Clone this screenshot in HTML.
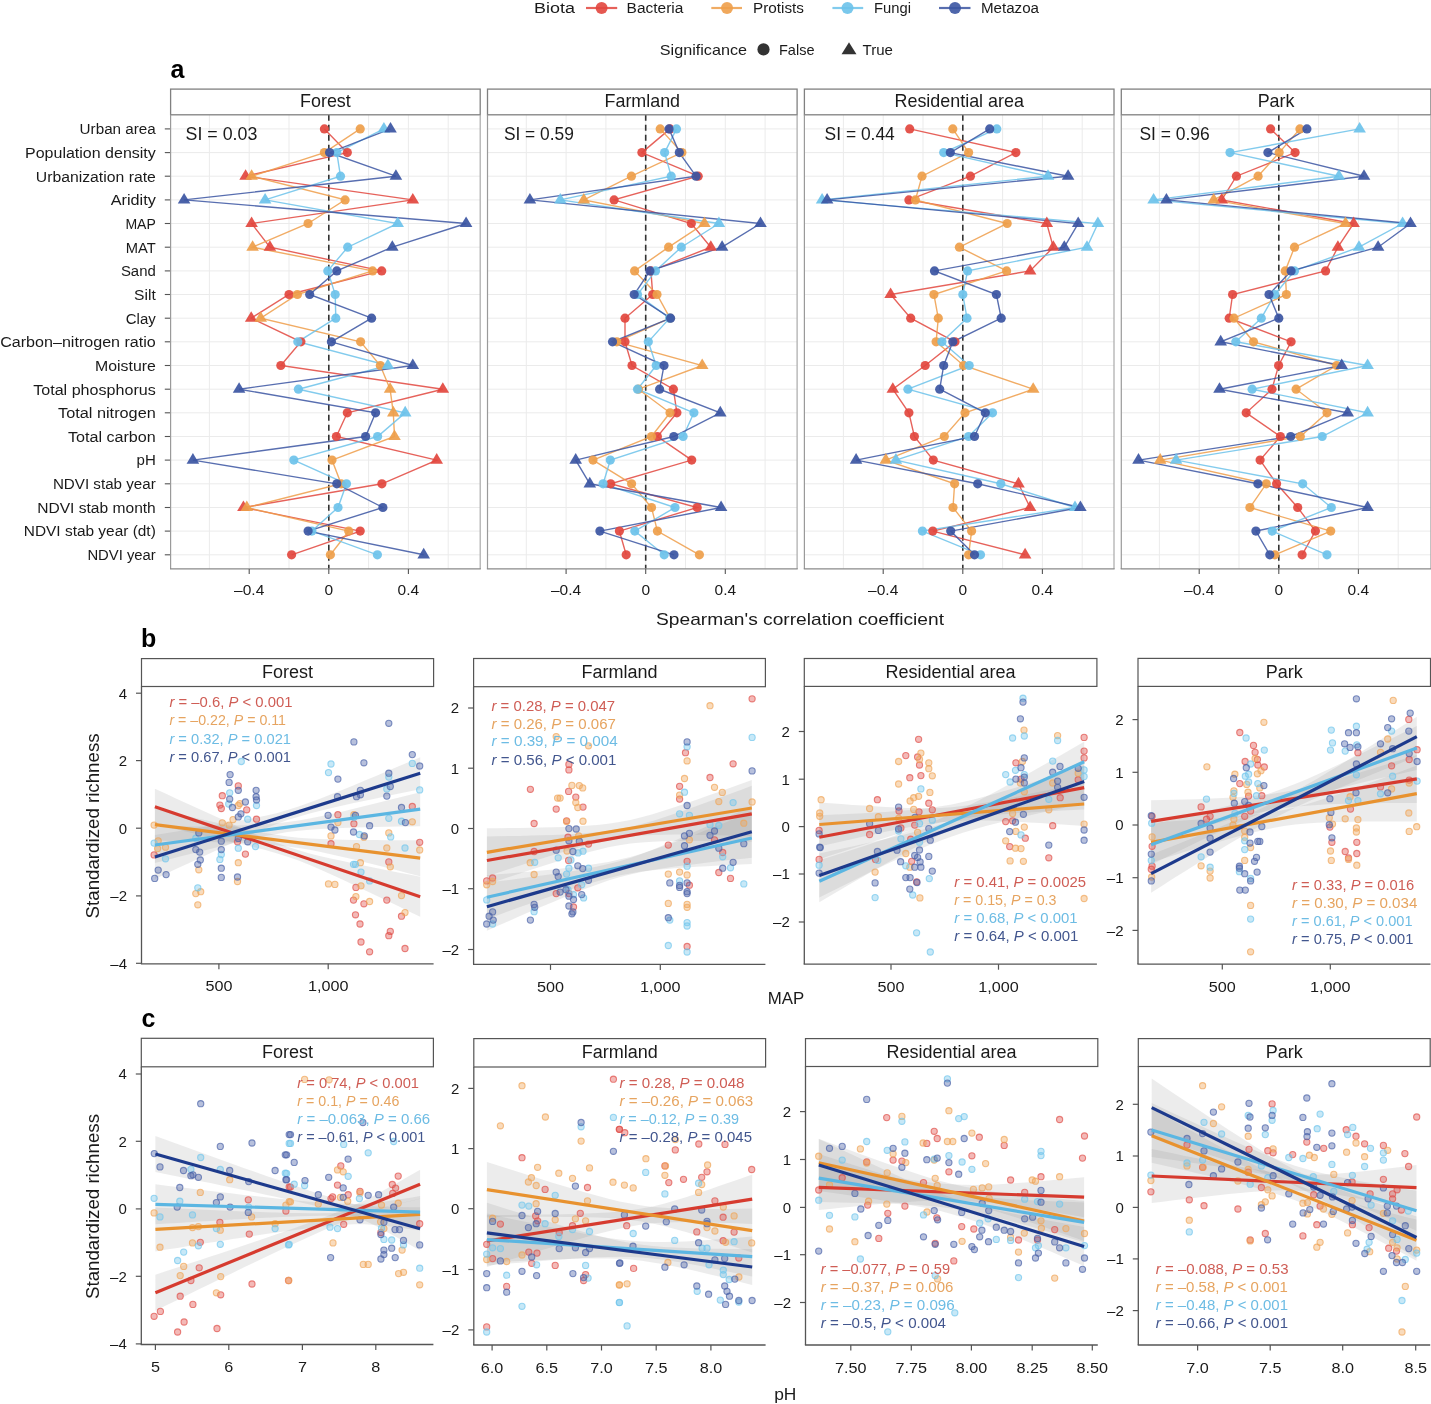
<!DOCTYPE html>
<html><head><meta charset="utf-8"><style>
html,body{margin:0;padding:0;background:#fff;}
svg{display:block;font-family:"Liberation Sans", sans-serif;will-change:transform;}
</style></head><body>
<svg width="1431" height="1404" viewBox="0 0 1431 1404">
<rect width="1431" height="1404" fill="#fff"/>
<text x="534.1" y="13.4" font-size="15.2" text-anchor="start" fill="#1a1a1a" textLength="40.9" lengthAdjust="spacingAndGlyphs">Biota</text>
<line x1="586" y1="8" x2="617.2" y2="8" stroke="#E2463E" stroke-width="2.2" opacity="0.85"/>
<circle cx="601.6" cy="8" r="6" fill="#E2463E" opacity="0.9"/>
<text x="626.6" y="13.4" font-size="15.2" text-anchor="start" fill="#1a1a1a" textLength="56.8" lengthAdjust="spacingAndGlyphs">Bacteria</text>
<line x1="711.3" y1="8" x2="742" y2="8" stroke="#EE9E4A" stroke-width="2.2" opacity="0.85"/>
<circle cx="727" cy="8" r="6" fill="#EE9E4A" opacity="0.9"/>
<text x="753.0" y="13.4" font-size="15.2" text-anchor="start" fill="#1a1a1a" textLength="51.0" lengthAdjust="spacingAndGlyphs">Protists</text>
<line x1="832.4" y1="8" x2="863.2" y2="8" stroke="#6CC2EA" stroke-width="2.2" opacity="0.85"/>
<circle cx="847.5" cy="8" r="6" fill="#6CC2EA" opacity="0.9"/>
<text x="874.0" y="13.4" font-size="15.2" text-anchor="start" fill="#1a1a1a" textLength="37.0" lengthAdjust="spacingAndGlyphs">Fungi</text>
<line x1="939" y1="8" x2="970.5" y2="8" stroke="#3B55A2" stroke-width="2.2" opacity="0.85"/>
<circle cx="955" cy="8" r="6" fill="#3B55A2" opacity="0.9"/>
<text x="980.9" y="13.4" font-size="15.2" text-anchor="start" fill="#1a1a1a" textLength="58.1" lengthAdjust="spacingAndGlyphs">Metazoa</text>
<text x="659.8" y="54.5" font-size="15" text-anchor="start" fill="#1a1a1a" textLength="87.2" lengthAdjust="spacingAndGlyphs">Significance</text>
<circle cx="763.5" cy="49.4" r="6.1" fill="#333"/>
<text x="779.0" y="54.5" font-size="15" text-anchor="start" fill="#1a1a1a" textLength="35.5" lengthAdjust="spacingAndGlyphs">False</text>
<path d="M849 42.3 L856.5 54.3 L841.5 54.3 Z" fill="#333"/>
<text x="862.6" y="54.5" font-size="15" text-anchor="start" fill="#1a1a1a" textLength="30.4" lengthAdjust="spacingAndGlyphs">True</text>
<text x="170.5" y="78.0" font-size="25" text-anchor="start" fill="#000" font-weight="bold">a</text>
<text x="155.8" y="134.2" font-size="15.5" text-anchor="end" fill="#1a1a1a" textLength="76.2" lengthAdjust="spacingAndGlyphs">Urban area</text>
<line x1="164.8" y1="128.9" x2="170.6" y2="128.9" stroke="#555" stroke-width="1.1"/>
<text x="155.8" y="157.9" font-size="15.5" text-anchor="end" fill="#1a1a1a" textLength="130.8" lengthAdjust="spacingAndGlyphs">Population density</text>
<line x1="164.8" y1="152.6" x2="170.6" y2="152.6" stroke="#555" stroke-width="1.1"/>
<text x="155.8" y="181.5" font-size="15.5" text-anchor="end" fill="#1a1a1a" textLength="120.0" lengthAdjust="spacingAndGlyphs">Urbanization rate</text>
<line x1="164.8" y1="176.2" x2="170.6" y2="176.2" stroke="#555" stroke-width="1.1"/>
<text x="155.8" y="205.2" font-size="15.5" text-anchor="end" fill="#1a1a1a" textLength="45.1" lengthAdjust="spacingAndGlyphs">Aridity</text>
<line x1="164.8" y1="199.9" x2="170.6" y2="199.9" stroke="#555" stroke-width="1.1"/>
<text x="155.8" y="228.8" font-size="15.5" text-anchor="end" fill="#1a1a1a" textLength="30.4" lengthAdjust="spacingAndGlyphs">MAP</text>
<line x1="164.8" y1="223.5" x2="170.6" y2="223.5" stroke="#555" stroke-width="1.1"/>
<text x="155.8" y="252.5" font-size="15.5" text-anchor="end" fill="#1a1a1a" textLength="30.0" lengthAdjust="spacingAndGlyphs">MAT</text>
<line x1="164.8" y1="247.2" x2="170.6" y2="247.2" stroke="#555" stroke-width="1.1"/>
<text x="155.8" y="276.2" font-size="15.5" text-anchor="end" fill="#1a1a1a" textLength="34.9" lengthAdjust="spacingAndGlyphs">Sand</text>
<line x1="164.8" y1="270.9" x2="170.6" y2="270.9" stroke="#555" stroke-width="1.1"/>
<text x="155.8" y="299.8" font-size="15.5" text-anchor="end" fill="#1a1a1a" textLength="21.7" lengthAdjust="spacingAndGlyphs">Silt</text>
<line x1="164.8" y1="294.5" x2="170.6" y2="294.5" stroke="#555" stroke-width="1.1"/>
<text x="155.8" y="323.5" font-size="15.5" text-anchor="end" fill="#1a1a1a" textLength="30.0" lengthAdjust="spacingAndGlyphs">Clay</text>
<line x1="164.8" y1="318.2" x2="170.6" y2="318.2" stroke="#555" stroke-width="1.1"/>
<text x="155.8" y="347.1" font-size="15.5" text-anchor="end" fill="#1a1a1a" textLength="155.6" lengthAdjust="spacingAndGlyphs">Carbon–nitrogen ratio</text>
<line x1="164.8" y1="341.8" x2="170.6" y2="341.8" stroke="#555" stroke-width="1.1"/>
<text x="155.8" y="370.8" font-size="15.5" text-anchor="end" fill="#1a1a1a" textLength="60.7" lengthAdjust="spacingAndGlyphs">Moisture</text>
<line x1="164.8" y1="365.5" x2="170.6" y2="365.5" stroke="#555" stroke-width="1.1"/>
<text x="155.8" y="394.5" font-size="15.5" text-anchor="end" fill="#1a1a1a" textLength="122.6" lengthAdjust="spacingAndGlyphs">Total phosphorus</text>
<line x1="164.8" y1="389.2" x2="170.6" y2="389.2" stroke="#555" stroke-width="1.1"/>
<text x="155.8" y="418.1" font-size="15.5" text-anchor="end" fill="#1a1a1a" textLength="97.8" lengthAdjust="spacingAndGlyphs">Total nitrogen</text>
<line x1="164.8" y1="412.8" x2="170.6" y2="412.8" stroke="#555" stroke-width="1.1"/>
<text x="155.8" y="441.8" font-size="15.5" text-anchor="end" fill="#1a1a1a" textLength="87.9" lengthAdjust="spacingAndGlyphs">Total carbon</text>
<line x1="164.8" y1="436.5" x2="170.6" y2="436.5" stroke="#555" stroke-width="1.1"/>
<text x="155.8" y="465.4" font-size="15.5" text-anchor="end" fill="#1a1a1a" textLength="19.2" lengthAdjust="spacingAndGlyphs">pH</text>
<line x1="164.8" y1="460.1" x2="170.6" y2="460.1" stroke="#555" stroke-width="1.1"/>
<text x="155.8" y="489.1" font-size="15.5" text-anchor="end" fill="#1a1a1a" textLength="102.9" lengthAdjust="spacingAndGlyphs">NDVI stab year</text>
<line x1="164.8" y1="483.8" x2="170.6" y2="483.8" stroke="#555" stroke-width="1.1"/>
<text x="155.8" y="512.8" font-size="15.5" text-anchor="end" fill="#1a1a1a" textLength="118.6" lengthAdjust="spacingAndGlyphs">NDVI stab month</text>
<line x1="164.8" y1="507.5" x2="170.6" y2="507.5" stroke="#555" stroke-width="1.1"/>
<text x="155.8" y="536.4" font-size="15.5" text-anchor="end" fill="#1a1a1a" textLength="132.0" lengthAdjust="spacingAndGlyphs">NDVI stab year (dt)</text>
<line x1="164.8" y1="531.1" x2="170.6" y2="531.1" stroke="#555" stroke-width="1.1"/>
<text x="155.8" y="560.1" font-size="15.5" text-anchor="end" fill="#1a1a1a" textLength="68.4" lengthAdjust="spacingAndGlyphs">NDVI year</text>
<line x1="164.8" y1="554.8" x2="170.6" y2="554.8" stroke="#555" stroke-width="1.1"/>
<g stroke="#ebebeb" stroke-width="1">
<line x1="209.4" y1="114.8" x2="209.4" y2="568.9"/>
<line x1="249.2" y1="114.8" x2="249.2" y2="568.9"/>
<line x1="289.0" y1="114.8" x2="289.0" y2="568.9"/>
<line x1="328.8" y1="114.8" x2="328.8" y2="568.9"/>
<line x1="368.6" y1="114.8" x2="368.6" y2="568.9"/>
<line x1="408.4" y1="114.8" x2="408.4" y2="568.9"/>
<line x1="448.2" y1="114.8" x2="448.2" y2="568.9"/>
<line x1="170.6" y1="128.9" x2="480.20000000000005" y2="128.9"/>
<line x1="170.6" y1="152.6" x2="480.20000000000005" y2="152.6"/>
<line x1="170.6" y1="176.2" x2="480.20000000000005" y2="176.2"/>
<line x1="170.6" y1="199.9" x2="480.20000000000005" y2="199.9"/>
<line x1="170.6" y1="223.5" x2="480.20000000000005" y2="223.5"/>
<line x1="170.6" y1="247.2" x2="480.20000000000005" y2="247.2"/>
<line x1="170.6" y1="270.9" x2="480.20000000000005" y2="270.9"/>
<line x1="170.6" y1="294.5" x2="480.20000000000005" y2="294.5"/>
<line x1="170.6" y1="318.2" x2="480.20000000000005" y2="318.2"/>
<line x1="170.6" y1="341.8" x2="480.20000000000005" y2="341.8"/>
<line x1="170.6" y1="365.5" x2="480.20000000000005" y2="365.5"/>
<line x1="170.6" y1="389.2" x2="480.20000000000005" y2="389.2"/>
<line x1="170.6" y1="412.8" x2="480.20000000000005" y2="412.8"/>
<line x1="170.6" y1="436.5" x2="480.20000000000005" y2="436.5"/>
<line x1="170.6" y1="460.1" x2="480.20000000000005" y2="460.1"/>
<line x1="170.6" y1="483.8" x2="480.20000000000005" y2="483.8"/>
<line x1="170.6" y1="507.5" x2="480.20000000000005" y2="507.5"/>
<line x1="170.6" y1="531.1" x2="480.20000000000005" y2="531.1"/>
<line x1="170.6" y1="554.8" x2="480.20000000000005" y2="554.8"/>
</g>
<line x1="328.8" y1="114.8" x2="328.8" y2="568.9" stroke="#333" stroke-width="1.6" stroke-dasharray="6,4"/>
<polyline points="324.4,128.9 347.3,152.6 245.6,176.2 412.8,199.9 251.6,223.5 269.9,247.2 381.7,270.9 289.0,294.5 251.2,318.2 300.9,341.8 280.8,365.5 442.8,389.2 347.3,412.8 336.4,436.5 436.7,460.1 381.9,483.8 243.4,507.5 360.2,531.1 291.6,554.8" fill="none" stroke="#E2463E" stroke-width="1.4" opacity="0.85"/>
<polyline points="360.2,128.9 324.4,152.6 251.6,176.2 345.1,199.9 308.1,223.5 252.6,247.2 372.6,270.9 297.4,294.5 260.7,318.2 360.6,341.8 380.3,365.5 390.1,389.2 393.3,412.8 394.5,436.5 332.0,460.1 341.1,483.8 246.8,507.5 348.7,531.1 330.4,554.8" fill="none" stroke="#EE9E4A" stroke-width="1.4" opacity="0.85"/>
<polyline points="383.9,128.9 336.8,152.6 340.5,176.2 265.1,199.9 397.7,223.5 347.7,247.2 327.8,270.9 335.2,294.5 335.8,318.2 297.8,341.8 387.9,365.5 298.4,389.2 405.2,412.8 377.6,436.5 293.8,460.1 346.5,483.8 338.0,507.5 311.9,531.1 377.4,554.8" fill="none" stroke="#6CC2EA" stroke-width="1.4" opacity="0.85"/>
<polyline points="390.5,128.9 329.6,152.6 395.9,176.2 184.1,199.9 466.1,223.5 392.3,247.2 336.8,270.9 309.7,294.5 371.6,318.2 331.4,341.8 412.8,365.5 239.1,389.2 375.6,412.8 365.6,436.5 192.9,460.1 336.8,483.8 382.9,507.5 308.1,531.1 423.7,554.8" fill="none" stroke="#3B55A2" stroke-width="1.4" opacity="0.85"/>
<circle cx="324.4" cy="128.9" r="4.6" fill="#E2463E" opacity="0.92"/>
<circle cx="360.2" cy="128.9" r="4.6" fill="#EE9E4A" opacity="0.92"/>
<path d="M383.9 121.9 L390.2 132.5 L377.6 132.5 Z" fill="#6CC2EA" opacity="0.92"/>
<path d="M390.5 121.9 L396.8 132.5 L384.2 132.5 Z" fill="#3B55A2" opacity="0.92"/>
<circle cx="347.3" cy="152.6" r="4.6" fill="#E2463E" opacity="0.92"/>
<circle cx="324.4" cy="152.6" r="4.6" fill="#EE9E4A" opacity="0.92"/>
<circle cx="336.8" cy="152.6" r="4.6" fill="#6CC2EA" opacity="0.92"/>
<circle cx="329.6" cy="152.6" r="4.6" fill="#3B55A2" opacity="0.92"/>
<path d="M245.6 169.2 L251.9 179.8 L239.3 179.8 Z" fill="#E2463E" opacity="0.92"/>
<path d="M251.6 169.2 L257.9 179.8 L245.3 179.8 Z" fill="#EE9E4A" opacity="0.92"/>
<circle cx="340.5" cy="176.2" r="4.6" fill="#6CC2EA" opacity="0.92"/>
<path d="M395.9 169.2 L402.2 179.8 L389.6 179.8 Z" fill="#3B55A2" opacity="0.92"/>
<path d="M412.8 192.9 L419.1 203.5 L406.5 203.5 Z" fill="#E2463E" opacity="0.92"/>
<circle cx="345.1" cy="199.9" r="4.6" fill="#EE9E4A" opacity="0.92"/>
<path d="M265.1 192.9 L271.4 203.5 L258.8 203.5 Z" fill="#6CC2EA" opacity="0.92"/>
<path d="M184.1 192.9 L190.4 203.5 L177.8 203.5 Z" fill="#3B55A2" opacity="0.92"/>
<path d="M251.6 216.5 L257.9 227.1 L245.3 227.1 Z" fill="#E2463E" opacity="0.92"/>
<circle cx="308.1" cy="223.5" r="4.6" fill="#EE9E4A" opacity="0.92"/>
<path d="M397.7 216.5 L404.0 227.1 L391.4 227.1 Z" fill="#6CC2EA" opacity="0.92"/>
<path d="M466.1 216.5 L472.4 227.1 L459.8 227.1 Z" fill="#3B55A2" opacity="0.92"/>
<path d="M269.9 240.2 L276.2 250.8 L263.6 250.8 Z" fill="#E2463E" opacity="0.92"/>
<path d="M252.6 240.2 L258.9 250.8 L246.3 250.8 Z" fill="#EE9E4A" opacity="0.92"/>
<circle cx="347.7" cy="247.2" r="4.6" fill="#6CC2EA" opacity="0.92"/>
<path d="M392.3 240.2 L398.6 250.8 L386.0 250.8 Z" fill="#3B55A2" opacity="0.92"/>
<circle cx="381.7" cy="270.9" r="4.6" fill="#E2463E" opacity="0.92"/>
<circle cx="372.6" cy="270.9" r="4.6" fill="#EE9E4A" opacity="0.92"/>
<circle cx="327.8" cy="270.9" r="4.6" fill="#6CC2EA" opacity="0.92"/>
<circle cx="336.8" cy="270.9" r="4.6" fill="#3B55A2" opacity="0.92"/>
<circle cx="289.0" cy="294.5" r="4.6" fill="#E2463E" opacity="0.92"/>
<circle cx="297.4" cy="294.5" r="4.6" fill="#EE9E4A" opacity="0.92"/>
<circle cx="335.2" cy="294.5" r="4.6" fill="#6CC2EA" opacity="0.92"/>
<circle cx="309.7" cy="294.5" r="4.6" fill="#3B55A2" opacity="0.92"/>
<path d="M251.2 311.2 L257.5 321.8 L244.9 321.8 Z" fill="#E2463E" opacity="0.92"/>
<path d="M260.7 311.2 L267.0 321.8 L254.4 321.8 Z" fill="#EE9E4A" opacity="0.92"/>
<circle cx="335.8" cy="318.2" r="4.6" fill="#6CC2EA" opacity="0.92"/>
<circle cx="371.6" cy="318.2" r="4.6" fill="#3B55A2" opacity="0.92"/>
<circle cx="300.9" cy="341.8" r="4.6" fill="#E2463E" opacity="0.92"/>
<circle cx="360.6" cy="341.8" r="4.6" fill="#EE9E4A" opacity="0.92"/>
<circle cx="297.8" cy="341.8" r="4.6" fill="#6CC2EA" opacity="0.92"/>
<circle cx="331.4" cy="341.8" r="4.6" fill="#3B55A2" opacity="0.92"/>
<circle cx="280.8" cy="365.5" r="4.6" fill="#E2463E" opacity="0.92"/>
<circle cx="380.3" cy="365.5" r="4.6" fill="#EE9E4A" opacity="0.92"/>
<path d="M387.9 358.5 L394.2 369.1 L381.6 369.1 Z" fill="#6CC2EA" opacity="0.92"/>
<path d="M412.8 358.5 L419.1 369.1 L406.5 369.1 Z" fill="#3B55A2" opacity="0.92"/>
<path d="M442.8 382.2 L449.1 392.8 L436.5 392.8 Z" fill="#E2463E" opacity="0.92"/>
<path d="M390.1 382.2 L396.4 392.8 L383.8 392.8 Z" fill="#EE9E4A" opacity="0.92"/>
<circle cx="298.4" cy="389.2" r="4.6" fill="#6CC2EA" opacity="0.92"/>
<path d="M239.1 382.2 L245.4 392.8 L232.8 392.8 Z" fill="#3B55A2" opacity="0.92"/>
<circle cx="347.3" cy="412.8" r="4.6" fill="#E2463E" opacity="0.92"/>
<path d="M393.3 405.8 L399.6 416.4 L387.0 416.4 Z" fill="#EE9E4A" opacity="0.92"/>
<path d="M405.2 405.8 L411.5 416.4 L398.9 416.4 Z" fill="#6CC2EA" opacity="0.92"/>
<circle cx="375.6" cy="412.8" r="4.6" fill="#3B55A2" opacity="0.92"/>
<circle cx="336.4" cy="436.5" r="4.6" fill="#E2463E" opacity="0.92"/>
<path d="M394.5 429.5 L400.8 440.1 L388.2 440.1 Z" fill="#EE9E4A" opacity="0.92"/>
<circle cx="377.6" cy="436.5" r="4.6" fill="#6CC2EA" opacity="0.92"/>
<circle cx="365.6" cy="436.5" r="4.6" fill="#3B55A2" opacity="0.92"/>
<path d="M436.7 453.1 L443.0 463.7 L430.4 463.7 Z" fill="#E2463E" opacity="0.92"/>
<circle cx="332.0" cy="460.1" r="4.6" fill="#EE9E4A" opacity="0.92"/>
<circle cx="293.8" cy="460.1" r="4.6" fill="#6CC2EA" opacity="0.92"/>
<path d="M192.9 453.1 L199.2 463.7 L186.6 463.7 Z" fill="#3B55A2" opacity="0.92"/>
<circle cx="381.9" cy="483.8" r="4.6" fill="#E2463E" opacity="0.92"/>
<circle cx="341.1" cy="483.8" r="4.6" fill="#EE9E4A" opacity="0.92"/>
<circle cx="346.5" cy="483.8" r="4.6" fill="#6CC2EA" opacity="0.92"/>
<circle cx="336.8" cy="483.8" r="4.6" fill="#3B55A2" opacity="0.92"/>
<path d="M243.4 500.5 L249.7 511.1 L237.1 511.1 Z" fill="#E2463E" opacity="0.92"/>
<path d="M246.8 500.5 L253.1 511.1 L240.5 511.1 Z" fill="#EE9E4A" opacity="0.92"/>
<circle cx="338.0" cy="507.5" r="4.6" fill="#6CC2EA" opacity="0.92"/>
<circle cx="382.9" cy="507.5" r="4.6" fill="#3B55A2" opacity="0.92"/>
<circle cx="360.2" cy="531.1" r="4.6" fill="#E2463E" opacity="0.92"/>
<circle cx="348.7" cy="531.1" r="4.6" fill="#EE9E4A" opacity="0.92"/>
<circle cx="311.9" cy="531.1" r="4.6" fill="#6CC2EA" opacity="0.92"/>
<circle cx="308.1" cy="531.1" r="4.6" fill="#3B55A2" opacity="0.92"/>
<circle cx="291.6" cy="554.8" r="4.6" fill="#E2463E" opacity="0.92"/>
<circle cx="330.4" cy="554.8" r="4.6" fill="#EE9E4A" opacity="0.92"/>
<circle cx="377.4" cy="554.8" r="4.6" fill="#6CC2EA" opacity="0.92"/>
<path d="M423.7 547.8 L430.0 558.4 L417.4 558.4 Z" fill="#3B55A2" opacity="0.92"/>
<rect x="170.6" y="89.1" width="309.6" height="25.7" fill="#fff" stroke="#808080" stroke-width="1.3"/>
<text x="325.4" y="107.1" font-size="17.9" text-anchor="middle" fill="#1a1a1a">Forest</text>
<line x1="170.6" y1="114.8" x2="170.6" y2="568.9" stroke="#9a9a9a" stroke-width="1.2"/>
<line x1="480.20000000000005" y1="114.8" x2="480.20000000000005" y2="568.9" stroke="#aaa" stroke-width="1.2"/>
<line x1="170.0" y1="568.9" x2="480.80000000000007" y2="568.9" stroke="#8a8a8a" stroke-width="1.3"/>
<text x="185.6" y="140.4" font-size="17.5" text-anchor="start" fill="#1a1a1a" textLength="71.7" lengthAdjust="spacingAndGlyphs">SI = 0.03</text>
<line x1="249.2" y1="568.9" x2="249.2" y2="573.9" stroke="#555" stroke-width="1.1"/>
<text x="249.2" y="595.0" font-size="15.5" text-anchor="middle" fill="#1a1a1a">–0.4</text>
<line x1="328.8" y1="568.9" x2="328.8" y2="573.9" stroke="#555" stroke-width="1.1"/>
<text x="328.8" y="595.0" font-size="15.5" text-anchor="middle" fill="#1a1a1a">0</text>
<line x1="408.4" y1="568.9" x2="408.4" y2="573.9" stroke="#555" stroke-width="1.1"/>
<text x="408.4" y="595.0" font-size="15.5" text-anchor="middle" fill="#1a1a1a">0.4</text>
<g stroke="#ebebeb" stroke-width="1">
<line x1="526.3" y1="114.8" x2="526.3" y2="568.9"/>
<line x1="566.1" y1="114.8" x2="566.1" y2="568.9"/>
<line x1="605.9" y1="114.8" x2="605.9" y2="568.9"/>
<line x1="645.7" y1="114.8" x2="645.7" y2="568.9"/>
<line x1="685.5" y1="114.8" x2="685.5" y2="568.9"/>
<line x1="725.3" y1="114.8" x2="725.3" y2="568.9"/>
<line x1="765.1" y1="114.8" x2="765.1" y2="568.9"/>
<line x1="487.5" y1="128.9" x2="797.1" y2="128.9"/>
<line x1="487.5" y1="152.6" x2="797.1" y2="152.6"/>
<line x1="487.5" y1="176.2" x2="797.1" y2="176.2"/>
<line x1="487.5" y1="199.9" x2="797.1" y2="199.9"/>
<line x1="487.5" y1="223.5" x2="797.1" y2="223.5"/>
<line x1="487.5" y1="247.2" x2="797.1" y2="247.2"/>
<line x1="487.5" y1="270.9" x2="797.1" y2="270.9"/>
<line x1="487.5" y1="294.5" x2="797.1" y2="294.5"/>
<line x1="487.5" y1="318.2" x2="797.1" y2="318.2"/>
<line x1="487.5" y1="341.8" x2="797.1" y2="341.8"/>
<line x1="487.5" y1="365.5" x2="797.1" y2="365.5"/>
<line x1="487.5" y1="389.2" x2="797.1" y2="389.2"/>
<line x1="487.5" y1="412.8" x2="797.1" y2="412.8"/>
<line x1="487.5" y1="436.5" x2="797.1" y2="436.5"/>
<line x1="487.5" y1="460.1" x2="797.1" y2="460.1"/>
<line x1="487.5" y1="483.8" x2="797.1" y2="483.8"/>
<line x1="487.5" y1="507.5" x2="797.1" y2="507.5"/>
<line x1="487.5" y1="531.1" x2="797.1" y2="531.1"/>
<line x1="487.5" y1="554.8" x2="797.1" y2="554.8"/>
</g>
<line x1="645.7" y1="114.8" x2="645.7" y2="568.9" stroke="#333" stroke-width="1.6" stroke-dasharray="6,4"/>
<polyline points="670.0,128.9 641.9,152.6 698.2,176.2 614.1,199.9 691.3,223.5 710.8,247.2 650.9,270.9 652.7,294.5 625.0,318.2 625.0,341.8 632.0,365.5 673.4,389.2 676.9,412.8 657.4,436.5 691.7,460.1 610.7,483.8 697.2,507.5 619.4,531.1 626.2,554.8" fill="none" stroke="#E2463E" stroke-width="1.4" opacity="0.85"/>
<polyline points="660.2,128.9 681.9,152.6 631.4,176.2 583.8,199.9 704.4,223.5 668.6,247.2 634.6,270.9 657.0,294.5 670.0,318.2 616.8,341.8 702.2,365.5 638.5,389.2 670.0,412.8 651.5,436.5 593.0,460.1 631.6,483.8 651.5,507.5 657.4,531.1 699.4,554.8" fill="none" stroke="#EE9E4A" stroke-width="1.4" opacity="0.85"/>
<polyline points="676.5,128.9 664.6,152.6 671.2,176.2 560.3,199.9 718.9,223.5 681.3,247.2 655.5,270.9 637.5,294.5 669.6,318.2 648.3,341.8 656.2,365.5 637.5,389.2 693.9,412.8 683.1,436.5 610.3,460.1 603.1,483.8 675.0,507.5 634.8,531.1 664.2,554.8" fill="none" stroke="#6CC2EA" stroke-width="1.4" opacity="0.85"/>
<polyline points="669.0,128.9 679.3,152.6 696.0,176.2 529.9,199.9 760.5,223.5 722.1,247.2 649.9,270.9 634.2,294.5 670.6,318.2 612.5,341.8 664.0,365.5 659.6,389.2 720.3,412.8 673.8,436.5 575.7,460.1 589.8,483.8 721.1,507.5 599.9,531.1 674.0,554.8" fill="none" stroke="#3B55A2" stroke-width="1.4" opacity="0.85"/>
<circle cx="670.0" cy="128.9" r="4.6" fill="#E2463E" opacity="0.92"/>
<circle cx="660.2" cy="128.9" r="4.6" fill="#EE9E4A" opacity="0.92"/>
<circle cx="676.5" cy="128.9" r="4.6" fill="#6CC2EA" opacity="0.92"/>
<circle cx="669.0" cy="128.9" r="4.6" fill="#3B55A2" opacity="0.92"/>
<circle cx="641.9" cy="152.6" r="4.6" fill="#E2463E" opacity="0.92"/>
<circle cx="681.9" cy="152.6" r="4.6" fill="#EE9E4A" opacity="0.92"/>
<circle cx="664.6" cy="152.6" r="4.6" fill="#6CC2EA" opacity="0.92"/>
<circle cx="679.3" cy="152.6" r="4.6" fill="#3B55A2" opacity="0.92"/>
<circle cx="698.2" cy="176.2" r="4.6" fill="#E2463E" opacity="0.92"/>
<circle cx="631.4" cy="176.2" r="4.6" fill="#EE9E4A" opacity="0.92"/>
<circle cx="671.2" cy="176.2" r="4.6" fill="#6CC2EA" opacity="0.92"/>
<circle cx="696.0" cy="176.2" r="4.6" fill="#3B55A2" opacity="0.92"/>
<circle cx="614.1" cy="199.9" r="4.6" fill="#E2463E" opacity="0.92"/>
<path d="M583.8 192.9 L590.1 203.5 L577.5 203.5 Z" fill="#EE9E4A" opacity="0.92"/>
<path d="M560.3 192.9 L566.6 203.5 L554.0 203.5 Z" fill="#6CC2EA" opacity="0.92"/>
<path d="M529.9 192.9 L536.2 203.5 L523.6 203.5 Z" fill="#3B55A2" opacity="0.92"/>
<circle cx="691.3" cy="223.5" r="4.6" fill="#E2463E" opacity="0.92"/>
<path d="M704.4 216.5 L710.7 227.1 L698.1 227.1 Z" fill="#EE9E4A" opacity="0.92"/>
<path d="M718.9 216.5 L725.2 227.1 L712.6 227.1 Z" fill="#6CC2EA" opacity="0.92"/>
<path d="M760.5 216.5 L766.8 227.1 L754.2 227.1 Z" fill="#3B55A2" opacity="0.92"/>
<path d="M710.8 240.2 L717.1 250.8 L704.5 250.8 Z" fill="#E2463E" opacity="0.92"/>
<circle cx="668.6" cy="247.2" r="4.6" fill="#EE9E4A" opacity="0.92"/>
<circle cx="681.3" cy="247.2" r="4.6" fill="#6CC2EA" opacity="0.92"/>
<path d="M722.1 240.2 L728.4 250.8 L715.8 250.8 Z" fill="#3B55A2" opacity="0.92"/>
<circle cx="650.9" cy="270.9" r="4.6" fill="#E2463E" opacity="0.92"/>
<circle cx="634.6" cy="270.9" r="4.6" fill="#EE9E4A" opacity="0.92"/>
<circle cx="655.5" cy="270.9" r="4.6" fill="#6CC2EA" opacity="0.92"/>
<circle cx="649.9" cy="270.9" r="4.6" fill="#3B55A2" opacity="0.92"/>
<circle cx="652.7" cy="294.5" r="4.6" fill="#E2463E" opacity="0.92"/>
<circle cx="657.0" cy="294.5" r="4.6" fill="#EE9E4A" opacity="0.92"/>
<circle cx="637.5" cy="294.5" r="4.6" fill="#6CC2EA" opacity="0.92"/>
<circle cx="634.2" cy="294.5" r="4.6" fill="#3B55A2" opacity="0.92"/>
<circle cx="625.0" cy="318.2" r="4.6" fill="#E2463E" opacity="0.92"/>
<circle cx="670.0" cy="318.2" r="4.6" fill="#EE9E4A" opacity="0.92"/>
<circle cx="669.6" cy="318.2" r="4.6" fill="#6CC2EA" opacity="0.92"/>
<circle cx="670.6" cy="318.2" r="4.6" fill="#3B55A2" opacity="0.92"/>
<circle cx="625.0" cy="341.8" r="4.6" fill="#E2463E" opacity="0.92"/>
<circle cx="616.8" cy="341.8" r="4.6" fill="#EE9E4A" opacity="0.92"/>
<circle cx="648.3" cy="341.8" r="4.6" fill="#6CC2EA" opacity="0.92"/>
<circle cx="612.5" cy="341.8" r="4.6" fill="#3B55A2" opacity="0.92"/>
<circle cx="632.0" cy="365.5" r="4.6" fill="#E2463E" opacity="0.92"/>
<path d="M702.2 358.5 L708.5 369.1 L695.9 369.1 Z" fill="#EE9E4A" opacity="0.92"/>
<circle cx="656.2" cy="365.5" r="4.6" fill="#6CC2EA" opacity="0.92"/>
<circle cx="664.0" cy="365.5" r="4.6" fill="#3B55A2" opacity="0.92"/>
<circle cx="673.4" cy="389.2" r="4.6" fill="#E2463E" opacity="0.92"/>
<circle cx="638.5" cy="389.2" r="4.6" fill="#EE9E4A" opacity="0.92"/>
<circle cx="637.5" cy="389.2" r="4.6" fill="#6CC2EA" opacity="0.92"/>
<circle cx="659.6" cy="389.2" r="4.6" fill="#3B55A2" opacity="0.92"/>
<circle cx="676.9" cy="412.8" r="4.6" fill="#E2463E" opacity="0.92"/>
<circle cx="670.0" cy="412.8" r="4.6" fill="#EE9E4A" opacity="0.92"/>
<circle cx="693.9" cy="412.8" r="4.6" fill="#6CC2EA" opacity="0.92"/>
<path d="M720.3 405.8 L726.6 416.4 L714.0 416.4 Z" fill="#3B55A2" opacity="0.92"/>
<circle cx="657.4" cy="436.5" r="4.6" fill="#E2463E" opacity="0.92"/>
<circle cx="651.5" cy="436.5" r="4.6" fill="#EE9E4A" opacity="0.92"/>
<circle cx="683.1" cy="436.5" r="4.6" fill="#6CC2EA" opacity="0.92"/>
<circle cx="673.8" cy="436.5" r="4.6" fill="#3B55A2" opacity="0.92"/>
<circle cx="691.7" cy="460.1" r="4.6" fill="#E2463E" opacity="0.92"/>
<circle cx="593.0" cy="460.1" r="4.6" fill="#EE9E4A" opacity="0.92"/>
<circle cx="610.3" cy="460.1" r="4.6" fill="#6CC2EA" opacity="0.92"/>
<path d="M575.7 453.1 L582.0 463.7 L569.4 463.7 Z" fill="#3B55A2" opacity="0.92"/>
<circle cx="610.7" cy="483.8" r="4.6" fill="#E2463E" opacity="0.92"/>
<circle cx="631.6" cy="483.8" r="4.6" fill="#EE9E4A" opacity="0.92"/>
<circle cx="603.1" cy="483.8" r="4.6" fill="#6CC2EA" opacity="0.92"/>
<path d="M589.8 476.8 L596.1 487.4 L583.5 487.4 Z" fill="#3B55A2" opacity="0.92"/>
<circle cx="697.2" cy="507.5" r="4.6" fill="#E2463E" opacity="0.92"/>
<circle cx="651.5" cy="507.5" r="4.6" fill="#EE9E4A" opacity="0.92"/>
<circle cx="675.0" cy="507.5" r="4.6" fill="#6CC2EA" opacity="0.92"/>
<path d="M721.1 500.5 L727.4 511.1 L714.8 511.1 Z" fill="#3B55A2" opacity="0.92"/>
<circle cx="619.4" cy="531.1" r="4.6" fill="#E2463E" opacity="0.92"/>
<circle cx="657.4" cy="531.1" r="4.6" fill="#EE9E4A" opacity="0.92"/>
<circle cx="634.8" cy="531.1" r="4.6" fill="#6CC2EA" opacity="0.92"/>
<circle cx="599.9" cy="531.1" r="4.6" fill="#3B55A2" opacity="0.92"/>
<circle cx="626.2" cy="554.8" r="4.6" fill="#E2463E" opacity="0.92"/>
<circle cx="699.4" cy="554.8" r="4.6" fill="#EE9E4A" opacity="0.92"/>
<circle cx="664.2" cy="554.8" r="4.6" fill="#6CC2EA" opacity="0.92"/>
<circle cx="674.0" cy="554.8" r="4.6" fill="#3B55A2" opacity="0.92"/>
<rect x="487.5" y="89.1" width="309.6" height="25.7" fill="#fff" stroke="#808080" stroke-width="1.3"/>
<text x="642.3" y="107.1" font-size="17.9" text-anchor="middle" fill="#1a1a1a">Farmland</text>
<line x1="487.5" y1="114.8" x2="487.5" y2="568.9" stroke="#9a9a9a" stroke-width="1.2"/>
<line x1="797.1" y1="114.8" x2="797.1" y2="568.9" stroke="#aaa" stroke-width="1.2"/>
<line x1="486.9" y1="568.9" x2="797.7" y2="568.9" stroke="#8a8a8a" stroke-width="1.3"/>
<text x="503.9" y="140.4" font-size="17.5" text-anchor="start" fill="#1a1a1a" textLength="70.0" lengthAdjust="spacingAndGlyphs">SI = 0.59</text>
<line x1="566.1" y1="568.9" x2="566.1" y2="573.9" stroke="#555" stroke-width="1.1"/>
<text x="566.1" y="595.0" font-size="15.5" text-anchor="middle" fill="#1a1a1a">–0.4</text>
<line x1="645.7" y1="568.9" x2="645.7" y2="573.9" stroke="#555" stroke-width="1.1"/>
<text x="645.7" y="595.0" font-size="15.5" text-anchor="middle" fill="#1a1a1a">0</text>
<line x1="725.3" y1="568.9" x2="725.3" y2="573.9" stroke="#555" stroke-width="1.1"/>
<text x="725.3" y="595.0" font-size="15.5" text-anchor="middle" fill="#1a1a1a">0.4</text>
<g stroke="#ebebeb" stroke-width="1">
<line x1="843.4" y1="114.8" x2="843.4" y2="568.9"/>
<line x1="883.2" y1="114.8" x2="883.2" y2="568.9"/>
<line x1="923.0" y1="114.8" x2="923.0" y2="568.9"/>
<line x1="962.8" y1="114.8" x2="962.8" y2="568.9"/>
<line x1="1002.6" y1="114.8" x2="1002.6" y2="568.9"/>
<line x1="1042.4" y1="114.8" x2="1042.4" y2="568.9"/>
<line x1="1082.2" y1="114.8" x2="1082.2" y2="568.9"/>
<line x1="804.4" y1="128.9" x2="1114.0" y2="128.9"/>
<line x1="804.4" y1="152.6" x2="1114.0" y2="152.6"/>
<line x1="804.4" y1="176.2" x2="1114.0" y2="176.2"/>
<line x1="804.4" y1="199.9" x2="1114.0" y2="199.9"/>
<line x1="804.4" y1="223.5" x2="1114.0" y2="223.5"/>
<line x1="804.4" y1="247.2" x2="1114.0" y2="247.2"/>
<line x1="804.4" y1="270.9" x2="1114.0" y2="270.9"/>
<line x1="804.4" y1="294.5" x2="1114.0" y2="294.5"/>
<line x1="804.4" y1="318.2" x2="1114.0" y2="318.2"/>
<line x1="804.4" y1="341.8" x2="1114.0" y2="341.8"/>
<line x1="804.4" y1="365.5" x2="1114.0" y2="365.5"/>
<line x1="804.4" y1="389.2" x2="1114.0" y2="389.2"/>
<line x1="804.4" y1="412.8" x2="1114.0" y2="412.8"/>
<line x1="804.4" y1="436.5" x2="1114.0" y2="436.5"/>
<line x1="804.4" y1="460.1" x2="1114.0" y2="460.1"/>
<line x1="804.4" y1="483.8" x2="1114.0" y2="483.8"/>
<line x1="804.4" y1="507.5" x2="1114.0" y2="507.5"/>
<line x1="804.4" y1="531.1" x2="1114.0" y2="531.1"/>
<line x1="804.4" y1="554.8" x2="1114.0" y2="554.8"/>
</g>
<line x1="962.8" y1="114.8" x2="962.8" y2="568.9" stroke="#333" stroke-width="1.6" stroke-dasharray="6,4"/>
<polyline points="909.7,128.9 1015.9,152.6 970.4,176.2 908.9,199.9 1046.8,223.5 1053.3,247.2 1030.1,270.9 890.6,294.5 910.7,318.2 955.0,341.8 925.2,365.5 892.8,389.2 908.9,412.8 914.4,436.5 933.3,460.1 1018.5,483.8 1030.1,507.5 932.8,531.1 1025.1,554.8" fill="none" stroke="#E2463E" stroke-width="1.4" opacity="0.85"/>
<polyline points="952.8,128.9 968.6,152.6 922.0,176.2 915.4,199.9 1007.2,223.5 959.4,247.2 1006.6,270.9 933.9,294.5 938.3,318.2 936.1,341.8 963.6,365.5 1033.2,389.2 965.0,412.8 944.3,436.5 885.8,460.1 954.6,483.8 953.0,507.5 971.6,531.1 968.6,554.8" fill="none" stroke="#EE9E4A" stroke-width="1.4" opacity="0.85"/>
<polyline points="996.8,128.9 943.7,152.6 1048.0,176.2 822.1,199.9 1097.9,223.5 1087.0,247.2 967.6,270.9 962.8,294.5 967.0,318.2 941.9,341.8 969.2,365.5 907.9,389.2 992.5,412.8 968.6,436.5 895.9,460.1 1000.8,483.8 1075.0,507.5 922.4,531.1 980.5,554.8" fill="none" stroke="#6CC2EA" stroke-width="1.4" opacity="0.85"/>
<polyline points="989.7,128.9 950.3,152.6 1068.1,176.2 827.1,199.9 1078.2,223.5 1064.3,247.2 934.5,270.9 996.4,294.5 1001.2,318.2 952.8,341.8 943.7,365.5 939.7,389.2 985.3,412.8 974.5,436.5 856.1,460.1 977.7,483.8 1080.4,507.5 950.7,531.1 974.5,554.8" fill="none" stroke="#3B55A2" stroke-width="1.4" opacity="0.85"/>
<circle cx="909.7" cy="128.9" r="4.6" fill="#E2463E" opacity="0.92"/>
<circle cx="952.8" cy="128.9" r="4.6" fill="#EE9E4A" opacity="0.92"/>
<circle cx="996.8" cy="128.9" r="4.6" fill="#6CC2EA" opacity="0.92"/>
<circle cx="989.7" cy="128.9" r="4.6" fill="#3B55A2" opacity="0.92"/>
<circle cx="1015.9" cy="152.6" r="4.6" fill="#E2463E" opacity="0.92"/>
<circle cx="968.6" cy="152.6" r="4.6" fill="#EE9E4A" opacity="0.92"/>
<circle cx="943.7" cy="152.6" r="4.6" fill="#6CC2EA" opacity="0.92"/>
<circle cx="950.3" cy="152.6" r="4.6" fill="#3B55A2" opacity="0.92"/>
<circle cx="970.4" cy="176.2" r="4.6" fill="#E2463E" opacity="0.92"/>
<circle cx="922.0" cy="176.2" r="4.6" fill="#EE9E4A" opacity="0.92"/>
<path d="M1048.0 169.2 L1054.3 179.8 L1041.7 179.8 Z" fill="#6CC2EA" opacity="0.92"/>
<path d="M1068.1 169.2 L1074.4 179.8 L1061.8 179.8 Z" fill="#3B55A2" opacity="0.92"/>
<circle cx="908.9" cy="199.9" r="4.6" fill="#E2463E" opacity="0.92"/>
<circle cx="915.4" cy="199.9" r="4.6" fill="#EE9E4A" opacity="0.92"/>
<path d="M822.1 192.9 L828.4 203.5 L815.8 203.5 Z" fill="#6CC2EA" opacity="0.92"/>
<path d="M827.1 192.9 L833.4 203.5 L820.8 203.5 Z" fill="#3B55A2" opacity="0.92"/>
<path d="M1046.8 216.5 L1053.1 227.1 L1040.5 227.1 Z" fill="#E2463E" opacity="0.92"/>
<circle cx="1007.2" cy="223.5" r="4.6" fill="#EE9E4A" opacity="0.92"/>
<path d="M1097.9 216.5 L1104.2 227.1 L1091.6 227.1 Z" fill="#6CC2EA" opacity="0.92"/>
<path d="M1078.2 216.5 L1084.5 227.1 L1071.9 227.1 Z" fill="#3B55A2" opacity="0.92"/>
<path d="M1053.3 240.2 L1059.6 250.8 L1047.0 250.8 Z" fill="#E2463E" opacity="0.92"/>
<circle cx="959.4" cy="247.2" r="4.6" fill="#EE9E4A" opacity="0.92"/>
<path d="M1087.0 240.2 L1093.3 250.8 L1080.7 250.8 Z" fill="#6CC2EA" opacity="0.92"/>
<path d="M1064.3 240.2 L1070.6 250.8 L1058.0 250.8 Z" fill="#3B55A2" opacity="0.92"/>
<path d="M1030.1 263.9 L1036.4 274.5 L1023.8 274.5 Z" fill="#E2463E" opacity="0.92"/>
<circle cx="1006.6" cy="270.9" r="4.6" fill="#EE9E4A" opacity="0.92"/>
<circle cx="967.6" cy="270.9" r="4.6" fill="#6CC2EA" opacity="0.92"/>
<circle cx="934.5" cy="270.9" r="4.6" fill="#3B55A2" opacity="0.92"/>
<path d="M890.6 287.5 L896.9 298.1 L884.3 298.1 Z" fill="#E2463E" opacity="0.92"/>
<circle cx="933.9" cy="294.5" r="4.6" fill="#EE9E4A" opacity="0.92"/>
<circle cx="962.8" cy="294.5" r="4.6" fill="#6CC2EA" opacity="0.92"/>
<circle cx="996.4" cy="294.5" r="4.6" fill="#3B55A2" opacity="0.92"/>
<circle cx="910.7" cy="318.2" r="4.6" fill="#E2463E" opacity="0.92"/>
<circle cx="938.3" cy="318.2" r="4.6" fill="#EE9E4A" opacity="0.92"/>
<circle cx="967.0" cy="318.2" r="4.6" fill="#6CC2EA" opacity="0.92"/>
<circle cx="1001.2" cy="318.2" r="4.6" fill="#3B55A2" opacity="0.92"/>
<circle cx="955.0" cy="341.8" r="4.6" fill="#E2463E" opacity="0.92"/>
<circle cx="936.1" cy="341.8" r="4.6" fill="#EE9E4A" opacity="0.92"/>
<circle cx="941.9" cy="341.8" r="4.6" fill="#6CC2EA" opacity="0.92"/>
<circle cx="952.8" cy="341.8" r="4.6" fill="#3B55A2" opacity="0.92"/>
<circle cx="925.2" cy="365.5" r="4.6" fill="#E2463E" opacity="0.92"/>
<circle cx="963.6" cy="365.5" r="4.6" fill="#EE9E4A" opacity="0.92"/>
<circle cx="969.2" cy="365.5" r="4.6" fill="#6CC2EA" opacity="0.92"/>
<circle cx="943.7" cy="365.5" r="4.6" fill="#3B55A2" opacity="0.92"/>
<path d="M892.8 382.2 L899.1 392.8 L886.5 392.8 Z" fill="#E2463E" opacity="0.92"/>
<path d="M1033.2 382.2 L1039.5 392.8 L1026.9 392.8 Z" fill="#EE9E4A" opacity="0.92"/>
<circle cx="907.9" cy="389.2" r="4.6" fill="#6CC2EA" opacity="0.92"/>
<circle cx="939.7" cy="389.2" r="4.6" fill="#3B55A2" opacity="0.92"/>
<circle cx="908.9" cy="412.8" r="4.6" fill="#E2463E" opacity="0.92"/>
<circle cx="965.0" cy="412.8" r="4.6" fill="#EE9E4A" opacity="0.92"/>
<circle cx="992.5" cy="412.8" r="4.6" fill="#6CC2EA" opacity="0.92"/>
<circle cx="985.3" cy="412.8" r="4.6" fill="#3B55A2" opacity="0.92"/>
<circle cx="914.4" cy="436.5" r="4.6" fill="#E2463E" opacity="0.92"/>
<circle cx="944.3" cy="436.5" r="4.6" fill="#EE9E4A" opacity="0.92"/>
<circle cx="968.6" cy="436.5" r="4.6" fill="#6CC2EA" opacity="0.92"/>
<circle cx="974.5" cy="436.5" r="4.6" fill="#3B55A2" opacity="0.92"/>
<circle cx="933.3" cy="460.1" r="4.6" fill="#E2463E" opacity="0.92"/>
<path d="M885.8 453.1 L892.1 463.7 L879.5 463.7 Z" fill="#EE9E4A" opacity="0.92"/>
<path d="M895.9 453.1 L902.2 463.7 L889.6 463.7 Z" fill="#6CC2EA" opacity="0.92"/>
<path d="M856.1 453.1 L862.4 463.7 L849.8 463.7 Z" fill="#3B55A2" opacity="0.92"/>
<path d="M1018.5 476.8 L1024.8 487.4 L1012.2 487.4 Z" fill="#E2463E" opacity="0.92"/>
<circle cx="954.6" cy="483.8" r="4.6" fill="#EE9E4A" opacity="0.92"/>
<circle cx="1000.8" cy="483.8" r="4.6" fill="#6CC2EA" opacity="0.92"/>
<circle cx="977.7" cy="483.8" r="4.6" fill="#3B55A2" opacity="0.92"/>
<path d="M1030.1 500.5 L1036.4 511.1 L1023.8 511.1 Z" fill="#E2463E" opacity="0.92"/>
<circle cx="953.0" cy="507.5" r="4.6" fill="#EE9E4A" opacity="0.92"/>
<path d="M1075.0 500.5 L1081.3 511.1 L1068.7 511.1 Z" fill="#6CC2EA" opacity="0.92"/>
<path d="M1080.4 500.5 L1086.7 511.1 L1074.1 511.1 Z" fill="#3B55A2" opacity="0.92"/>
<circle cx="932.8" cy="531.1" r="4.6" fill="#E2463E" opacity="0.92"/>
<circle cx="971.6" cy="531.1" r="4.6" fill="#EE9E4A" opacity="0.92"/>
<circle cx="922.4" cy="531.1" r="4.6" fill="#6CC2EA" opacity="0.92"/>
<circle cx="950.7" cy="531.1" r="4.6" fill="#3B55A2" opacity="0.92"/>
<path d="M1025.1 547.8 L1031.4 558.4 L1018.8 558.4 Z" fill="#E2463E" opacity="0.92"/>
<circle cx="968.6" cy="554.8" r="4.6" fill="#EE9E4A" opacity="0.92"/>
<circle cx="980.5" cy="554.8" r="4.6" fill="#6CC2EA" opacity="0.92"/>
<circle cx="974.5" cy="554.8" r="4.6" fill="#3B55A2" opacity="0.92"/>
<rect x="804.4" y="89.1" width="309.6" height="25.7" fill="#fff" stroke="#808080" stroke-width="1.3"/>
<text x="959.2" y="107.1" font-size="17.9" text-anchor="middle" fill="#1a1a1a">Residential area</text>
<line x1="804.4" y1="114.8" x2="804.4" y2="568.9" stroke="#9a9a9a" stroke-width="1.2"/>
<line x1="1114.0" y1="114.8" x2="1114.0" y2="568.9" stroke="#aaa" stroke-width="1.2"/>
<line x1="803.8" y1="568.9" x2="1114.6" y2="568.9" stroke="#8a8a8a" stroke-width="1.3"/>
<text x="824.6" y="140.4" font-size="17.5" text-anchor="start" fill="#1a1a1a" textLength="70.2" lengthAdjust="spacingAndGlyphs">SI = 0.44</text>
<line x1="883.2" y1="568.9" x2="883.2" y2="573.9" stroke="#555" stroke-width="1.1"/>
<text x="883.2" y="595.0" font-size="15.5" text-anchor="middle" fill="#1a1a1a">–0.4</text>
<line x1="962.8" y1="568.9" x2="962.8" y2="573.9" stroke="#555" stroke-width="1.1"/>
<text x="962.8" y="595.0" font-size="15.5" text-anchor="middle" fill="#1a1a1a">0</text>
<line x1="1042.4" y1="568.9" x2="1042.4" y2="573.9" stroke="#555" stroke-width="1.1"/>
<text x="1042.4" y="595.0" font-size="15.5" text-anchor="middle" fill="#1a1a1a">0.4</text>
<g stroke="#ebebeb" stroke-width="1">
<line x1="1159.4" y1="114.8" x2="1159.4" y2="568.9"/>
<line x1="1199.2" y1="114.8" x2="1199.2" y2="568.9"/>
<line x1="1239.0" y1="114.8" x2="1239.0" y2="568.9"/>
<line x1="1278.8" y1="114.8" x2="1278.8" y2="568.9"/>
<line x1="1318.6" y1="114.8" x2="1318.6" y2="568.9"/>
<line x1="1358.4" y1="114.8" x2="1358.4" y2="568.9"/>
<line x1="1398.2" y1="114.8" x2="1398.2" y2="568.9"/>
<line x1="1121.3" y1="128.9" x2="1430.9" y2="128.9"/>
<line x1="1121.3" y1="152.6" x2="1430.9" y2="152.6"/>
<line x1="1121.3" y1="176.2" x2="1430.9" y2="176.2"/>
<line x1="1121.3" y1="199.9" x2="1430.9" y2="199.9"/>
<line x1="1121.3" y1="223.5" x2="1430.9" y2="223.5"/>
<line x1="1121.3" y1="247.2" x2="1430.9" y2="247.2"/>
<line x1="1121.3" y1="270.9" x2="1430.9" y2="270.9"/>
<line x1="1121.3" y1="294.5" x2="1430.9" y2="294.5"/>
<line x1="1121.3" y1="318.2" x2="1430.9" y2="318.2"/>
<line x1="1121.3" y1="341.8" x2="1430.9" y2="341.8"/>
<line x1="1121.3" y1="365.5" x2="1430.9" y2="365.5"/>
<line x1="1121.3" y1="389.2" x2="1430.9" y2="389.2"/>
<line x1="1121.3" y1="412.8" x2="1430.9" y2="412.8"/>
<line x1="1121.3" y1="436.5" x2="1430.9" y2="436.5"/>
<line x1="1121.3" y1="460.1" x2="1430.9" y2="460.1"/>
<line x1="1121.3" y1="483.8" x2="1430.9" y2="483.8"/>
<line x1="1121.3" y1="507.5" x2="1430.9" y2="507.5"/>
<line x1="1121.3" y1="531.1" x2="1430.9" y2="531.1"/>
<line x1="1121.3" y1="554.8" x2="1430.9" y2="554.8"/>
</g>
<line x1="1278.8" y1="114.8" x2="1278.8" y2="568.9" stroke="#333" stroke-width="1.6" stroke-dasharray="6,4"/>
<polyline points="1270.6,128.9 1295.1,152.6 1236.4,176.2 1221.7,199.9 1353.6,223.5 1337.9,247.2 1325.6,270.9 1232.6,294.5 1229.2,318.2 1291.1,341.8 1278.6,365.5 1272.0,389.2 1246.2,412.8 1280.4,436.5 1260.1,460.1 1276.6,483.8 1297.7,507.5 1315.4,531.1 1302.1,554.8" fill="none" stroke="#E2463E" stroke-width="1.4" opacity="0.85"/>
<polyline points="1299.9,128.9 1279.2,152.6 1258.1,176.2 1213.7,199.9 1345.5,223.5 1294.5,247.2 1285.2,270.9 1286.4,294.5 1234.0,318.2 1253.5,341.8 1336.7,365.5 1296.1,389.2 1327.0,412.8 1300.3,436.5 1160.2,460.1 1266.3,483.8 1249.9,507.5 1330.7,531.1 1274.8,554.8" fill="none" stroke="#EE9E4A" stroke-width="1.4" opacity="0.85"/>
<polyline points="1359.6,128.9 1230.0,152.6 1338.9,176.2 1153.6,199.9 1402.6,223.5 1359.0,247.2 1294.5,270.9 1274.8,294.5 1261.3,318.2 1235.8,341.8 1367.6,365.5 1252.1,389.2 1367.6,412.8 1322.2,436.5 1176.1,460.1 1302.7,483.8 1331.3,507.5 1272.2,531.1 1327.0,554.8" fill="none" stroke="#6CC2EA" stroke-width="1.4" opacity="0.85"/>
<polyline points="1306.9,128.9 1267.9,152.6 1364.0,176.2 1166.4,199.9 1410.5,223.5 1378.1,247.2 1291.1,270.9 1269.0,294.5 1278.8,318.2 1220.7,341.8 1341.7,365.5 1219.5,389.2 1347.7,412.8 1290.7,436.5 1138.5,460.1 1257.9,483.8 1367.6,507.5 1255.9,531.1 1269.8,554.8" fill="none" stroke="#3B55A2" stroke-width="1.4" opacity="0.85"/>
<circle cx="1270.6" cy="128.9" r="4.6" fill="#E2463E" opacity="0.92"/>
<circle cx="1299.9" cy="128.9" r="4.6" fill="#EE9E4A" opacity="0.92"/>
<path d="M1359.6 121.9 L1365.9 132.5 L1353.3 132.5 Z" fill="#6CC2EA" opacity="0.92"/>
<circle cx="1306.9" cy="128.9" r="4.6" fill="#3B55A2" opacity="0.92"/>
<circle cx="1295.1" cy="152.6" r="4.6" fill="#E2463E" opacity="0.92"/>
<circle cx="1279.2" cy="152.6" r="4.6" fill="#EE9E4A" opacity="0.92"/>
<circle cx="1230.0" cy="152.6" r="4.6" fill="#6CC2EA" opacity="0.92"/>
<circle cx="1267.9" cy="152.6" r="4.6" fill="#3B55A2" opacity="0.92"/>
<circle cx="1236.4" cy="176.2" r="4.6" fill="#E2463E" opacity="0.92"/>
<circle cx="1258.1" cy="176.2" r="4.6" fill="#EE9E4A" opacity="0.92"/>
<path d="M1338.9 169.2 L1345.2 179.8 L1332.6 179.8 Z" fill="#6CC2EA" opacity="0.92"/>
<path d="M1364.0 169.2 L1370.3 179.8 L1357.7 179.8 Z" fill="#3B55A2" opacity="0.92"/>
<path d="M1221.7 192.9 L1228.0 203.5 L1215.4 203.5 Z" fill="#E2463E" opacity="0.92"/>
<path d="M1213.7 192.9 L1220.0 203.5 L1207.4 203.5 Z" fill="#EE9E4A" opacity="0.92"/>
<path d="M1153.6 192.9 L1159.9 203.5 L1147.3 203.5 Z" fill="#6CC2EA" opacity="0.92"/>
<path d="M1166.4 192.9 L1172.7 203.5 L1160.1 203.5 Z" fill="#3B55A2" opacity="0.92"/>
<path d="M1353.6 216.5 L1359.9 227.1 L1347.3 227.1 Z" fill="#E2463E" opacity="0.92"/>
<path d="M1345.5 216.5 L1351.8 227.1 L1339.2 227.1 Z" fill="#EE9E4A" opacity="0.92"/>
<path d="M1402.6 216.5 L1408.9 227.1 L1396.3 227.1 Z" fill="#6CC2EA" opacity="0.92"/>
<path d="M1410.5 216.5 L1416.8 227.1 L1404.2 227.1 Z" fill="#3B55A2" opacity="0.92"/>
<path d="M1337.9 240.2 L1344.2 250.8 L1331.6 250.8 Z" fill="#E2463E" opacity="0.92"/>
<circle cx="1294.5" cy="247.2" r="4.6" fill="#EE9E4A" opacity="0.92"/>
<path d="M1359.0 240.2 L1365.3 250.8 L1352.7 250.8 Z" fill="#6CC2EA" opacity="0.92"/>
<path d="M1378.1 240.2 L1384.4 250.8 L1371.8 250.8 Z" fill="#3B55A2" opacity="0.92"/>
<circle cx="1325.6" cy="270.9" r="4.6" fill="#E2463E" opacity="0.92"/>
<circle cx="1285.2" cy="270.9" r="4.6" fill="#EE9E4A" opacity="0.92"/>
<circle cx="1294.5" cy="270.9" r="4.6" fill="#6CC2EA" opacity="0.92"/>
<circle cx="1291.1" cy="270.9" r="4.6" fill="#3B55A2" opacity="0.92"/>
<circle cx="1232.6" cy="294.5" r="4.6" fill="#E2463E" opacity="0.92"/>
<circle cx="1286.4" cy="294.5" r="4.6" fill="#EE9E4A" opacity="0.92"/>
<circle cx="1274.8" cy="294.5" r="4.6" fill="#6CC2EA" opacity="0.92"/>
<circle cx="1269.0" cy="294.5" r="4.6" fill="#3B55A2" opacity="0.92"/>
<circle cx="1229.2" cy="318.2" r="4.6" fill="#E2463E" opacity="0.92"/>
<circle cx="1234.0" cy="318.2" r="4.6" fill="#EE9E4A" opacity="0.92"/>
<circle cx="1261.3" cy="318.2" r="4.6" fill="#6CC2EA" opacity="0.92"/>
<circle cx="1278.8" cy="318.2" r="4.6" fill="#3B55A2" opacity="0.92"/>
<circle cx="1291.1" cy="341.8" r="4.6" fill="#E2463E" opacity="0.92"/>
<circle cx="1253.5" cy="341.8" r="4.6" fill="#EE9E4A" opacity="0.92"/>
<circle cx="1235.8" cy="341.8" r="4.6" fill="#6CC2EA" opacity="0.92"/>
<path d="M1220.7 334.8 L1227.0 345.4 L1214.4 345.4 Z" fill="#3B55A2" opacity="0.92"/>
<circle cx="1278.6" cy="365.5" r="4.6" fill="#E2463E" opacity="0.92"/>
<circle cx="1336.7" cy="365.5" r="4.6" fill="#EE9E4A" opacity="0.92"/>
<path d="M1367.6 358.5 L1373.9 369.1 L1361.3 369.1 Z" fill="#6CC2EA" opacity="0.92"/>
<path d="M1341.7 358.5 L1348.0 369.1 L1335.4 369.1 Z" fill="#3B55A2" opacity="0.92"/>
<circle cx="1272.0" cy="389.2" r="4.6" fill="#E2463E" opacity="0.92"/>
<circle cx="1296.1" cy="389.2" r="4.6" fill="#EE9E4A" opacity="0.92"/>
<circle cx="1252.1" cy="389.2" r="4.6" fill="#6CC2EA" opacity="0.92"/>
<path d="M1219.5 382.2 L1225.8 392.8 L1213.2 392.8 Z" fill="#3B55A2" opacity="0.92"/>
<circle cx="1246.2" cy="412.8" r="4.6" fill="#E2463E" opacity="0.92"/>
<circle cx="1327.0" cy="412.8" r="4.6" fill="#EE9E4A" opacity="0.92"/>
<path d="M1367.6 405.8 L1373.9 416.4 L1361.3 416.4 Z" fill="#6CC2EA" opacity="0.92"/>
<path d="M1347.7 405.8 L1354.0 416.4 L1341.4 416.4 Z" fill="#3B55A2" opacity="0.92"/>
<circle cx="1280.4" cy="436.5" r="4.6" fill="#E2463E" opacity="0.92"/>
<circle cx="1300.3" cy="436.5" r="4.6" fill="#EE9E4A" opacity="0.92"/>
<circle cx="1322.2" cy="436.5" r="4.6" fill="#6CC2EA" opacity="0.92"/>
<circle cx="1290.7" cy="436.5" r="4.6" fill="#3B55A2" opacity="0.92"/>
<circle cx="1260.1" cy="460.1" r="4.6" fill="#E2463E" opacity="0.92"/>
<path d="M1160.2 453.1 L1166.5 463.7 L1153.9 463.7 Z" fill="#EE9E4A" opacity="0.92"/>
<path d="M1176.1 453.1 L1182.4 463.7 L1169.8 463.7 Z" fill="#6CC2EA" opacity="0.92"/>
<path d="M1138.5 453.1 L1144.8 463.7 L1132.2 463.7 Z" fill="#3B55A2" opacity="0.92"/>
<circle cx="1276.6" cy="483.8" r="4.6" fill="#E2463E" opacity="0.92"/>
<circle cx="1266.3" cy="483.8" r="4.6" fill="#EE9E4A" opacity="0.92"/>
<circle cx="1302.7" cy="483.8" r="4.6" fill="#6CC2EA" opacity="0.92"/>
<circle cx="1257.9" cy="483.8" r="4.6" fill="#3B55A2" opacity="0.92"/>
<circle cx="1297.7" cy="507.5" r="4.6" fill="#E2463E" opacity="0.92"/>
<circle cx="1249.9" cy="507.5" r="4.6" fill="#EE9E4A" opacity="0.92"/>
<circle cx="1331.3" cy="507.5" r="4.6" fill="#6CC2EA" opacity="0.92"/>
<path d="M1367.6 500.5 L1373.9 511.1 L1361.3 511.1 Z" fill="#3B55A2" opacity="0.92"/>
<circle cx="1315.4" cy="531.1" r="4.6" fill="#E2463E" opacity="0.92"/>
<circle cx="1330.7" cy="531.1" r="4.6" fill="#EE9E4A" opacity="0.92"/>
<circle cx="1272.2" cy="531.1" r="4.6" fill="#6CC2EA" opacity="0.92"/>
<circle cx="1255.9" cy="531.1" r="4.6" fill="#3B55A2" opacity="0.92"/>
<circle cx="1302.1" cy="554.8" r="4.6" fill="#E2463E" opacity="0.92"/>
<circle cx="1274.8" cy="554.8" r="4.6" fill="#EE9E4A" opacity="0.92"/>
<circle cx="1327.0" cy="554.8" r="4.6" fill="#6CC2EA" opacity="0.92"/>
<circle cx="1269.8" cy="554.8" r="4.6" fill="#3B55A2" opacity="0.92"/>
<rect x="1121.3" y="89.1" width="309.6" height="25.7" fill="#fff" stroke="#808080" stroke-width="1.3"/>
<text x="1276.1" y="107.1" font-size="17.9" text-anchor="middle" fill="#1a1a1a">Park</text>
<line x1="1121.3" y1="114.8" x2="1121.3" y2="568.9" stroke="#9a9a9a" stroke-width="1.2"/>
<line x1="1430.9" y1="114.8" x2="1430.9" y2="568.9" stroke="#aaa" stroke-width="1.2"/>
<line x1="1120.7" y1="568.9" x2="1431.5" y2="568.9" stroke="#8a8a8a" stroke-width="1.3"/>
<text x="1139.4" y="140.4" font-size="17.5" text-anchor="start" fill="#1a1a1a" textLength="70.4" lengthAdjust="spacingAndGlyphs">SI = 0.96</text>
<line x1="1199.2" y1="568.9" x2="1199.2" y2="573.9" stroke="#555" stroke-width="1.1"/>
<text x="1199.2" y="595.0" font-size="15.5" text-anchor="middle" fill="#1a1a1a">–0.4</text>
<line x1="1278.8" y1="568.9" x2="1278.8" y2="573.9" stroke="#555" stroke-width="1.1"/>
<text x="1278.8" y="595.0" font-size="15.5" text-anchor="middle" fill="#1a1a1a">0</text>
<line x1="1358.4" y1="568.9" x2="1358.4" y2="573.9" stroke="#555" stroke-width="1.1"/>
<text x="1358.4" y="595.0" font-size="15.5" text-anchor="middle" fill="#1a1a1a">0.4</text>
<text x="800.0" y="625.0" font-size="17" text-anchor="middle" fill="#1a1a1a" textLength="288.0" lengthAdjust="spacingAndGlyphs">Spearman's correlation coefficient</text>
<polygon points="154.9,788.7 166.0,793.8 177.0,798.9 188.1,804.0 199.1,809.0 210.2,814.1 221.2,819.1 232.3,824.0 243.3,828.9 254.4,833.7 265.4,838.3 276.5,842.7 287.5,846.7 298.6,850.3 309.7,853.4 320.7,856.2 331.8,858.7 342.8,861.1 353.9,863.5 364.9,865.7 376.0,868.0 387.0,870.2 398.1,872.4 409.1,874.5 420.2,876.7 420.2,916.7 409.1,911.4 398.1,906.0 387.0,900.7 376.0,895.4 364.9,890.2 353.9,884.9 342.8,879.8 331.8,874.7 320.7,869.7 309.7,865.0 298.6,860.6 287.5,856.7 276.5,853.2 265.4,850.1 254.4,847.2 243.3,844.5 232.3,841.9 221.2,839.3 210.2,836.8 199.1,834.4 188.1,831.9 177.0,829.5 166.0,827.1 154.9,824.7" fill="#8c8c8c" opacity="0.17"/>
<polygon points="154.9,808.6 166.0,811.2 177.0,813.7 188.1,816.3 199.1,818.8 210.2,821.3 221.2,823.8 232.3,826.2 243.3,828.6 254.4,830.8 265.4,832.9 276.5,834.8 287.5,836.4 298.6,837.7 309.7,838.6 320.7,839.1 331.8,839.5 342.8,839.8 353.9,840.0 364.9,840.1 376.0,840.1 387.0,840.2 398.1,840.2 409.1,840.2 420.2,840.2 420.2,876.2 409.1,873.4 398.1,870.6 387.0,867.8 376.0,865.1 364.9,862.3 353.9,859.6 342.8,857.0 331.8,854.5 320.7,852.1 309.7,849.8 298.6,847.9 287.5,846.4 276.5,845.2 265.4,844.3 254.4,843.6 243.3,843.0 232.3,842.6 221.2,842.2 210.2,841.9 199.1,841.6 188.1,841.3 177.0,841.1 166.0,840.8 154.9,840.6" fill="#8c8c8c" opacity="0.17"/>
<polygon points="154.9,827.0 166.0,826.9 177.0,826.7 188.1,826.6 199.1,826.4 210.2,826.2 221.2,825.9 232.3,825.6 243.3,825.3 254.4,824.8 265.4,824.2 276.5,823.3 287.5,822.1 298.6,820.5 309.7,818.5 320.7,816.3 331.8,813.9 342.8,811.4 353.9,808.7 364.9,806.1 376.0,803.3 387.0,800.6 398.1,797.8 409.1,795.0 420.2,792.2 420.2,826.2 409.1,826.4 398.1,826.6 387.0,826.8 376.0,827.0 364.9,827.3 353.9,827.6 342.8,827.9 331.8,828.4 320.7,828.9 309.7,829.7 298.6,830.7 287.5,832.1 276.5,833.9 265.4,836.0 254.4,838.3 243.3,840.9 232.3,843.5 221.2,846.2 210.2,848.9 199.1,851.7 188.1,854.5 177.0,857.3 166.0,860.2 154.9,863.0" fill="#8c8c8c" opacity="0.17"/>
<polygon points="154.9,835.0 166.0,833.2 177.0,831.4 188.1,829.6 199.1,827.8 210.2,825.9 221.2,824.1 232.3,822.1 243.3,820.1 254.4,818.0 265.4,815.7 276.5,813.2 287.5,810.1 298.6,806.5 309.7,802.6 320.7,798.5 331.8,794.1 342.8,789.7 353.9,785.2 364.9,780.6 376.0,776.0 387.0,771.3 398.1,766.6 409.1,761.9 420.2,757.2 420.2,789.2 409.1,791.5 398.1,793.8 387.0,796.1 376.0,798.4 364.9,800.7 353.9,803.1 342.8,805.6 331.8,808.1 320.7,810.8 309.7,813.6 298.6,816.7 287.5,820.1 276.5,824.0 265.4,828.4 254.4,833.1 243.3,838.0 232.3,843.0 221.2,848.0 210.2,853.2 199.1,858.3 188.1,863.4 177.0,868.6 166.0,873.8 154.9,879.0" fill="#8c8c8c" opacity="0.17"/>
<circle cx="222.3" cy="795.7" r="3.1" fill="#E0504A" fill-opacity="0.4" stroke="#E0504A" stroke-opacity="0.7" stroke-width="1.1"/>
<circle cx="219.9" cy="805.1" r="3.1" fill="#E0504A" fill-opacity="0.4" stroke="#E0504A" stroke-opacity="0.7" stroke-width="1.1"/>
<circle cx="221.3" cy="808.5" r="3.1" fill="#E0504A" fill-opacity="0.4" stroke="#E0504A" stroke-opacity="0.7" stroke-width="1.1"/>
<circle cx="238.3" cy="785.9" r="3.1" fill="#E0504A" fill-opacity="0.4" stroke="#E0504A" stroke-opacity="0.7" stroke-width="1.1"/>
<circle cx="246.7" cy="809.8" r="3.1" fill="#E0504A" fill-opacity="0.4" stroke="#E0504A" stroke-opacity="0.7" stroke-width="1.1"/>
<circle cx="256.5" cy="819.2" r="3.1" fill="#E0504A" fill-opacity="0.4" stroke="#E0504A" stroke-opacity="0.7" stroke-width="1.1"/>
<circle cx="245.4" cy="854.1" r="3.1" fill="#E0504A" fill-opacity="0.4" stroke="#E0504A" stroke-opacity="0.7" stroke-width="1.1"/>
<circle cx="154.1" cy="854.9" r="3.1" fill="#E0504A" fill-opacity="0.4" stroke="#E0504A" stroke-opacity="0.7" stroke-width="1.1"/>
<circle cx="237.5" cy="841.8" r="3.1" fill="#E0504A" fill-opacity="0.4" stroke="#E0504A" stroke-opacity="0.7" stroke-width="1.1"/>
<circle cx="337.9" cy="814.7" r="3.1" fill="#E0504A" fill-opacity="0.4" stroke="#E0504A" stroke-opacity="0.7" stroke-width="1.1"/>
<circle cx="353.9" cy="823.7" r="3.1" fill="#E0504A" fill-opacity="0.4" stroke="#E0504A" stroke-opacity="0.7" stroke-width="1.1"/>
<circle cx="331.0" cy="843.7" r="3.1" fill="#E0504A" fill-opacity="0.4" stroke="#E0504A" stroke-opacity="0.7" stroke-width="1.1"/>
<circle cx="419.7" cy="842.3" r="3.1" fill="#E0504A" fill-opacity="0.4" stroke="#E0504A" stroke-opacity="0.7" stroke-width="1.1"/>
<circle cx="412.3" cy="806.5" r="3.1" fill="#E0504A" fill-opacity="0.4" stroke="#E0504A" stroke-opacity="0.7" stroke-width="1.1"/>
<circle cx="388.8" cy="861.9" r="3.1" fill="#E0504A" fill-opacity="0.4" stroke="#E0504A" stroke-opacity="0.7" stroke-width="1.1"/>
<circle cx="355.9" cy="887.4" r="3.1" fill="#E0504A" fill-opacity="0.4" stroke="#E0504A" stroke-opacity="0.7" stroke-width="1.1"/>
<circle cx="353.5" cy="900.1" r="3.1" fill="#E0504A" fill-opacity="0.4" stroke="#E0504A" stroke-opacity="0.7" stroke-width="1.1"/>
<circle cx="363.9" cy="903.8" r="3.1" fill="#E0504A" fill-opacity="0.4" stroke="#E0504A" stroke-opacity="0.7" stroke-width="1.1"/>
<circle cx="386.8" cy="900.1" r="3.1" fill="#E0504A" fill-opacity="0.4" stroke="#E0504A" stroke-opacity="0.7" stroke-width="1.1"/>
<circle cx="355.5" cy="914.8" r="3.1" fill="#E0504A" fill-opacity="0.4" stroke="#E0504A" stroke-opacity="0.7" stroke-width="1.1"/>
<circle cx="360.0" cy="924.0" r="3.1" fill="#E0504A" fill-opacity="0.4" stroke="#E0504A" stroke-opacity="0.7" stroke-width="1.1"/>
<circle cx="390.3" cy="931.4" r="3.1" fill="#E0504A" fill-opacity="0.4" stroke="#E0504A" stroke-opacity="0.7" stroke-width="1.1"/>
<circle cx="388.8" cy="935.7" r="3.1" fill="#E0504A" fill-opacity="0.4" stroke="#E0504A" stroke-opacity="0.7" stroke-width="1.1"/>
<circle cx="361.0" cy="942.0" r="3.1" fill="#E0504A" fill-opacity="0.4" stroke="#E0504A" stroke-opacity="0.7" stroke-width="1.1"/>
<circle cx="369.6" cy="951.8" r="3.1" fill="#E0504A" fill-opacity="0.4" stroke="#E0504A" stroke-opacity="0.7" stroke-width="1.1"/>
<circle cx="401.5" cy="916.2" r="3.1" fill="#E0504A" fill-opacity="0.4" stroke="#E0504A" stroke-opacity="0.7" stroke-width="1.1"/>
<circle cx="405.0" cy="948.5" r="3.1" fill="#E0504A" fill-opacity="0.4" stroke="#E0504A" stroke-opacity="0.7" stroke-width="1.1"/>
<circle cx="154.1" cy="825.1" r="3.1" fill="#EFA558" fill-opacity="0.4" stroke="#EFA558" stroke-opacity="0.7" stroke-width="1.1"/>
<circle cx="222.3" cy="822.8" r="3.1" fill="#EFA558" fill-opacity="0.4" stroke="#EFA558" stroke-opacity="0.7" stroke-width="1.1"/>
<circle cx="229.1" cy="825.1" r="3.1" fill="#EFA558" fill-opacity="0.4" stroke="#EFA558" stroke-opacity="0.7" stroke-width="1.1"/>
<circle cx="233.0" cy="819.6" r="3.1" fill="#EFA558" fill-opacity="0.4" stroke="#EFA558" stroke-opacity="0.7" stroke-width="1.1"/>
<circle cx="238.3" cy="805.5" r="3.1" fill="#EFA558" fill-opacity="0.4" stroke="#EFA558" stroke-opacity="0.7" stroke-width="1.1"/>
<circle cx="239.9" cy="803.6" r="3.1" fill="#EFA558" fill-opacity="0.4" stroke="#EFA558" stroke-opacity="0.7" stroke-width="1.1"/>
<circle cx="238.3" cy="862.7" r="3.1" fill="#EFA558" fill-opacity="0.4" stroke="#EFA558" stroke-opacity="0.7" stroke-width="1.1"/>
<circle cx="198.8" cy="869.8" r="3.1" fill="#EFA558" fill-opacity="0.4" stroke="#EFA558" stroke-opacity="0.7" stroke-width="1.1"/>
<circle cx="195.8" cy="893.6" r="3.1" fill="#EFA558" fill-opacity="0.4" stroke="#EFA558" stroke-opacity="0.7" stroke-width="1.1"/>
<circle cx="200.7" cy="891.7" r="3.1" fill="#EFA558" fill-opacity="0.4" stroke="#EFA558" stroke-opacity="0.7" stroke-width="1.1"/>
<circle cx="197.8" cy="904.8" r="3.1" fill="#EFA558" fill-opacity="0.4" stroke="#EFA558" stroke-opacity="0.7" stroke-width="1.1"/>
<circle cx="237.5" cy="881.5" r="3.1" fill="#EFA558" fill-opacity="0.4" stroke="#EFA558" stroke-opacity="0.7" stroke-width="1.1"/>
<circle cx="158.2" cy="840.8" r="3.1" fill="#EFA558" fill-opacity="0.4" stroke="#EFA558" stroke-opacity="0.7" stroke-width="1.1"/>
<circle cx="165.5" cy="847.2" r="3.1" fill="#EFA558" fill-opacity="0.4" stroke="#EFA558" stroke-opacity="0.7" stroke-width="1.1"/>
<circle cx="157.6" cy="848.6" r="3.1" fill="#EFA558" fill-opacity="0.4" stroke="#EFA558" stroke-opacity="0.7" stroke-width="1.1"/>
<circle cx="331.0" cy="835.9" r="3.1" fill="#EFA558" fill-opacity="0.4" stroke="#EFA558" stroke-opacity="0.7" stroke-width="1.1"/>
<circle cx="337.9" cy="822.6" r="3.1" fill="#EFA558" fill-opacity="0.4" stroke="#EFA558" stroke-opacity="0.7" stroke-width="1.1"/>
<circle cx="353.9" cy="814.7" r="3.1" fill="#EFA558" fill-opacity="0.4" stroke="#EFA558" stroke-opacity="0.7" stroke-width="1.1"/>
<circle cx="356.5" cy="846.6" r="3.1" fill="#EFA558" fill-opacity="0.4" stroke="#EFA558" stroke-opacity="0.7" stroke-width="1.1"/>
<circle cx="386.8" cy="848.0" r="3.1" fill="#EFA558" fill-opacity="0.4" stroke="#EFA558" stroke-opacity="0.7" stroke-width="1.1"/>
<circle cx="388.8" cy="832.9" r="3.1" fill="#EFA558" fill-opacity="0.4" stroke="#EFA558" stroke-opacity="0.7" stroke-width="1.1"/>
<circle cx="412.3" cy="821.8" r="3.1" fill="#EFA558" fill-opacity="0.4" stroke="#EFA558" stroke-opacity="0.7" stroke-width="1.1"/>
<circle cx="419.7" cy="850.0" r="3.1" fill="#EFA558" fill-opacity="0.4" stroke="#EFA558" stroke-opacity="0.7" stroke-width="1.1"/>
<circle cx="360.4" cy="862.7" r="3.1" fill="#EFA558" fill-opacity="0.4" stroke="#EFA558" stroke-opacity="0.7" stroke-width="1.1"/>
<circle cx="390.3" cy="866.8" r="3.1" fill="#EFA558" fill-opacity="0.4" stroke="#EFA558" stroke-opacity="0.7" stroke-width="1.1"/>
<circle cx="328.5" cy="883.9" r="3.1" fill="#EFA558" fill-opacity="0.4" stroke="#EFA558" stroke-opacity="0.7" stroke-width="1.1"/>
<circle cx="334.9" cy="884.4" r="3.1" fill="#EFA558" fill-opacity="0.4" stroke="#EFA558" stroke-opacity="0.7" stroke-width="1.1"/>
<circle cx="361.0" cy="885.8" r="3.1" fill="#EFA558" fill-opacity="0.4" stroke="#EFA558" stroke-opacity="0.7" stroke-width="1.1"/>
<circle cx="355.9" cy="896.6" r="3.1" fill="#EFA558" fill-opacity="0.4" stroke="#EFA558" stroke-opacity="0.7" stroke-width="1.1"/>
<circle cx="369.6" cy="901.5" r="3.1" fill="#EFA558" fill-opacity="0.4" stroke="#EFA558" stroke-opacity="0.7" stroke-width="1.1"/>
<circle cx="401.5" cy="895.6" r="3.1" fill="#EFA558" fill-opacity="0.4" stroke="#EFA558" stroke-opacity="0.7" stroke-width="1.1"/>
<circle cx="405.0" cy="912.6" r="3.1" fill="#EFA558" fill-opacity="0.4" stroke="#EFA558" stroke-opacity="0.7" stroke-width="1.1"/>
<circle cx="363.9" cy="837.2" r="3.1" fill="#EFA558" fill-opacity="0.4" stroke="#EFA558" stroke-opacity="0.7" stroke-width="1.1"/>
<circle cx="241.3" cy="761.5" r="3.1" fill="#72C6EC" fill-opacity="0.4" stroke="#72C6EC" stroke-opacity="0.7" stroke-width="1.1"/>
<circle cx="229.7" cy="792.8" r="3.1" fill="#72C6EC" fill-opacity="0.4" stroke="#72C6EC" stroke-opacity="0.7" stroke-width="1.1"/>
<circle cx="228.7" cy="804.0" r="3.1" fill="#72C6EC" fill-opacity="0.4" stroke="#72C6EC" stroke-opacity="0.7" stroke-width="1.1"/>
<circle cx="256.5" cy="805.5" r="3.1" fill="#72C6EC" fill-opacity="0.4" stroke="#72C6EC" stroke-opacity="0.7" stroke-width="1.1"/>
<circle cx="247.7" cy="819.2" r="3.1" fill="#72C6EC" fill-opacity="0.4" stroke="#72C6EC" stroke-opacity="0.7" stroke-width="1.1"/>
<circle cx="165.5" cy="858.8" r="3.1" fill="#72C6EC" fill-opacity="0.4" stroke="#72C6EC" stroke-opacity="0.7" stroke-width="1.1"/>
<circle cx="154.1" cy="843.1" r="3.1" fill="#72C6EC" fill-opacity="0.4" stroke="#72C6EC" stroke-opacity="0.7" stroke-width="1.1"/>
<circle cx="197.8" cy="887.8" r="3.1" fill="#72C6EC" fill-opacity="0.4" stroke="#72C6EC" stroke-opacity="0.7" stroke-width="1.1"/>
<circle cx="219.9" cy="859.4" r="3.1" fill="#72C6EC" fill-opacity="0.4" stroke="#72C6EC" stroke-opacity="0.7" stroke-width="1.1"/>
<circle cx="221.3" cy="854.5" r="3.1" fill="#72C6EC" fill-opacity="0.4" stroke="#72C6EC" stroke-opacity="0.7" stroke-width="1.1"/>
<circle cx="238.3" cy="848.2" r="3.1" fill="#72C6EC" fill-opacity="0.4" stroke="#72C6EC" stroke-opacity="0.7" stroke-width="1.1"/>
<circle cx="255.5" cy="846.6" r="3.1" fill="#72C6EC" fill-opacity="0.4" stroke="#72C6EC" stroke-opacity="0.7" stroke-width="1.1"/>
<circle cx="195.8" cy="838.2" r="3.1" fill="#72C6EC" fill-opacity="0.4" stroke="#72C6EC" stroke-opacity="0.7" stroke-width="1.1"/>
<circle cx="331.0" cy="764.0" r="3.1" fill="#72C6EC" fill-opacity="0.4" stroke="#72C6EC" stroke-opacity="0.7" stroke-width="1.1"/>
<circle cx="328.5" cy="772.6" r="3.1" fill="#72C6EC" fill-opacity="0.4" stroke="#72C6EC" stroke-opacity="0.7" stroke-width="1.1"/>
<circle cx="412.3" cy="763.4" r="3.1" fill="#72C6EC" fill-opacity="0.4" stroke="#72C6EC" stroke-opacity="0.7" stroke-width="1.1"/>
<circle cx="419.7" cy="789.9" r="3.1" fill="#72C6EC" fill-opacity="0.4" stroke="#72C6EC" stroke-opacity="0.7" stroke-width="1.1"/>
<circle cx="386.8" cy="788.9" r="3.1" fill="#72C6EC" fill-opacity="0.4" stroke="#72C6EC" stroke-opacity="0.7" stroke-width="1.1"/>
<circle cx="388.8" cy="777.1" r="3.1" fill="#72C6EC" fill-opacity="0.4" stroke="#72C6EC" stroke-opacity="0.7" stroke-width="1.1"/>
<circle cx="353.9" cy="817.3" r="3.1" fill="#72C6EC" fill-opacity="0.4" stroke="#72C6EC" stroke-opacity="0.7" stroke-width="1.1"/>
<circle cx="388.8" cy="818.3" r="3.1" fill="#72C6EC" fill-opacity="0.4" stroke="#72C6EC" stroke-opacity="0.7" stroke-width="1.1"/>
<circle cx="390.7" cy="836.9" r="3.1" fill="#72C6EC" fill-opacity="0.4" stroke="#72C6EC" stroke-opacity="0.7" stroke-width="1.1"/>
<circle cx="401.5" cy="821.2" r="3.1" fill="#72C6EC" fill-opacity="0.4" stroke="#72C6EC" stroke-opacity="0.7" stroke-width="1.1"/>
<circle cx="405.0" cy="848.0" r="3.1" fill="#72C6EC" fill-opacity="0.4" stroke="#72C6EC" stroke-opacity="0.7" stroke-width="1.1"/>
<circle cx="359.4" cy="834.5" r="3.1" fill="#72C6EC" fill-opacity="0.4" stroke="#72C6EC" stroke-opacity="0.7" stroke-width="1.1"/>
<circle cx="353.5" cy="864.3" r="3.1" fill="#72C6EC" fill-opacity="0.4" stroke="#72C6EC" stroke-opacity="0.7" stroke-width="1.1"/>
<circle cx="355.5" cy="864.3" r="3.1" fill="#72C6EC" fill-opacity="0.4" stroke="#72C6EC" stroke-opacity="0.7" stroke-width="1.1"/>
<circle cx="361.0" cy="872.1" r="3.1" fill="#72C6EC" fill-opacity="0.4" stroke="#72C6EC" stroke-opacity="0.7" stroke-width="1.1"/>
<circle cx="369.6" cy="880.9" r="3.1" fill="#72C6EC" fill-opacity="0.4" stroke="#72C6EC" stroke-opacity="0.7" stroke-width="1.1"/>
<circle cx="230.1" cy="774.6" r="3.1" fill="#4A62A8" fill-opacity="0.4" stroke="#4A62A8" stroke-opacity="0.7" stroke-width="1.1"/>
<circle cx="229.1" cy="782.4" r="3.1" fill="#4A62A8" fill-opacity="0.4" stroke="#4A62A8" stroke-opacity="0.7" stroke-width="1.1"/>
<circle cx="256.1" cy="790.3" r="3.1" fill="#4A62A8" fill-opacity="0.4" stroke="#4A62A8" stroke-opacity="0.7" stroke-width="1.1"/>
<circle cx="256.1" cy="796.7" r="3.1" fill="#4A62A8" fill-opacity="0.4" stroke="#4A62A8" stroke-opacity="0.7" stroke-width="1.1"/>
<circle cx="256.5" cy="800.0" r="3.1" fill="#4A62A8" fill-opacity="0.4" stroke="#4A62A8" stroke-opacity="0.7" stroke-width="1.1"/>
<circle cx="229.7" cy="799.1" r="3.1" fill="#4A62A8" fill-opacity="0.4" stroke="#4A62A8" stroke-opacity="0.7" stroke-width="1.1"/>
<circle cx="232.4" cy="807.5" r="3.1" fill="#4A62A8" fill-opacity="0.4" stroke="#4A62A8" stroke-opacity="0.7" stroke-width="1.1"/>
<circle cx="245.4" cy="802.0" r="3.1" fill="#4A62A8" fill-opacity="0.4" stroke="#4A62A8" stroke-opacity="0.7" stroke-width="1.1"/>
<circle cx="240.9" cy="813.8" r="3.1" fill="#4A62A8" fill-opacity="0.4" stroke="#4A62A8" stroke-opacity="0.7" stroke-width="1.1"/>
<circle cx="238.3" cy="816.9" r="3.1" fill="#4A62A8" fill-opacity="0.4" stroke="#4A62A8" stroke-opacity="0.7" stroke-width="1.1"/>
<circle cx="238.3" cy="790.3" r="3.1" fill="#4A62A8" fill-opacity="0.4" stroke="#4A62A8" stroke-opacity="0.7" stroke-width="1.1"/>
<circle cx="195.8" cy="849.6" r="3.1" fill="#4A62A8" fill-opacity="0.4" stroke="#4A62A8" stroke-opacity="0.7" stroke-width="1.1"/>
<circle cx="199.7" cy="852.1" r="3.1" fill="#4A62A8" fill-opacity="0.4" stroke="#4A62A8" stroke-opacity="0.7" stroke-width="1.1"/>
<circle cx="200.3" cy="860.0" r="3.1" fill="#4A62A8" fill-opacity="0.4" stroke="#4A62A8" stroke-opacity="0.7" stroke-width="1.1"/>
<circle cx="197.8" cy="864.3" r="3.1" fill="#4A62A8" fill-opacity="0.4" stroke="#4A62A8" stroke-opacity="0.7" stroke-width="1.1"/>
<circle cx="158.2" cy="870.1" r="3.1" fill="#4A62A8" fill-opacity="0.4" stroke="#4A62A8" stroke-opacity="0.7" stroke-width="1.1"/>
<circle cx="166.1" cy="874.6" r="3.1" fill="#4A62A8" fill-opacity="0.4" stroke="#4A62A8" stroke-opacity="0.7" stroke-width="1.1"/>
<circle cx="154.7" cy="878.4" r="3.1" fill="#4A62A8" fill-opacity="0.4" stroke="#4A62A8" stroke-opacity="0.7" stroke-width="1.1"/>
<circle cx="221.3" cy="868.2" r="3.1" fill="#4A62A8" fill-opacity="0.4" stroke="#4A62A8" stroke-opacity="0.7" stroke-width="1.1"/>
<circle cx="221.3" cy="877.4" r="3.1" fill="#4A62A8" fill-opacity="0.4" stroke="#4A62A8" stroke-opacity="0.7" stroke-width="1.1"/>
<circle cx="237.5" cy="877.0" r="3.1" fill="#4A62A8" fill-opacity="0.4" stroke="#4A62A8" stroke-opacity="0.7" stroke-width="1.1"/>
<circle cx="221.3" cy="849.6" r="3.1" fill="#4A62A8" fill-opacity="0.4" stroke="#4A62A8" stroke-opacity="0.7" stroke-width="1.1"/>
<circle cx="221.3" cy="841.2" r="3.1" fill="#4A62A8" fill-opacity="0.4" stroke="#4A62A8" stroke-opacity="0.7" stroke-width="1.1"/>
<circle cx="238.3" cy="838.4" r="3.1" fill="#4A62A8" fill-opacity="0.4" stroke="#4A62A8" stroke-opacity="0.7" stroke-width="1.1"/>
<circle cx="247.7" cy="841.8" r="3.1" fill="#4A62A8" fill-opacity="0.4" stroke="#4A62A8" stroke-opacity="0.7" stroke-width="1.1"/>
<circle cx="198.8" cy="832.9" r="3.1" fill="#4A62A8" fill-opacity="0.4" stroke="#4A62A8" stroke-opacity="0.7" stroke-width="1.1"/>
<circle cx="388.8" cy="723.3" r="3.1" fill="#4A62A8" fill-opacity="0.4" stroke="#4A62A8" stroke-opacity="0.7" stroke-width="1.1"/>
<circle cx="353.9" cy="741.9" r="3.1" fill="#4A62A8" fill-opacity="0.4" stroke="#4A62A8" stroke-opacity="0.7" stroke-width="1.1"/>
<circle cx="363.9" cy="762.8" r="3.1" fill="#4A62A8" fill-opacity="0.4" stroke="#4A62A8" stroke-opacity="0.7" stroke-width="1.1"/>
<circle cx="412.3" cy="754.6" r="3.1" fill="#4A62A8" fill-opacity="0.4" stroke="#4A62A8" stroke-opacity="0.7" stroke-width="1.1"/>
<circle cx="419.7" cy="766.0" r="3.1" fill="#4A62A8" fill-opacity="0.4" stroke="#4A62A8" stroke-opacity="0.7" stroke-width="1.1"/>
<circle cx="337.9" cy="779.1" r="3.1" fill="#4A62A8" fill-opacity="0.4" stroke="#4A62A8" stroke-opacity="0.7" stroke-width="1.1"/>
<circle cx="388.8" cy="773.2" r="3.1" fill="#4A62A8" fill-opacity="0.4" stroke="#4A62A8" stroke-opacity="0.7" stroke-width="1.1"/>
<circle cx="360.4" cy="790.3" r="3.1" fill="#4A62A8" fill-opacity="0.4" stroke="#4A62A8" stroke-opacity="0.7" stroke-width="1.1"/>
<circle cx="356.5" cy="796.7" r="3.1" fill="#4A62A8" fill-opacity="0.4" stroke="#4A62A8" stroke-opacity="0.7" stroke-width="1.1"/>
<circle cx="360.4" cy="794.8" r="3.1" fill="#4A62A8" fill-opacity="0.4" stroke="#4A62A8" stroke-opacity="0.7" stroke-width="1.1"/>
<circle cx="390.3" cy="786.5" r="3.1" fill="#4A62A8" fill-opacity="0.4" stroke="#4A62A8" stroke-opacity="0.7" stroke-width="1.1"/>
<circle cx="386.8" cy="796.1" r="3.1" fill="#4A62A8" fill-opacity="0.4" stroke="#4A62A8" stroke-opacity="0.7" stroke-width="1.1"/>
<circle cx="328.1" cy="815.3" r="3.1" fill="#4A62A8" fill-opacity="0.4" stroke="#4A62A8" stroke-opacity="0.7" stroke-width="1.1"/>
<circle cx="355.5" cy="815.3" r="3.1" fill="#4A62A8" fill-opacity="0.4" stroke="#4A62A8" stroke-opacity="0.7" stroke-width="1.1"/>
<circle cx="331.0" cy="827.1" r="3.1" fill="#4A62A8" fill-opacity="0.4" stroke="#4A62A8" stroke-opacity="0.7" stroke-width="1.1"/>
<circle cx="334.9" cy="830.0" r="3.1" fill="#4A62A8" fill-opacity="0.4" stroke="#4A62A8" stroke-opacity="0.7" stroke-width="1.1"/>
<circle cx="353.5" cy="832.0" r="3.1" fill="#4A62A8" fill-opacity="0.4" stroke="#4A62A8" stroke-opacity="0.7" stroke-width="1.1"/>
<circle cx="369.6" cy="825.7" r="3.1" fill="#4A62A8" fill-opacity="0.4" stroke="#4A62A8" stroke-opacity="0.7" stroke-width="1.1"/>
<circle cx="401.5" cy="807.5" r="3.1" fill="#4A62A8" fill-opacity="0.4" stroke="#4A62A8" stroke-opacity="0.7" stroke-width="1.1"/>
<circle cx="405.4" cy="822.6" r="3.1" fill="#4A62A8" fill-opacity="0.4" stroke="#4A62A8" stroke-opacity="0.7" stroke-width="1.1"/>
<circle cx="364.3" cy="835.9" r="3.1" fill="#4A62A8" fill-opacity="0.4" stroke="#4A62A8" stroke-opacity="0.7" stroke-width="1.1"/>
<circle cx="337.5" cy="796.7" r="3.1" fill="#4A62A8" fill-opacity="0.4" stroke="#4A62A8" stroke-opacity="0.7" stroke-width="1.1"/>
<line x1="154.9" y1="806.7" x2="420.2" y2="896.7" stroke="#D63B2F" stroke-width="3.2"/>
<line x1="154.9" y1="824.6" x2="420.2" y2="858.2" stroke="#E8922F" stroke-width="3.2"/>
<line x1="154.9" y1="845" x2="420.2" y2="809.2" stroke="#5BB6E2" stroke-width="3.2"/>
<line x1="154.9" y1="857" x2="420.2" y2="773.2" stroke="#1D3A8C" stroke-width="3.2"/>
<text x="169.4" y="707.2" font-size="13.8" text-anchor="start" fill="#CF5D55" textLength="123.0" lengthAdjust="spacingAndGlyphs"><tspan font-style="italic">r</tspan> = –0.6, <tspan font-style="italic">P</tspan> &lt; 0.001</text>
<text x="169.4" y="725.4" font-size="13.8" text-anchor="start" fill="#E6A460" textLength="116.6" lengthAdjust="spacingAndGlyphs"><tspan font-style="italic">r</tspan> = –0.22, <tspan font-style="italic">P</tspan> = 0.11</text>
<text x="169.4" y="743.6" font-size="13.8" text-anchor="start" fill="#6DBCE4" textLength="121.6" lengthAdjust="spacingAndGlyphs"><tspan font-style="italic">r</tspan> = 0.32, <tspan font-style="italic">P</tspan> = 0.021</text>
<text x="169.4" y="761.8" font-size="13.8" text-anchor="start" fill="#42568E" textLength="121.6" lengthAdjust="spacingAndGlyphs"><tspan font-style="italic">r</tspan> = 0.67, <tspan font-style="italic">P</tspan> &lt; 0.001</text>
<rect x="141.5" y="658.6" width="292.1" height="27.9" fill="#fff" stroke="#555" stroke-width="1.2"/>
<text x="287.6" y="677.9" font-size="18" text-anchor="middle" fill="#1a1a1a">Forest</text>
<line x1="141.5" y1="686.5" x2="141.5" y2="963.8" stroke="#555" stroke-width="1.3"/>
<line x1="140.9" y1="963.8" x2="433.6" y2="963.8" stroke="#555" stroke-width="1.3"/>
<line x1="136.0" y1="693.2" x2="141.5" y2="693.2" stroke="#555" stroke-width="1.2"/>
<text x="127.0" y="698.5" font-size="15" text-anchor="end" fill="#1a1a1a">4</text>
<line x1="136.0" y1="760.6" x2="141.5" y2="760.6" stroke="#555" stroke-width="1.2"/>
<text x="127.0" y="765.9" font-size="15" text-anchor="end" fill="#1a1a1a">2</text>
<line x1="136.0" y1="828.2" x2="141.5" y2="828.2" stroke="#555" stroke-width="1.2"/>
<text x="127.0" y="833.5" font-size="15" text-anchor="end" fill="#1a1a1a">0</text>
<line x1="136.0" y1="895.9" x2="141.5" y2="895.9" stroke="#555" stroke-width="1.2"/>
<text x="127.0" y="901.2" font-size="15" text-anchor="end" fill="#1a1a1a">–2</text>
<line x1="136.0" y1="963.3" x2="141.5" y2="963.3" stroke="#555" stroke-width="1.2"/>
<text x="127.0" y="968.6" font-size="15" text-anchor="end" fill="#1a1a1a">–4</text>
<line x1="218.9" y1="963.8" x2="218.9" y2="969.3" stroke="#555" stroke-width="1.2"/>
<text x="218.9" y="991.3" font-size="15" text-anchor="middle" fill="#1a1a1a" textLength="27.0" lengthAdjust="spacingAndGlyphs">500</text>
<line x1="328.2" y1="963.8" x2="328.2" y2="969.3" stroke="#555" stroke-width="1.2"/>
<text x="328.2" y="991.3" font-size="15" text-anchor="middle" fill="#1a1a1a" textLength="40.5" lengthAdjust="spacingAndGlyphs">1,000</text>
<polygon points="486.9,836.5 497.9,836.3 509.0,836.1 520.0,835.9 531.0,835.6 542.1,835.3 553.1,834.9 564.2,834.5 575.2,833.9 586.2,833.1 597.3,832.2 608.3,830.9 619.3,829.1 630.4,826.9 641.4,824.1 652.5,820.9 663.5,817.4 674.5,813.7 685.6,809.9 696.6,806.0 707.6,802.0 718.7,798.0 729.7,794.0 740.8,789.9 751.8,785.8 751.8,841.8 740.8,841.6 729.7,841.4 718.7,841.3 707.6,841.1 696.6,841.1 685.6,841.0 674.5,841.1 663.5,841.3 652.5,841.7 641.4,842.4 630.4,843.5 619.3,845.2 608.3,847.3 597.3,849.9 586.2,852.8 575.2,856.0 564.2,859.3 553.1,862.7 542.1,866.2 531.0,869.8 520.0,873.4 509.0,877.1 497.9,880.8 486.9,884.5" fill="#8c8c8c" opacity="0.17"/>
<polygon points="486.9,828.3 497.9,828.2 509.0,828.1 520.0,828.0 531.0,827.8 542.1,827.6 553.1,827.3 564.2,827.0 575.2,826.5 586.2,825.8 597.3,825.0 608.3,823.8 619.3,822.1 630.4,820.0 641.4,817.3 652.5,814.2 663.5,810.8 674.5,807.2 685.6,803.5 696.6,799.7 707.6,795.8 718.7,791.9 729.7,788.0 740.8,784.0 751.8,780.0 751.8,836.0 740.8,835.7 729.7,835.4 718.7,835.2 707.6,834.9 696.6,834.8 685.6,834.6 674.5,834.6 663.5,834.7 652.5,835.0 641.4,835.6 630.4,836.6 619.3,838.2 608.3,840.2 597.3,842.7 586.2,845.5 575.2,848.6 564.2,851.8 553.1,855.1 542.1,858.5 531.0,862.0 520.0,865.5 509.0,869.1 497.9,872.7 486.9,876.3" fill="#8c8c8c" opacity="0.17"/>
<polygon points="486.9,875.2 497.9,874.3 509.0,873.4 520.0,872.5 531.0,871.5 542.1,870.4 553.1,869.4 564.2,868.2 575.2,866.9 586.2,865.5 597.3,863.8 608.3,861.9 619.3,859.6 630.4,856.9 641.4,853.7 652.5,850.1 663.5,846.3 674.5,842.3 685.6,838.1 696.6,833.9 707.6,829.6 718.7,825.2 729.7,820.8 740.8,816.4 751.8,812.0 751.8,864.0 740.8,864.5 729.7,865.0 718.7,865.6 707.6,866.2 696.6,866.8 685.6,867.5 674.5,868.3 663.5,869.2 652.5,870.3 641.4,871.6 630.4,873.4 619.3,875.6 608.3,878.3 597.3,881.3 586.2,884.5 575.2,888.0 564.2,891.7 553.1,895.4 542.1,899.3 531.0,903.2 520.0,907.1 509.0,911.1 497.9,915.2 486.9,919.2" fill="#8c8c8c" opacity="0.17"/>
<polygon points="486.9,882.7 497.9,881.3 509.0,880.0 520.0,878.6 531.0,877.1 542.1,875.6 553.1,874.1 564.2,872.4 575.2,870.7 586.2,868.8 597.3,866.6 608.3,864.1 619.3,861.2 630.4,857.9 641.4,854.1 652.5,849.8 663.5,845.3 674.5,840.7 685.6,835.8 696.6,830.9 707.6,826.0 718.7,821.0 729.7,815.9 740.8,810.9 751.8,805.8 751.8,857.8 740.8,859.0 729.7,860.1 718.7,861.3 707.6,862.6 696.6,863.9 685.6,865.2 674.5,866.6 663.5,868.2 652.5,869.9 641.4,872.0 630.4,874.4 619.3,877.3 608.3,880.6 597.3,884.4 586.2,888.5 575.2,892.8 564.2,897.3 553.1,901.9 542.1,906.6 531.0,911.3 520.0,916.1 509.0,921.0 497.9,925.8 486.9,930.7" fill="#8c8c8c" opacity="0.17"/>
<circle cx="568.9" cy="764.4" r="3.1" fill="#E0504A" fill-opacity="0.4" stroke="#E0504A" stroke-opacity="0.7" stroke-width="1.1"/>
<circle cx="568.9" cy="769.9" r="3.1" fill="#E0504A" fill-opacity="0.4" stroke="#E0504A" stroke-opacity="0.7" stroke-width="1.1"/>
<circle cx="530.4" cy="789.3" r="3.1" fill="#E0504A" fill-opacity="0.4" stroke="#E0504A" stroke-opacity="0.7" stroke-width="1.1"/>
<circle cx="568.6" cy="791.4" r="3.1" fill="#E0504A" fill-opacity="0.4" stroke="#E0504A" stroke-opacity="0.7" stroke-width="1.1"/>
<circle cx="575.8" cy="797.1" r="3.1" fill="#E0504A" fill-opacity="0.4" stroke="#E0504A" stroke-opacity="0.7" stroke-width="1.1"/>
<circle cx="556.2" cy="809.1" r="3.1" fill="#E0504A" fill-opacity="0.4" stroke="#E0504A" stroke-opacity="0.7" stroke-width="1.1"/>
<circle cx="583.0" cy="807.1" r="3.1" fill="#E0504A" fill-opacity="0.4" stroke="#E0504A" stroke-opacity="0.7" stroke-width="1.1"/>
<circle cx="534.1" cy="823.5" r="3.1" fill="#E0504A" fill-opacity="0.4" stroke="#E0504A" stroke-opacity="0.7" stroke-width="1.1"/>
<circle cx="566.6" cy="820.8" r="3.1" fill="#E0504A" fill-opacity="0.4" stroke="#E0504A" stroke-opacity="0.7" stroke-width="1.1"/>
<circle cx="534.1" cy="851.5" r="3.1" fill="#E0504A" fill-opacity="0.4" stroke="#E0504A" stroke-opacity="0.7" stroke-width="1.1"/>
<circle cx="568.0" cy="837.2" r="3.1" fill="#E0504A" fill-opacity="0.4" stroke="#E0504A" stroke-opacity="0.7" stroke-width="1.1"/>
<circle cx="568.6" cy="860.4" r="3.1" fill="#E0504A" fill-opacity="0.4" stroke="#E0504A" stroke-opacity="0.7" stroke-width="1.1"/>
<circle cx="588.5" cy="844.1" r="3.1" fill="#E0504A" fill-opacity="0.4" stroke="#E0504A" stroke-opacity="0.7" stroke-width="1.1"/>
<circle cx="492.6" cy="878.0" r="3.1" fill="#E0504A" fill-opacity="0.4" stroke="#E0504A" stroke-opacity="0.7" stroke-width="1.1"/>
<circle cx="486.7" cy="880.9" r="3.1" fill="#E0504A" fill-opacity="0.4" stroke="#E0504A" stroke-opacity="0.7" stroke-width="1.1"/>
<circle cx="577.8" cy="887.8" r="3.1" fill="#E0504A" fill-opacity="0.4" stroke="#E0504A" stroke-opacity="0.7" stroke-width="1.1"/>
<circle cx="556.2" cy="893.6" r="3.1" fill="#E0504A" fill-opacity="0.4" stroke="#E0504A" stroke-opacity="0.7" stroke-width="1.1"/>
<circle cx="573.5" cy="907.0" r="3.1" fill="#E0504A" fill-opacity="0.4" stroke="#E0504A" stroke-opacity="0.7" stroke-width="1.1"/>
<circle cx="568.9" cy="893.6" r="3.1" fill="#E0504A" fill-opacity="0.4" stroke="#E0504A" stroke-opacity="0.7" stroke-width="1.1"/>
<circle cx="752.1" cy="698.8" r="3.1" fill="#E0504A" fill-opacity="0.4" stroke="#E0504A" stroke-opacity="0.7" stroke-width="1.1"/>
<circle cx="733.1" cy="763.8" r="3.1" fill="#E0504A" fill-opacity="0.4" stroke="#E0504A" stroke-opacity="0.7" stroke-width="1.1"/>
<circle cx="710.0" cy="777.5" r="3.1" fill="#E0504A" fill-opacity="0.4" stroke="#E0504A" stroke-opacity="0.7" stroke-width="1.1"/>
<circle cx="685.5" cy="752.7" r="3.1" fill="#E0504A" fill-opacity="0.4" stroke="#E0504A" stroke-opacity="0.7" stroke-width="1.1"/>
<circle cx="679.6" cy="786.3" r="3.1" fill="#E0504A" fill-opacity="0.4" stroke="#E0504A" stroke-opacity="0.7" stroke-width="1.1"/>
<circle cx="679.6" cy="799.1" r="3.1" fill="#E0504A" fill-opacity="0.4" stroke="#E0504A" stroke-opacity="0.7" stroke-width="1.1"/>
<circle cx="668.3" cy="845.1" r="3.1" fill="#E0504A" fill-opacity="0.4" stroke="#E0504A" stroke-opacity="0.7" stroke-width="1.1"/>
<circle cx="687.1" cy="861.3" r="3.1" fill="#E0504A" fill-opacity="0.4" stroke="#E0504A" stroke-opacity="0.7" stroke-width="1.1"/>
<circle cx="689.4" cy="885.2" r="3.1" fill="#E0504A" fill-opacity="0.4" stroke="#E0504A" stroke-opacity="0.7" stroke-width="1.1"/>
<circle cx="718.8" cy="872.5" r="3.1" fill="#E0504A" fill-opacity="0.4" stroke="#E0504A" stroke-opacity="0.7" stroke-width="1.1"/>
<circle cx="730.5" cy="878.4" r="3.1" fill="#E0504A" fill-opacity="0.4" stroke="#E0504A" stroke-opacity="0.7" stroke-width="1.1"/>
<circle cx="722.7" cy="852.5" r="3.1" fill="#E0504A" fill-opacity="0.4" stroke="#E0504A" stroke-opacity="0.7" stroke-width="1.1"/>
<circle cx="687.1" cy="946.5" r="3.1" fill="#E0504A" fill-opacity="0.4" stroke="#E0504A" stroke-opacity="0.7" stroke-width="1.1"/>
<circle cx="714.5" cy="839.8" r="3.1" fill="#E0504A" fill-opacity="0.4" stroke="#E0504A" stroke-opacity="0.7" stroke-width="1.1"/>
<circle cx="571.9" cy="785.4" r="3.1" fill="#EFA558" fill-opacity="0.4" stroke="#EFA558" stroke-opacity="0.7" stroke-width="1.1"/>
<circle cx="579.3" cy="785.6" r="3.1" fill="#EFA558" fill-opacity="0.4" stroke="#EFA558" stroke-opacity="0.7" stroke-width="1.1"/>
<circle cx="582.7" cy="787.9" r="3.1" fill="#EFA558" fill-opacity="0.4" stroke="#EFA558" stroke-opacity="0.7" stroke-width="1.1"/>
<circle cx="557.6" cy="798.1" r="3.1" fill="#EFA558" fill-opacity="0.4" stroke="#EFA558" stroke-opacity="0.7" stroke-width="1.1"/>
<circle cx="560.1" cy="798.1" r="3.1" fill="#EFA558" fill-opacity="0.4" stroke="#EFA558" stroke-opacity="0.7" stroke-width="1.1"/>
<circle cx="575.8" cy="802.6" r="3.1" fill="#EFA558" fill-opacity="0.4" stroke="#EFA558" stroke-opacity="0.7" stroke-width="1.1"/>
<circle cx="577.8" cy="807.5" r="3.1" fill="#EFA558" fill-opacity="0.4" stroke="#EFA558" stroke-opacity="0.7" stroke-width="1.1"/>
<circle cx="583.0" cy="821.2" r="3.1" fill="#EFA558" fill-opacity="0.4" stroke="#EFA558" stroke-opacity="0.7" stroke-width="1.1"/>
<circle cx="566.6" cy="821.6" r="3.1" fill="#EFA558" fill-opacity="0.4" stroke="#EFA558" stroke-opacity="0.7" stroke-width="1.1"/>
<circle cx="534.1" cy="874.5" r="3.1" fill="#EFA558" fill-opacity="0.4" stroke="#EFA558" stroke-opacity="0.7" stroke-width="1.1"/>
<circle cx="530.2" cy="862.7" r="3.1" fill="#EFA558" fill-opacity="0.4" stroke="#EFA558" stroke-opacity="0.7" stroke-width="1.1"/>
<circle cx="486.7" cy="884.8" r="3.1" fill="#EFA558" fill-opacity="0.4" stroke="#EFA558" stroke-opacity="0.7" stroke-width="1.1"/>
<circle cx="492.6" cy="881.5" r="3.1" fill="#EFA558" fill-opacity="0.4" stroke="#EFA558" stroke-opacity="0.7" stroke-width="1.1"/>
<circle cx="556.2" cy="736.6" r="3.1" fill="#EFA558" fill-opacity="0.4" stroke="#EFA558" stroke-opacity="0.7" stroke-width="1.1"/>
<circle cx="588.5" cy="745.8" r="3.1" fill="#EFA558" fill-opacity="0.4" stroke="#EFA558" stroke-opacity="0.7" stroke-width="1.1"/>
<circle cx="567.0" cy="851.0" r="3.1" fill="#EFA558" fill-opacity="0.4" stroke="#EFA558" stroke-opacity="0.7" stroke-width="1.1"/>
<circle cx="578.7" cy="835.9" r="3.1" fill="#EFA558" fill-opacity="0.4" stroke="#EFA558" stroke-opacity="0.7" stroke-width="1.1"/>
<circle cx="710.0" cy="705.7" r="3.1" fill="#EFA558" fill-opacity="0.4" stroke="#EFA558" stroke-opacity="0.7" stroke-width="1.1"/>
<circle cx="687.1" cy="760.9" r="3.1" fill="#EFA558" fill-opacity="0.4" stroke="#EFA558" stroke-opacity="0.7" stroke-width="1.1"/>
<circle cx="684.5" cy="778.5" r="3.1" fill="#EFA558" fill-opacity="0.4" stroke="#EFA558" stroke-opacity="0.7" stroke-width="1.1"/>
<circle cx="714.5" cy="787.3" r="3.1" fill="#EFA558" fill-opacity="0.4" stroke="#EFA558" stroke-opacity="0.7" stroke-width="1.1"/>
<circle cx="722.3" cy="792.4" r="3.1" fill="#EFA558" fill-opacity="0.4" stroke="#EFA558" stroke-opacity="0.7" stroke-width="1.1"/>
<circle cx="718.8" cy="801.6" r="3.1" fill="#EFA558" fill-opacity="0.4" stroke="#EFA558" stroke-opacity="0.7" stroke-width="1.1"/>
<circle cx="752.1" cy="802.0" r="3.1" fill="#EFA558" fill-opacity="0.4" stroke="#EFA558" stroke-opacity="0.7" stroke-width="1.1"/>
<circle cx="679.6" cy="795.1" r="3.1" fill="#EFA558" fill-opacity="0.4" stroke="#EFA558" stroke-opacity="0.7" stroke-width="1.1"/>
<circle cx="668.3" cy="874.1" r="3.1" fill="#EFA558" fill-opacity="0.4" stroke="#EFA558" stroke-opacity="0.7" stroke-width="1.1"/>
<circle cx="679.6" cy="872.1" r="3.1" fill="#EFA558" fill-opacity="0.4" stroke="#EFA558" stroke-opacity="0.7" stroke-width="1.1"/>
<circle cx="687.1" cy="875.0" r="3.1" fill="#EFA558" fill-opacity="0.4" stroke="#EFA558" stroke-opacity="0.7" stroke-width="1.1"/>
<circle cx="668.3" cy="903.4" r="3.1" fill="#EFA558" fill-opacity="0.4" stroke="#EFA558" stroke-opacity="0.7" stroke-width="1.1"/>
<circle cx="687.1" cy="904.4" r="3.1" fill="#EFA558" fill-opacity="0.4" stroke="#EFA558" stroke-opacity="0.7" stroke-width="1.1"/>
<circle cx="687.1" cy="907.3" r="3.1" fill="#EFA558" fill-opacity="0.4" stroke="#EFA558" stroke-opacity="0.7" stroke-width="1.1"/>
<circle cx="743.8" cy="823.2" r="3.1" fill="#EFA558" fill-opacity="0.4" stroke="#EFA558" stroke-opacity="0.7" stroke-width="1.1"/>
<circle cx="689.4" cy="839.8" r="3.1" fill="#EFA558" fill-opacity="0.4" stroke="#EFA558" stroke-opacity="0.7" stroke-width="1.1"/>
<circle cx="534.7" cy="862.3" r="3.1" fill="#72C6EC" fill-opacity="0.4" stroke="#72C6EC" stroke-opacity="0.7" stroke-width="1.1"/>
<circle cx="558.2" cy="857.8" r="3.1" fill="#72C6EC" fill-opacity="0.4" stroke="#72C6EC" stroke-opacity="0.7" stroke-width="1.1"/>
<circle cx="578.1" cy="852.9" r="3.1" fill="#72C6EC" fill-opacity="0.4" stroke="#72C6EC" stroke-opacity="0.7" stroke-width="1.1"/>
<circle cx="583.0" cy="851.2" r="3.1" fill="#72C6EC" fill-opacity="0.4" stroke="#72C6EC" stroke-opacity="0.7" stroke-width="1.1"/>
<circle cx="588.5" cy="868.2" r="3.1" fill="#72C6EC" fill-opacity="0.4" stroke="#72C6EC" stroke-opacity="0.7" stroke-width="1.1"/>
<circle cx="568.9" cy="868.2" r="3.1" fill="#72C6EC" fill-opacity="0.4" stroke="#72C6EC" stroke-opacity="0.7" stroke-width="1.1"/>
<circle cx="570.9" cy="860.0" r="3.1" fill="#72C6EC" fill-opacity="0.4" stroke="#72C6EC" stroke-opacity="0.7" stroke-width="1.1"/>
<circle cx="566.6" cy="874.1" r="3.1" fill="#72C6EC" fill-opacity="0.4" stroke="#72C6EC" stroke-opacity="0.7" stroke-width="1.1"/>
<circle cx="581.7" cy="884.8" r="3.1" fill="#72C6EC" fill-opacity="0.4" stroke="#72C6EC" stroke-opacity="0.7" stroke-width="1.1"/>
<circle cx="583.6" cy="897.9" r="3.1" fill="#72C6EC" fill-opacity="0.4" stroke="#72C6EC" stroke-opacity="0.7" stroke-width="1.1"/>
<circle cx="573.5" cy="894.6" r="3.1" fill="#72C6EC" fill-opacity="0.4" stroke="#72C6EC" stroke-opacity="0.7" stroke-width="1.1"/>
<circle cx="492.6" cy="924.0" r="3.1" fill="#72C6EC" fill-opacity="0.4" stroke="#72C6EC" stroke-opacity="0.7" stroke-width="1.1"/>
<circle cx="486.7" cy="899.9" r="3.1" fill="#72C6EC" fill-opacity="0.4" stroke="#72C6EC" stroke-opacity="0.7" stroke-width="1.1"/>
<circle cx="534.1" cy="911.7" r="3.1" fill="#72C6EC" fill-opacity="0.4" stroke="#72C6EC" stroke-opacity="0.7" stroke-width="1.1"/>
<circle cx="568.0" cy="889.7" r="3.1" fill="#72C6EC" fill-opacity="0.4" stroke="#72C6EC" stroke-opacity="0.7" stroke-width="1.1"/>
<circle cx="752.1" cy="737.4" r="3.1" fill="#72C6EC" fill-opacity="0.4" stroke="#72C6EC" stroke-opacity="0.7" stroke-width="1.1"/>
<circle cx="687.1" cy="746.8" r="3.1" fill="#72C6EC" fill-opacity="0.4" stroke="#72C6EC" stroke-opacity="0.7" stroke-width="1.1"/>
<circle cx="684.5" cy="792.2" r="3.1" fill="#72C6EC" fill-opacity="0.4" stroke="#72C6EC" stroke-opacity="0.7" stroke-width="1.1"/>
<circle cx="733.1" cy="802.6" r="3.1" fill="#72C6EC" fill-opacity="0.4" stroke="#72C6EC" stroke-opacity="0.7" stroke-width="1.1"/>
<circle cx="679.6" cy="813.8" r="3.1" fill="#72C6EC" fill-opacity="0.4" stroke="#72C6EC" stroke-opacity="0.7" stroke-width="1.1"/>
<circle cx="689.4" cy="815.3" r="3.1" fill="#72C6EC" fill-opacity="0.4" stroke="#72C6EC" stroke-opacity="0.7" stroke-width="1.1"/>
<circle cx="710.0" cy="824.7" r="3.1" fill="#72C6EC" fill-opacity="0.4" stroke="#72C6EC" stroke-opacity="0.7" stroke-width="1.1"/>
<circle cx="718.8" cy="825.5" r="3.1" fill="#72C6EC" fill-opacity="0.4" stroke="#72C6EC" stroke-opacity="0.7" stroke-width="1.1"/>
<circle cx="722.7" cy="856.8" r="3.1" fill="#72C6EC" fill-opacity="0.4" stroke="#72C6EC" stroke-opacity="0.7" stroke-width="1.1"/>
<circle cx="730.5" cy="867.8" r="3.1" fill="#72C6EC" fill-opacity="0.4" stroke="#72C6EC" stroke-opacity="0.7" stroke-width="1.1"/>
<circle cx="743.8" cy="883.9" r="3.1" fill="#72C6EC" fill-opacity="0.4" stroke="#72C6EC" stroke-opacity="0.7" stroke-width="1.1"/>
<circle cx="687.1" cy="866.2" r="3.1" fill="#72C6EC" fill-opacity="0.4" stroke="#72C6EC" stroke-opacity="0.7" stroke-width="1.1"/>
<circle cx="679.6" cy="880.9" r="3.1" fill="#72C6EC" fill-opacity="0.4" stroke="#72C6EC" stroke-opacity="0.7" stroke-width="1.1"/>
<circle cx="669.8" cy="920.1" r="3.1" fill="#72C6EC" fill-opacity="0.4" stroke="#72C6EC" stroke-opacity="0.7" stroke-width="1.1"/>
<circle cx="687.1" cy="922.6" r="3.1" fill="#72C6EC" fill-opacity="0.4" stroke="#72C6EC" stroke-opacity="0.7" stroke-width="1.1"/>
<circle cx="687.1" cy="926.0" r="3.1" fill="#72C6EC" fill-opacity="0.4" stroke="#72C6EC" stroke-opacity="0.7" stroke-width="1.1"/>
<circle cx="668.3" cy="945.5" r="3.1" fill="#72C6EC" fill-opacity="0.4" stroke="#72C6EC" stroke-opacity="0.7" stroke-width="1.1"/>
<circle cx="687.1" cy="952.0" r="3.1" fill="#72C6EC" fill-opacity="0.4" stroke="#72C6EC" stroke-opacity="0.7" stroke-width="1.1"/>
<circle cx="568.9" cy="828.6" r="3.1" fill="#4A62A8" fill-opacity="0.4" stroke="#4A62A8" stroke-opacity="0.7" stroke-width="1.1"/>
<circle cx="576.2" cy="829.0" r="3.1" fill="#4A62A8" fill-opacity="0.4" stroke="#4A62A8" stroke-opacity="0.7" stroke-width="1.1"/>
<circle cx="568.9" cy="840.8" r="3.1" fill="#4A62A8" fill-opacity="0.4" stroke="#4A62A8" stroke-opacity="0.7" stroke-width="1.1"/>
<circle cx="579.3" cy="841.2" r="3.1" fill="#4A62A8" fill-opacity="0.4" stroke="#4A62A8" stroke-opacity="0.7" stroke-width="1.1"/>
<circle cx="556.2" cy="850.2" r="3.1" fill="#4A62A8" fill-opacity="0.4" stroke="#4A62A8" stroke-opacity="0.7" stroke-width="1.1"/>
<circle cx="572.9" cy="851.5" r="3.1" fill="#4A62A8" fill-opacity="0.4" stroke="#4A62A8" stroke-opacity="0.7" stroke-width="1.1"/>
<circle cx="556.2" cy="872.1" r="3.1" fill="#4A62A8" fill-opacity="0.4" stroke="#4A62A8" stroke-opacity="0.7" stroke-width="1.1"/>
<circle cx="558.2" cy="876.6" r="3.1" fill="#4A62A8" fill-opacity="0.4" stroke="#4A62A8" stroke-opacity="0.7" stroke-width="1.1"/>
<circle cx="577.8" cy="865.8" r="3.1" fill="#4A62A8" fill-opacity="0.4" stroke="#4A62A8" stroke-opacity="0.7" stroke-width="1.1"/>
<circle cx="582.7" cy="868.6" r="3.1" fill="#4A62A8" fill-opacity="0.4" stroke="#4A62A8" stroke-opacity="0.7" stroke-width="1.1"/>
<circle cx="588.5" cy="880.3" r="3.1" fill="#4A62A8" fill-opacity="0.4" stroke="#4A62A8" stroke-opacity="0.7" stroke-width="1.1"/>
<circle cx="566.0" cy="889.7" r="3.1" fill="#4A62A8" fill-opacity="0.4" stroke="#4A62A8" stroke-opacity="0.7" stroke-width="1.1"/>
<circle cx="560.1" cy="892.1" r="3.1" fill="#4A62A8" fill-opacity="0.4" stroke="#4A62A8" stroke-opacity="0.7" stroke-width="1.1"/>
<circle cx="568.9" cy="896.2" r="3.1" fill="#4A62A8" fill-opacity="0.4" stroke="#4A62A8" stroke-opacity="0.7" stroke-width="1.1"/>
<circle cx="573.5" cy="899.5" r="3.1" fill="#4A62A8" fill-opacity="0.4" stroke="#4A62A8" stroke-opacity="0.7" stroke-width="1.1"/>
<circle cx="568.9" cy="906.0" r="3.1" fill="#4A62A8" fill-opacity="0.4" stroke="#4A62A8" stroke-opacity="0.7" stroke-width="1.1"/>
<circle cx="572.9" cy="911.9" r="3.1" fill="#4A62A8" fill-opacity="0.4" stroke="#4A62A8" stroke-opacity="0.7" stroke-width="1.1"/>
<circle cx="571.9" cy="913.8" r="3.1" fill="#4A62A8" fill-opacity="0.4" stroke="#4A62A8" stroke-opacity="0.7" stroke-width="1.1"/>
<circle cx="581.7" cy="894.6" r="3.1" fill="#4A62A8" fill-opacity="0.4" stroke="#4A62A8" stroke-opacity="0.7" stroke-width="1.1"/>
<circle cx="534.1" cy="904.4" r="3.1" fill="#4A62A8" fill-opacity="0.4" stroke="#4A62A8" stroke-opacity="0.7" stroke-width="1.1"/>
<circle cx="534.7" cy="907.3" r="3.1" fill="#4A62A8" fill-opacity="0.4" stroke="#4A62A8" stroke-opacity="0.7" stroke-width="1.1"/>
<circle cx="530.4" cy="920.1" r="3.1" fill="#4A62A8" fill-opacity="0.4" stroke="#4A62A8" stroke-opacity="0.7" stroke-width="1.1"/>
<circle cx="492.6" cy="911.9" r="3.1" fill="#4A62A8" fill-opacity="0.4" stroke="#4A62A8" stroke-opacity="0.7" stroke-width="1.1"/>
<circle cx="489.1" cy="916.2" r="3.1" fill="#4A62A8" fill-opacity="0.4" stroke="#4A62A8" stroke-opacity="0.7" stroke-width="1.1"/>
<circle cx="493.2" cy="920.1" r="3.1" fill="#4A62A8" fill-opacity="0.4" stroke="#4A62A8" stroke-opacity="0.7" stroke-width="1.1"/>
<circle cx="486.7" cy="924.0" r="3.1" fill="#4A62A8" fill-opacity="0.4" stroke="#4A62A8" stroke-opacity="0.7" stroke-width="1.1"/>
<circle cx="687.1" cy="741.9" r="3.1" fill="#4A62A8" fill-opacity="0.4" stroke="#4A62A8" stroke-opacity="0.7" stroke-width="1.1"/>
<circle cx="752.1" cy="770.9" r="3.1" fill="#4A62A8" fill-opacity="0.4" stroke="#4A62A8" stroke-opacity="0.7" stroke-width="1.1"/>
<circle cx="687.1" cy="805.5" r="3.1" fill="#4A62A8" fill-opacity="0.4" stroke="#4A62A8" stroke-opacity="0.7" stroke-width="1.1"/>
<circle cx="714.5" cy="831.0" r="3.1" fill="#4A62A8" fill-opacity="0.4" stroke="#4A62A8" stroke-opacity="0.7" stroke-width="1.1"/>
<circle cx="710.0" cy="835.3" r="3.1" fill="#4A62A8" fill-opacity="0.4" stroke="#4A62A8" stroke-opacity="0.7" stroke-width="1.1"/>
<circle cx="684.5" cy="835.9" r="3.1" fill="#4A62A8" fill-opacity="0.4" stroke="#4A62A8" stroke-opacity="0.7" stroke-width="1.1"/>
<circle cx="689.4" cy="833.3" r="3.1" fill="#4A62A8" fill-opacity="0.4" stroke="#4A62A8" stroke-opacity="0.7" stroke-width="1.1"/>
<circle cx="684.5" cy="845.7" r="3.1" fill="#4A62A8" fill-opacity="0.4" stroke="#4A62A8" stroke-opacity="0.7" stroke-width="1.1"/>
<circle cx="718.8" cy="848.2" r="3.1" fill="#4A62A8" fill-opacity="0.4" stroke="#4A62A8" stroke-opacity="0.7" stroke-width="1.1"/>
<circle cx="743.8" cy="843.7" r="3.1" fill="#4A62A8" fill-opacity="0.4" stroke="#4A62A8" stroke-opacity="0.7" stroke-width="1.1"/>
<circle cx="733.1" cy="862.3" r="3.1" fill="#4A62A8" fill-opacity="0.4" stroke="#4A62A8" stroke-opacity="0.7" stroke-width="1.1"/>
<circle cx="722.7" cy="868.2" r="3.1" fill="#4A62A8" fill-opacity="0.4" stroke="#4A62A8" stroke-opacity="0.7" stroke-width="1.1"/>
<circle cx="669.8" cy="882.9" r="3.1" fill="#4A62A8" fill-opacity="0.4" stroke="#4A62A8" stroke-opacity="0.7" stroke-width="1.1"/>
<circle cx="679.6" cy="885.4" r="3.1" fill="#4A62A8" fill-opacity="0.4" stroke="#4A62A8" stroke-opacity="0.7" stroke-width="1.1"/>
<circle cx="679.6" cy="887.4" r="3.1" fill="#4A62A8" fill-opacity="0.4" stroke="#4A62A8" stroke-opacity="0.7" stroke-width="1.1"/>
<circle cx="687.1" cy="882.9" r="3.1" fill="#4A62A8" fill-opacity="0.4" stroke="#4A62A8" stroke-opacity="0.7" stroke-width="1.1"/>
<circle cx="687.1" cy="891.7" r="3.1" fill="#4A62A8" fill-opacity="0.4" stroke="#4A62A8" stroke-opacity="0.7" stroke-width="1.1"/>
<circle cx="687.1" cy="893.6" r="3.1" fill="#4A62A8" fill-opacity="0.4" stroke="#4A62A8" stroke-opacity="0.7" stroke-width="1.1"/>
<circle cx="668.3" cy="917.7" r="3.1" fill="#4A62A8" fill-opacity="0.4" stroke="#4A62A8" stroke-opacity="0.7" stroke-width="1.1"/>
<line x1="486.9" y1="860.5" x2="751.8" y2="813.8" stroke="#D63B2F" stroke-width="3.2"/>
<line x1="486.9" y1="852.3" x2="751.8" y2="808" stroke="#E8922F" stroke-width="3.2"/>
<line x1="486.9" y1="897.2" x2="751.8" y2="838" stroke="#5BB6E2" stroke-width="3.2"/>
<line x1="486.9" y1="906.7" x2="751.8" y2="831.8" stroke="#1D3A8C" stroke-width="3.2"/>
<text x="491.5" y="710.5" font-size="13.8" text-anchor="start" fill="#CF5D55" textLength="123.6" lengthAdjust="spacingAndGlyphs"><tspan font-style="italic">r</tspan> = 0.28, <tspan font-style="italic">P</tspan> = 0.047</text>
<text x="491.5" y="728.5" font-size="13.8" text-anchor="start" fill="#E6A460" textLength="124.4" lengthAdjust="spacingAndGlyphs"><tspan font-style="italic">r</tspan> = 0.26, <tspan font-style="italic">P</tspan> = 0.067</text>
<text x="491.5" y="746.4" font-size="13.8" text-anchor="start" fill="#6DBCE4" textLength="126.2" lengthAdjust="spacingAndGlyphs"><tspan font-style="italic">r</tspan> = 0.39, <tspan font-style="italic">P</tspan> = 0.004</text>
<text x="491.5" y="764.9" font-size="13.8" text-anchor="start" fill="#42568E" textLength="124.9" lengthAdjust="spacingAndGlyphs"><tspan font-style="italic">r</tspan> = 0.56, <tspan font-style="italic">P</tspan> &lt; 0.001</text>
<rect x="473.6" y="658.5" width="291.8" height="28.2" fill="#fff" stroke="#555" stroke-width="1.2"/>
<text x="619.5" y="677.8" font-size="18" text-anchor="middle" fill="#1a1a1a">Farmland</text>
<line x1="473.6" y1="686.7" x2="473.6" y2="964.4" stroke="#555" stroke-width="1.3"/>
<line x1="473.0" y1="964.4" x2="765.4" y2="964.4" stroke="#555" stroke-width="1.3"/>
<line x1="468.1" y1="708" x2="473.6" y2="708" stroke="#555" stroke-width="1.2"/>
<text x="459.1" y="713.3" font-size="15" text-anchor="end" fill="#1a1a1a">2</text>
<line x1="468.1" y1="768.2" x2="473.6" y2="768.2" stroke="#555" stroke-width="1.2"/>
<text x="459.1" y="773.5" font-size="15" text-anchor="end" fill="#1a1a1a">1</text>
<line x1="468.1" y1="828.5" x2="473.6" y2="828.5" stroke="#555" stroke-width="1.2"/>
<text x="459.1" y="833.8" font-size="15" text-anchor="end" fill="#1a1a1a">0</text>
<line x1="468.1" y1="888.7" x2="473.6" y2="888.7" stroke="#555" stroke-width="1.2"/>
<text x="459.1" y="894.0" font-size="15" text-anchor="end" fill="#1a1a1a">–1</text>
<line x1="468.1" y1="949.5" x2="473.6" y2="949.5" stroke="#555" stroke-width="1.2"/>
<text x="459.1" y="954.8" font-size="15" text-anchor="end" fill="#1a1a1a">–2</text>
<line x1="550.5" y1="964.4" x2="550.5" y2="969.9" stroke="#555" stroke-width="1.2"/>
<text x="550.5" y="991.9" font-size="15" text-anchor="middle" fill="#1a1a1a" textLength="27.0" lengthAdjust="spacingAndGlyphs">500</text>
<line x1="660.3" y1="964.4" x2="660.3" y2="969.9" stroke="#555" stroke-width="1.2"/>
<text x="660.3" y="991.9" font-size="15" text-anchor="middle" fill="#1a1a1a" textLength="40.5" lengthAdjust="spacingAndGlyphs">1,000</text>
<polygon points="819.3,815.2 830.3,814.7 841.4,814.2 852.4,813.7 863.4,813.2 874.5,812.6 885.5,811.9 896.6,811.1 907.6,810.3 918.6,809.2 929.7,807.9 940.7,806.3 951.8,804.4 962.8,802.1 973.8,799.5 984.9,796.6 995.9,793.5 1006.9,790.3 1018.0,786.9 1029.0,783.5 1040.0,780.0 1051.1,776.4 1062.1,772.8 1073.2,769.2 1084.2,765.6 1084.2,809.6 1073.2,810.1 1062.1,810.6 1051.1,811.2 1040.0,811.8 1029.0,812.4 1018.0,813.1 1006.9,813.9 995.9,814.8 984.9,815.8 973.8,817.1 962.8,818.6 951.8,820.4 940.7,822.6 929.7,825.1 918.6,828.0 907.6,831.1 896.6,834.3 885.5,837.7 874.5,841.2 863.4,844.7 852.4,848.3 841.4,851.9 830.3,855.5 819.3,859.2" fill="#8c8c8c" opacity="0.17"/>
<polygon points="819.3,802.5 830.3,803.3 841.4,804.1 852.4,804.9 863.4,805.6 874.5,806.3 885.5,806.9 896.6,807.5 907.6,807.9 918.6,808.2 929.7,808.2 940.7,807.9 951.8,807.2 962.8,806.1 973.8,804.6 984.9,802.8 995.9,800.8 1006.9,798.7 1018.0,796.5 1029.0,794.1 1040.0,791.8 1051.1,789.4 1062.1,786.9 1073.2,784.5 1084.2,782.0 1084.2,826.0 1073.2,825.2 1062.1,824.5 1051.1,823.8 1040.0,823.1 1029.0,822.4 1018.0,821.8 1006.9,821.3 995.9,820.8 984.9,820.5 973.8,820.5 962.8,820.7 951.8,821.3 940.7,822.3 929.7,823.7 918.6,825.4 907.6,827.4 896.6,829.6 885.5,831.8 874.5,834.2 863.4,836.6 852.4,839.0 841.4,841.5 830.3,844.0 819.3,846.5" fill="#8c8c8c" opacity="0.17"/>
<polygon points="819.3,860.2 830.3,856.7 841.4,853.2 852.4,849.7 863.4,846.2 874.5,842.5 885.5,838.9 896.6,835.1 907.6,831.2 918.6,827.2 929.7,822.9 940.7,818.4 951.8,813.5 962.8,808.3 973.8,802.9 984.9,797.3 995.9,791.4 1006.9,785.5 1018.0,779.4 1029.0,773.2 1040.0,767.0 1051.1,760.8 1062.1,754.5 1073.2,748.1 1084.2,741.8 1084.2,781.8 1073.2,785.4 1062.1,789.0 1051.1,792.7 1040.0,796.4 1029.0,800.1 1018.0,803.9 1006.9,807.8 995.9,811.8 984.9,815.9 973.8,820.2 962.8,824.7 951.8,829.5 940.7,834.6 929.7,840.0 918.6,845.7 907.6,851.6 896.6,857.6 885.5,863.8 874.5,870.1 863.4,876.4 852.4,882.8 841.4,889.3 830.3,895.7 819.3,902.2" fill="#8c8c8c" opacity="0.17"/>
<polygon points="819.3,853.4 830.3,851.1 841.4,848.8 852.4,846.4 863.4,844.0 874.5,841.5 885.5,839.0 896.6,836.4 907.6,833.7 918.6,830.8 929.7,827.7 940.7,824.2 951.8,820.4 962.8,816.3 973.8,811.8 984.9,807.1 995.9,802.2 1006.9,797.1 1018.0,791.9 1029.0,786.6 1040.0,781.2 1051.1,775.9 1062.1,770.4 1073.2,765.0 1084.2,759.5 1084.2,803.5 1073.2,805.9 1062.1,808.2 1051.1,810.6 1040.0,813.1 1029.0,815.5 1018.0,818.1 1006.9,820.7 995.9,823.4 984.9,826.3 973.8,829.4 962.8,832.8 951.8,836.5 940.7,840.5 929.7,844.9 918.6,849.6 907.6,854.5 896.6,859.6 885.5,864.8 874.5,870.1 863.4,875.5 852.4,880.9 841.4,886.4 830.3,891.9 819.3,897.4" fill="#8c8c8c" opacity="0.17"/>
<circle cx="918.6" cy="739.3" r="3.1" fill="#E0504A" fill-opacity="0.4" stroke="#E0504A" stroke-opacity="0.7" stroke-width="1.1"/>
<circle cx="905.8" cy="755.6" r="3.1" fill="#E0504A" fill-opacity="0.4" stroke="#E0504A" stroke-opacity="0.7" stroke-width="1.1"/>
<circle cx="917.6" cy="757.0" r="3.1" fill="#E0504A" fill-opacity="0.4" stroke="#E0504A" stroke-opacity="0.7" stroke-width="1.1"/>
<circle cx="919.5" cy="765.0" r="3.1" fill="#E0504A" fill-opacity="0.4" stroke="#E0504A" stroke-opacity="0.7" stroke-width="1.1"/>
<circle cx="909.8" cy="777.7" r="3.1" fill="#E0504A" fill-opacity="0.4" stroke="#E0504A" stroke-opacity="0.7" stroke-width="1.1"/>
<circle cx="920.9" cy="775.6" r="3.1" fill="#E0504A" fill-opacity="0.4" stroke="#E0504A" stroke-opacity="0.7" stroke-width="1.1"/>
<circle cx="877.4" cy="799.7" r="3.1" fill="#E0504A" fill-opacity="0.4" stroke="#E0504A" stroke-opacity="0.7" stroke-width="1.1"/>
<circle cx="928.8" cy="803.2" r="3.1" fill="#E0504A" fill-opacity="0.4" stroke="#E0504A" stroke-opacity="0.7" stroke-width="1.1"/>
<circle cx="932.3" cy="809.8" r="3.1" fill="#E0504A" fill-opacity="0.4" stroke="#E0504A" stroke-opacity="0.7" stroke-width="1.1"/>
<circle cx="899.0" cy="811.0" r="3.1" fill="#E0504A" fill-opacity="0.4" stroke="#E0504A" stroke-opacity="0.7" stroke-width="1.1"/>
<circle cx="919.0" cy="811.8" r="3.1" fill="#E0504A" fill-opacity="0.4" stroke="#E0504A" stroke-opacity="0.7" stroke-width="1.1"/>
<circle cx="819.1" cy="830.4" r="3.1" fill="#E0504A" fill-opacity="0.4" stroke="#E0504A" stroke-opacity="0.7" stroke-width="1.1"/>
<circle cx="869.6" cy="834.5" r="3.1" fill="#E0504A" fill-opacity="0.4" stroke="#E0504A" stroke-opacity="0.7" stroke-width="1.1"/>
<circle cx="900.9" cy="828.0" r="3.1" fill="#E0504A" fill-opacity="0.4" stroke="#E0504A" stroke-opacity="0.7" stroke-width="1.1"/>
<circle cx="914.7" cy="825.1" r="3.1" fill="#E0504A" fill-opacity="0.4" stroke="#E0504A" stroke-opacity="0.7" stroke-width="1.1"/>
<circle cx="819.1" cy="859.4" r="3.1" fill="#E0504A" fill-opacity="0.4" stroke="#E0504A" stroke-opacity="0.7" stroke-width="1.1"/>
<circle cx="875.5" cy="859.4" r="3.1" fill="#E0504A" fill-opacity="0.4" stroke="#E0504A" stroke-opacity="0.7" stroke-width="1.1"/>
<circle cx="911.7" cy="861.3" r="3.1" fill="#E0504A" fill-opacity="0.4" stroke="#E0504A" stroke-opacity="0.7" stroke-width="1.1"/>
<circle cx="916.6" cy="881.9" r="3.1" fill="#E0504A" fill-opacity="0.4" stroke="#E0504A" stroke-opacity="0.7" stroke-width="1.1"/>
<circle cx="910.7" cy="839.2" r="3.1" fill="#E0504A" fill-opacity="0.4" stroke="#E0504A" stroke-opacity="0.7" stroke-width="1.1"/>
<circle cx="1084.1" cy="737.4" r="3.1" fill="#E0504A" fill-opacity="0.4" stroke="#E0504A" stroke-opacity="0.7" stroke-width="1.1"/>
<circle cx="1084.1" cy="751.1" r="3.1" fill="#E0504A" fill-opacity="0.4" stroke="#E0504A" stroke-opacity="0.7" stroke-width="1.1"/>
<circle cx="1084.1" cy="757.9" r="3.1" fill="#E0504A" fill-opacity="0.4" stroke="#E0504A" stroke-opacity="0.7" stroke-width="1.1"/>
<circle cx="1015.9" cy="762.8" r="3.1" fill="#E0504A" fill-opacity="0.4" stroke="#E0504A" stroke-opacity="0.7" stroke-width="1.1"/>
<circle cx="1021.0" cy="779.1" r="3.1" fill="#E0504A" fill-opacity="0.4" stroke="#E0504A" stroke-opacity="0.7" stroke-width="1.1"/>
<circle cx="1060.2" cy="797.7" r="3.1" fill="#E0504A" fill-opacity="0.4" stroke="#E0504A" stroke-opacity="0.7" stroke-width="1.1"/>
<circle cx="1005.7" cy="821.6" r="3.1" fill="#E0504A" fill-opacity="0.4" stroke="#E0504A" stroke-opacity="0.7" stroke-width="1.1"/>
<circle cx="1012.6" cy="820.8" r="3.1" fill="#E0504A" fill-opacity="0.4" stroke="#E0504A" stroke-opacity="0.7" stroke-width="1.1"/>
<circle cx="1052.7" cy="825.7" r="3.1" fill="#E0504A" fill-opacity="0.4" stroke="#E0504A" stroke-opacity="0.7" stroke-width="1.1"/>
<circle cx="1025.3" cy="838.2" r="3.1" fill="#E0504A" fill-opacity="0.4" stroke="#E0504A" stroke-opacity="0.7" stroke-width="1.1"/>
<circle cx="1009.7" cy="846.6" r="3.1" fill="#E0504A" fill-opacity="0.4" stroke="#E0504A" stroke-opacity="0.7" stroke-width="1.1"/>
<circle cx="1048.8" cy="857.8" r="3.1" fill="#E0504A" fill-opacity="0.4" stroke="#E0504A" stroke-opacity="0.7" stroke-width="1.1"/>
<circle cx="1078.2" cy="779.7" r="3.1" fill="#E0504A" fill-opacity="0.4" stroke="#E0504A" stroke-opacity="0.7" stroke-width="1.1"/>
<circle cx="821.1" cy="799.7" r="3.1" fill="#EFA558" fill-opacity="0.4" stroke="#EFA558" stroke-opacity="0.7" stroke-width="1.1"/>
<circle cx="920.9" cy="753.1" r="3.1" fill="#EFA558" fill-opacity="0.4" stroke="#EFA558" stroke-opacity="0.7" stroke-width="1.1"/>
<circle cx="919.5" cy="759.5" r="3.1" fill="#EFA558" fill-opacity="0.4" stroke="#EFA558" stroke-opacity="0.7" stroke-width="1.1"/>
<circle cx="928.8" cy="762.8" r="3.1" fill="#EFA558" fill-opacity="0.4" stroke="#EFA558" stroke-opacity="0.7" stroke-width="1.1"/>
<circle cx="928.8" cy="768.7" r="3.1" fill="#EFA558" fill-opacity="0.4" stroke="#EFA558" stroke-opacity="0.7" stroke-width="1.1"/>
<circle cx="932.3" cy="775.8" r="3.1" fill="#EFA558" fill-opacity="0.4" stroke="#EFA558" stroke-opacity="0.7" stroke-width="1.1"/>
<circle cx="898.6" cy="761.5" r="3.1" fill="#EFA558" fill-opacity="0.4" stroke="#EFA558" stroke-opacity="0.7" stroke-width="1.1"/>
<circle cx="898.6" cy="784.0" r="3.1" fill="#EFA558" fill-opacity="0.4" stroke="#EFA558" stroke-opacity="0.7" stroke-width="1.1"/>
<circle cx="929.9" cy="792.4" r="3.1" fill="#EFA558" fill-opacity="0.4" stroke="#EFA558" stroke-opacity="0.7" stroke-width="1.1"/>
<circle cx="918.6" cy="796.3" r="3.1" fill="#EFA558" fill-opacity="0.4" stroke="#EFA558" stroke-opacity="0.7" stroke-width="1.1"/>
<circle cx="913.7" cy="797.7" r="3.1" fill="#EFA558" fill-opacity="0.4" stroke="#EFA558" stroke-opacity="0.7" stroke-width="1.1"/>
<circle cx="910.1" cy="801.0" r="3.1" fill="#EFA558" fill-opacity="0.4" stroke="#EFA558" stroke-opacity="0.7" stroke-width="1.1"/>
<circle cx="869.6" cy="808.5" r="3.1" fill="#EFA558" fill-opacity="0.4" stroke="#EFA558" stroke-opacity="0.7" stroke-width="1.1"/>
<circle cx="819.7" cy="813.0" r="3.1" fill="#EFA558" fill-opacity="0.4" stroke="#EFA558" stroke-opacity="0.7" stroke-width="1.1"/>
<circle cx="819.7" cy="816.3" r="3.1" fill="#EFA558" fill-opacity="0.4" stroke="#EFA558" stroke-opacity="0.7" stroke-width="1.1"/>
<circle cx="878.4" cy="816.7" r="3.1" fill="#EFA558" fill-opacity="0.4" stroke="#EFA558" stroke-opacity="0.7" stroke-width="1.1"/>
<circle cx="913.7" cy="809.4" r="3.1" fill="#EFA558" fill-opacity="0.4" stroke="#EFA558" stroke-opacity="0.7" stroke-width="1.1"/>
<circle cx="898.6" cy="818.3" r="3.1" fill="#EFA558" fill-opacity="0.4" stroke="#EFA558" stroke-opacity="0.7" stroke-width="1.1"/>
<circle cx="917.6" cy="832.4" r="3.1" fill="#EFA558" fill-opacity="0.4" stroke="#EFA558" stroke-opacity="0.7" stroke-width="1.1"/>
<circle cx="905.8" cy="853.5" r="3.1" fill="#EFA558" fill-opacity="0.4" stroke="#EFA558" stroke-opacity="0.7" stroke-width="1.1"/>
<circle cx="909.8" cy="867.2" r="3.1" fill="#EFA558" fill-opacity="0.4" stroke="#EFA558" stroke-opacity="0.7" stroke-width="1.1"/>
<circle cx="875.1" cy="872.1" r="3.1" fill="#EFA558" fill-opacity="0.4" stroke="#EFA558" stroke-opacity="0.7" stroke-width="1.1"/>
<circle cx="919.9" cy="897.9" r="3.1" fill="#EFA558" fill-opacity="0.4" stroke="#EFA558" stroke-opacity="0.7" stroke-width="1.1"/>
<circle cx="1024.0" cy="730.1" r="3.1" fill="#EFA558" fill-opacity="0.4" stroke="#EFA558" stroke-opacity="0.7" stroke-width="1.1"/>
<circle cx="1057.6" cy="735.6" r="3.1" fill="#EFA558" fill-opacity="0.4" stroke="#EFA558" stroke-opacity="0.7" stroke-width="1.1"/>
<circle cx="1022.4" cy="761.5" r="3.1" fill="#EFA558" fill-opacity="0.4" stroke="#EFA558" stroke-opacity="0.7" stroke-width="1.1"/>
<circle cx="1020.4" cy="783.0" r="3.1" fill="#EFA558" fill-opacity="0.4" stroke="#EFA558" stroke-opacity="0.7" stroke-width="1.1"/>
<circle cx="1012.6" cy="813.4" r="3.1" fill="#EFA558" fill-opacity="0.4" stroke="#EFA558" stroke-opacity="0.7" stroke-width="1.1"/>
<circle cx="1024.3" cy="791.8" r="3.1" fill="#EFA558" fill-opacity="0.4" stroke="#EFA558" stroke-opacity="0.7" stroke-width="1.1"/>
<circle cx="1052.7" cy="783.0" r="3.1" fill="#EFA558" fill-opacity="0.4" stroke="#EFA558" stroke-opacity="0.7" stroke-width="1.1"/>
<circle cx="1048.8" cy="809.8" r="3.1" fill="#EFA558" fill-opacity="0.4" stroke="#EFA558" stroke-opacity="0.7" stroke-width="1.1"/>
<circle cx="1084.1" cy="824.1" r="3.1" fill="#EFA558" fill-opacity="0.4" stroke="#EFA558" stroke-opacity="0.7" stroke-width="1.1"/>
<circle cx="1015.9" cy="831.4" r="3.1" fill="#EFA558" fill-opacity="0.4" stroke="#EFA558" stroke-opacity="0.7" stroke-width="1.1"/>
<circle cx="1024.3" cy="827.1" r="3.1" fill="#EFA558" fill-opacity="0.4" stroke="#EFA558" stroke-opacity="0.7" stroke-width="1.1"/>
<circle cx="1005.7" cy="840.8" r="3.1" fill="#EFA558" fill-opacity="0.4" stroke="#EFA558" stroke-opacity="0.7" stroke-width="1.1"/>
<circle cx="1015.5" cy="848.2" r="3.1" fill="#EFA558" fill-opacity="0.4" stroke="#EFA558" stroke-opacity="0.7" stroke-width="1.1"/>
<circle cx="1021.0" cy="848.6" r="3.1" fill="#EFA558" fill-opacity="0.4" stroke="#EFA558" stroke-opacity="0.7" stroke-width="1.1"/>
<circle cx="1010.1" cy="860.9" r="3.1" fill="#EFA558" fill-opacity="0.4" stroke="#EFA558" stroke-opacity="0.7" stroke-width="1.1"/>
<circle cx="1023.4" cy="861.3" r="3.1" fill="#EFA558" fill-opacity="0.4" stroke="#EFA558" stroke-opacity="0.7" stroke-width="1.1"/>
<circle cx="1084.1" cy="898.5" r="3.1" fill="#EFA558" fill-opacity="0.4" stroke="#EFA558" stroke-opacity="0.7" stroke-width="1.1"/>
<circle cx="1078.2" cy="773.2" r="3.1" fill="#EFA558" fill-opacity="0.4" stroke="#EFA558" stroke-opacity="0.7" stroke-width="1.1"/>
<circle cx="920.9" cy="788.9" r="3.1" fill="#72C6EC" fill-opacity="0.4" stroke="#72C6EC" stroke-opacity="0.7" stroke-width="1.1"/>
<circle cx="932.3" cy="820.2" r="3.1" fill="#72C6EC" fill-opacity="0.4" stroke="#72C6EC" stroke-opacity="0.7" stroke-width="1.1"/>
<circle cx="919.5" cy="823.5" r="3.1" fill="#72C6EC" fill-opacity="0.4" stroke="#72C6EC" stroke-opacity="0.7" stroke-width="1.1"/>
<circle cx="898.6" cy="831.0" r="3.1" fill="#72C6EC" fill-opacity="0.4" stroke="#72C6EC" stroke-opacity="0.7" stroke-width="1.1"/>
<circle cx="900.9" cy="838.8" r="3.1" fill="#72C6EC" fill-opacity="0.4" stroke="#72C6EC" stroke-opacity="0.7" stroke-width="1.1"/>
<circle cx="819.1" cy="865.2" r="3.1" fill="#72C6EC" fill-opacity="0.4" stroke="#72C6EC" stroke-opacity="0.7" stroke-width="1.1"/>
<circle cx="877.8" cy="860.4" r="3.1" fill="#72C6EC" fill-opacity="0.4" stroke="#72C6EC" stroke-opacity="0.7" stroke-width="1.1"/>
<circle cx="905.8" cy="865.8" r="3.1" fill="#72C6EC" fill-opacity="0.4" stroke="#72C6EC" stroke-opacity="0.7" stroke-width="1.1"/>
<circle cx="929.3" cy="878.6" r="3.1" fill="#72C6EC" fill-opacity="0.4" stroke="#72C6EC" stroke-opacity="0.7" stroke-width="1.1"/>
<circle cx="912.7" cy="895.0" r="3.1" fill="#72C6EC" fill-opacity="0.4" stroke="#72C6EC" stroke-opacity="0.7" stroke-width="1.1"/>
<circle cx="875.1" cy="897.6" r="3.1" fill="#72C6EC" fill-opacity="0.4" stroke="#72C6EC" stroke-opacity="0.7" stroke-width="1.1"/>
<circle cx="916.6" cy="932.8" r="3.1" fill="#72C6EC" fill-opacity="0.4" stroke="#72C6EC" stroke-opacity="0.7" stroke-width="1.1"/>
<circle cx="930.3" cy="952.0" r="3.1" fill="#72C6EC" fill-opacity="0.4" stroke="#72C6EC" stroke-opacity="0.7" stroke-width="1.1"/>
<circle cx="919.5" cy="842.3" r="3.1" fill="#72C6EC" fill-opacity="0.4" stroke="#72C6EC" stroke-opacity="0.7" stroke-width="1.1"/>
<circle cx="1023.0" cy="698.2" r="3.1" fill="#72C6EC" fill-opacity="0.4" stroke="#72C6EC" stroke-opacity="0.7" stroke-width="1.1"/>
<circle cx="1012.6" cy="738.0" r="3.1" fill="#72C6EC" fill-opacity="0.4" stroke="#72C6EC" stroke-opacity="0.7" stroke-width="1.1"/>
<circle cx="1024.3" cy="736.0" r="3.1" fill="#72C6EC" fill-opacity="0.4" stroke="#72C6EC" stroke-opacity="0.7" stroke-width="1.1"/>
<circle cx="1057.6" cy="740.5" r="3.1" fill="#72C6EC" fill-opacity="0.4" stroke="#72C6EC" stroke-opacity="0.7" stroke-width="1.1"/>
<circle cx="1005.7" cy="774.6" r="3.1" fill="#72C6EC" fill-opacity="0.4" stroke="#72C6EC" stroke-opacity="0.7" stroke-width="1.1"/>
<circle cx="1015.5" cy="770.3" r="3.1" fill="#72C6EC" fill-opacity="0.4" stroke="#72C6EC" stroke-opacity="0.7" stroke-width="1.1"/>
<circle cx="1010.1" cy="782.0" r="3.1" fill="#72C6EC" fill-opacity="0.4" stroke="#72C6EC" stroke-opacity="0.7" stroke-width="1.1"/>
<circle cx="1024.3" cy="774.6" r="3.1" fill="#72C6EC" fill-opacity="0.4" stroke="#72C6EC" stroke-opacity="0.7" stroke-width="1.1"/>
<circle cx="1052.7" cy="761.1" r="3.1" fill="#72C6EC" fill-opacity="0.4" stroke="#72C6EC" stroke-opacity="0.7" stroke-width="1.1"/>
<circle cx="1084.1" cy="769.9" r="3.1" fill="#72C6EC" fill-opacity="0.4" stroke="#72C6EC" stroke-opacity="0.7" stroke-width="1.1"/>
<circle cx="1084.1" cy="776.5" r="3.1" fill="#72C6EC" fill-opacity="0.4" stroke="#72C6EC" stroke-opacity="0.7" stroke-width="1.1"/>
<circle cx="1048.8" cy="799.3" r="3.1" fill="#72C6EC" fill-opacity="0.4" stroke="#72C6EC" stroke-opacity="0.7" stroke-width="1.1"/>
<circle cx="1021.0" cy="834.9" r="3.1" fill="#72C6EC" fill-opacity="0.4" stroke="#72C6EC" stroke-opacity="0.7" stroke-width="1.1"/>
<circle cx="898.6" cy="807.1" r="3.1" fill="#4A62A8" fill-opacity="0.4" stroke="#4A62A8" stroke-opacity="0.7" stroke-width="1.1"/>
<circle cx="819.1" cy="833.9" r="3.1" fill="#4A62A8" fill-opacity="0.4" stroke="#4A62A8" stroke-opacity="0.7" stroke-width="1.1"/>
<circle cx="819.7" cy="847.2" r="3.1" fill="#4A62A8" fill-opacity="0.4" stroke="#4A62A8" stroke-opacity="0.7" stroke-width="1.1"/>
<circle cx="820.3" cy="847.6" r="3.1" fill="#4A62A8" fill-opacity="0.4" stroke="#4A62A8" stroke-opacity="0.7" stroke-width="1.1"/>
<circle cx="819.1" cy="873.1" r="3.1" fill="#4A62A8" fill-opacity="0.4" stroke="#4A62A8" stroke-opacity="0.7" stroke-width="1.1"/>
<circle cx="869.6" cy="823.7" r="3.1" fill="#4A62A8" fill-opacity="0.4" stroke="#4A62A8" stroke-opacity="0.7" stroke-width="1.1"/>
<circle cx="878.4" cy="830.4" r="3.1" fill="#4A62A8" fill-opacity="0.4" stroke="#4A62A8" stroke-opacity="0.7" stroke-width="1.1"/>
<circle cx="898.6" cy="829.0" r="3.1" fill="#4A62A8" fill-opacity="0.4" stroke="#4A62A8" stroke-opacity="0.7" stroke-width="1.1"/>
<circle cx="928.8" cy="828.6" r="3.1" fill="#4A62A8" fill-opacity="0.4" stroke="#4A62A8" stroke-opacity="0.7" stroke-width="1.1"/>
<circle cx="930.3" cy="840.2" r="3.1" fill="#4A62A8" fill-opacity="0.4" stroke="#4A62A8" stroke-opacity="0.7" stroke-width="1.1"/>
<circle cx="877.4" cy="851.5" r="3.1" fill="#4A62A8" fill-opacity="0.4" stroke="#4A62A8" stroke-opacity="0.7" stroke-width="1.1"/>
<circle cx="900.6" cy="861.7" r="3.1" fill="#4A62A8" fill-opacity="0.4" stroke="#4A62A8" stroke-opacity="0.7" stroke-width="1.1"/>
<circle cx="914.7" cy="855.5" r="3.1" fill="#4A62A8" fill-opacity="0.4" stroke="#4A62A8" stroke-opacity="0.7" stroke-width="1.1"/>
<circle cx="919.5" cy="850.0" r="3.1" fill="#4A62A8" fill-opacity="0.4" stroke="#4A62A8" stroke-opacity="0.7" stroke-width="1.1"/>
<circle cx="917.6" cy="857.4" r="3.1" fill="#4A62A8" fill-opacity="0.4" stroke="#4A62A8" stroke-opacity="0.7" stroke-width="1.1"/>
<circle cx="920.1" cy="861.9" r="3.1" fill="#4A62A8" fill-opacity="0.4" stroke="#4A62A8" stroke-opacity="0.7" stroke-width="1.1"/>
<circle cx="914.7" cy="867.2" r="3.1" fill="#4A62A8" fill-opacity="0.4" stroke="#4A62A8" stroke-opacity="0.7" stroke-width="1.1"/>
<circle cx="920.9" cy="867.2" r="3.1" fill="#4A62A8" fill-opacity="0.4" stroke="#4A62A8" stroke-opacity="0.7" stroke-width="1.1"/>
<circle cx="928.8" cy="856.4" r="3.1" fill="#4A62A8" fill-opacity="0.4" stroke="#4A62A8" stroke-opacity="0.7" stroke-width="1.1"/>
<circle cx="932.3" cy="871.1" r="3.1" fill="#4A62A8" fill-opacity="0.4" stroke="#4A62A8" stroke-opacity="0.7" stroke-width="1.1"/>
<circle cx="905.8" cy="877.6" r="3.1" fill="#4A62A8" fill-opacity="0.4" stroke="#4A62A8" stroke-opacity="0.7" stroke-width="1.1"/>
<circle cx="910.1" cy="877.6" r="3.1" fill="#4A62A8" fill-opacity="0.4" stroke="#4A62A8" stroke-opacity="0.7" stroke-width="1.1"/>
<circle cx="917.0" cy="882.5" r="3.1" fill="#4A62A8" fill-opacity="0.4" stroke="#4A62A8" stroke-opacity="0.7" stroke-width="1.1"/>
<circle cx="875.1" cy="882.9" r="3.1" fill="#4A62A8" fill-opacity="0.4" stroke="#4A62A8" stroke-opacity="0.7" stroke-width="1.1"/>
<circle cx="909.8" cy="889.1" r="3.1" fill="#4A62A8" fill-opacity="0.4" stroke="#4A62A8" stroke-opacity="0.7" stroke-width="1.1"/>
<circle cx="915.0" cy="817.3" r="3.1" fill="#4A62A8" fill-opacity="0.4" stroke="#4A62A8" stroke-opacity="0.7" stroke-width="1.1"/>
<circle cx="897.0" cy="850.2" r="3.1" fill="#4A62A8" fill-opacity="0.4" stroke="#4A62A8" stroke-opacity="0.7" stroke-width="1.1"/>
<circle cx="1023.0" cy="702.1" r="3.1" fill="#4A62A8" fill-opacity="0.4" stroke="#4A62A8" stroke-opacity="0.7" stroke-width="1.1"/>
<circle cx="1020.4" cy="718.8" r="3.1" fill="#4A62A8" fill-opacity="0.4" stroke="#4A62A8" stroke-opacity="0.7" stroke-width="1.1"/>
<circle cx="1024.3" cy="757.9" r="3.1" fill="#4A62A8" fill-opacity="0.4" stroke="#4A62A8" stroke-opacity="0.7" stroke-width="1.1"/>
<circle cx="1021.0" cy="767.7" r="3.1" fill="#4A62A8" fill-opacity="0.4" stroke="#4A62A8" stroke-opacity="0.7" stroke-width="1.1"/>
<circle cx="1015.9" cy="779.1" r="3.1" fill="#4A62A8" fill-opacity="0.4" stroke="#4A62A8" stroke-opacity="0.7" stroke-width="1.1"/>
<circle cx="1024.3" cy="777.1" r="3.1" fill="#4A62A8" fill-opacity="0.4" stroke="#4A62A8" stroke-opacity="0.7" stroke-width="1.1"/>
<circle cx="1024.3" cy="783.0" r="3.1" fill="#4A62A8" fill-opacity="0.4" stroke="#4A62A8" stroke-opacity="0.7" stroke-width="1.1"/>
<circle cx="1052.7" cy="772.2" r="3.1" fill="#4A62A8" fill-opacity="0.4" stroke="#4A62A8" stroke-opacity="0.7" stroke-width="1.1"/>
<circle cx="1060.0" cy="766.4" r="3.1" fill="#4A62A8" fill-opacity="0.4" stroke="#4A62A8" stroke-opacity="0.7" stroke-width="1.1"/>
<circle cx="1057.6" cy="781.1" r="3.1" fill="#4A62A8" fill-opacity="0.4" stroke="#4A62A8" stroke-opacity="0.7" stroke-width="1.1"/>
<circle cx="1057.6" cy="787.3" r="3.1" fill="#4A62A8" fill-opacity="0.4" stroke="#4A62A8" stroke-opacity="0.7" stroke-width="1.1"/>
<circle cx="1078.2" cy="768.3" r="3.1" fill="#4A62A8" fill-opacity="0.4" stroke="#4A62A8" stroke-opacity="0.7" stroke-width="1.1"/>
<circle cx="1084.1" cy="797.3" r="3.1" fill="#4A62A8" fill-opacity="0.4" stroke="#4A62A8" stroke-opacity="0.7" stroke-width="1.1"/>
<circle cx="1023.4" cy="814.3" r="3.1" fill="#4A62A8" fill-opacity="0.4" stroke="#4A62A8" stroke-opacity="0.7" stroke-width="1.1"/>
<circle cx="1015.5" cy="822.2" r="3.1" fill="#4A62A8" fill-opacity="0.4" stroke="#4A62A8" stroke-opacity="0.7" stroke-width="1.1"/>
<circle cx="1009.7" cy="831.6" r="3.1" fill="#4A62A8" fill-opacity="0.4" stroke="#4A62A8" stroke-opacity="0.7" stroke-width="1.1"/>
<circle cx="1084.1" cy="830.0" r="3.1" fill="#4A62A8" fill-opacity="0.4" stroke="#4A62A8" stroke-opacity="0.7" stroke-width="1.1"/>
<circle cx="1084.1" cy="840.2" r="3.1" fill="#4A62A8" fill-opacity="0.4" stroke="#4A62A8" stroke-opacity="0.7" stroke-width="1.1"/>
<circle cx="1048.8" cy="845.1" r="3.1" fill="#4A62A8" fill-opacity="0.4" stroke="#4A62A8" stroke-opacity="0.7" stroke-width="1.1"/>
<line x1="819.3" y1="837.2" x2="1084.2" y2="787.6" stroke="#D63B2F" stroke-width="3.2"/>
<line x1="819.3" y1="824.5" x2="1084.2" y2="804" stroke="#E8922F" stroke-width="3.2"/>
<line x1="819.3" y1="881.2" x2="1084.2" y2="761.8" stroke="#5BB6E2" stroke-width="3.2"/>
<line x1="819.3" y1="875.4" x2="1084.2" y2="781.5" stroke="#1D3A8C" stroke-width="3.2"/>
<text x="954.3" y="887.2" font-size="13.8" text-anchor="start" fill="#CF5D55" textLength="131.7" lengthAdjust="spacingAndGlyphs"><tspan font-style="italic">r</tspan> = 0.41, <tspan font-style="italic">P</tspan> = 0.0025</text>
<text x="954.3" y="904.9" font-size="13.8" text-anchor="start" fill="#E6A460" textLength="102.2" lengthAdjust="spacingAndGlyphs"><tspan font-style="italic">r</tspan> = 0.15, <tspan font-style="italic">P</tspan> = 0.3</text>
<text x="954.3" y="922.8" font-size="13.8" text-anchor="start" fill="#6DBCE4" textLength="123.3" lengthAdjust="spacingAndGlyphs"><tspan font-style="italic">r</tspan> = 0.68, <tspan font-style="italic">P</tspan> &lt; 0.001</text>
<text x="954.3" y="941.3" font-size="13.8" text-anchor="start" fill="#42568E" textLength="124.1" lengthAdjust="spacingAndGlyphs"><tspan font-style="italic">r</tspan> = 0.64, <tspan font-style="italic">P</tspan> &lt; 0.001</text>
<rect x="804.3" y="658.5" width="292.6" height="27.9" fill="#fff" stroke="#555" stroke-width="1.2"/>
<text x="950.6" y="677.8" font-size="18" text-anchor="middle" fill="#1a1a1a">Residential area</text>
<line x1="804.3" y1="686.4" x2="804.3" y2="964.2" stroke="#555" stroke-width="1.3"/>
<line x1="803.6999999999999" y1="964.2" x2="1096.9" y2="964.2" stroke="#555" stroke-width="1.3"/>
<line x1="798.8" y1="731.5" x2="804.3" y2="731.5" stroke="#555" stroke-width="1.2"/>
<text x="789.8" y="736.8" font-size="15" text-anchor="end" fill="#1a1a1a">2</text>
<line x1="798.8" y1="779.2" x2="804.3" y2="779.2" stroke="#555" stroke-width="1.2"/>
<text x="789.8" y="784.5" font-size="15" text-anchor="end" fill="#1a1a1a">1</text>
<line x1="798.8" y1="826.6" x2="804.3" y2="826.6" stroke="#555" stroke-width="1.2"/>
<text x="789.8" y="831.9" font-size="15" text-anchor="end" fill="#1a1a1a">0</text>
<line x1="798.8" y1="874" x2="804.3" y2="874" stroke="#555" stroke-width="1.2"/>
<text x="789.8" y="879.3" font-size="15" text-anchor="end" fill="#1a1a1a">–1</text>
<line x1="798.8" y1="922" x2="804.3" y2="922" stroke="#555" stroke-width="1.2"/>
<text x="789.8" y="927.3" font-size="15" text-anchor="end" fill="#1a1a1a">–2</text>
<line x1="891" y1="964.2" x2="891" y2="969.7" stroke="#555" stroke-width="1.2"/>
<text x="891.0" y="991.7" font-size="15" text-anchor="middle" fill="#1a1a1a" textLength="27.0" lengthAdjust="spacingAndGlyphs">500</text>
<line x1="998.5" y1="964.2" x2="998.5" y2="969.7" stroke="#555" stroke-width="1.2"/>
<text x="998.5" y="991.7" font-size="15" text-anchor="middle" fill="#1a1a1a" textLength="40.5" lengthAdjust="spacingAndGlyphs">1,000</text>
<polygon points="1151.1,800.3 1162.2,800.1 1173.2,799.8 1184.3,799.5 1195.4,799.2 1206.5,798.8 1217.5,798.3 1228.6,797.8 1239.7,797.1 1250.7,796.3 1261.8,795.2 1272.9,793.8 1283.9,792.1 1295.0,790.0 1306.1,787.5 1317.2,784.7 1328.2,781.7 1339.3,778.6 1350.4,775.4 1361.4,772.1 1372.5,768.7 1383.6,765.3 1394.7,761.8 1405.7,758.4 1416.8,754.9 1416.8,802.9 1405.7,802.9 1394.7,803.0 1383.6,803.1 1372.5,803.2 1361.4,803.4 1350.4,803.6 1339.3,803.9 1328.2,804.3 1317.2,804.9 1306.1,805.7 1295.0,806.7 1283.9,808.1 1272.9,809.9 1261.8,812.1 1250.7,814.5 1239.7,817.2 1228.6,820.1 1217.5,823.1 1206.5,826.1 1195.4,829.3 1184.3,832.5 1173.2,835.7 1162.2,839.0 1151.1,842.3" fill="#8c8c8c" opacity="0.17"/>
<polygon points="1151.1,822.4 1162.2,821.8 1173.2,821.2 1184.3,820.5 1195.4,819.8 1206.5,819.1 1217.5,818.2 1228.6,817.3 1239.7,816.3 1250.7,815.1 1261.8,813.7 1272.9,812.0 1283.9,810.0 1295.0,807.4 1306.1,804.4 1317.2,801.1 1328.2,797.5 1339.3,793.7 1350.4,789.8 1361.4,785.9 1372.5,781.9 1383.6,777.9 1394.7,773.8 1405.7,769.7 1416.8,765.6 1416.8,821.6 1405.7,821.6 1394.7,821.5 1383.6,821.5 1372.5,821.6 1361.4,821.6 1350.4,821.8 1339.3,822.0 1328.2,822.3 1317.2,822.7 1306.1,823.4 1295.0,824.5 1283.9,826.0 1272.9,828.1 1261.8,830.5 1250.7,833.1 1239.7,836.0 1228.6,839.0 1217.5,842.2 1206.5,845.4 1195.4,848.7 1184.3,852.1 1173.2,855.5 1162.2,858.9 1151.1,862.4" fill="#8c8c8c" opacity="0.17"/>
<polygon points="1151.1,824.7 1162.2,822.1 1173.2,819.5 1184.3,816.8 1195.4,814.1 1206.5,811.4 1217.5,808.6 1228.6,805.7 1239.7,802.6 1250.7,799.4 1261.8,796.0 1272.9,792.3 1283.9,788.3 1295.0,784.0 1306.1,779.4 1317.2,774.5 1328.2,769.5 1339.3,764.2 1350.4,758.9 1361.4,753.6 1372.5,748.1 1383.6,742.6 1394.7,737.1 1405.7,731.6 1416.8,726.0 1416.8,770.0 1405.7,772.5 1394.7,775.0 1383.6,777.5 1372.5,780.1 1361.4,782.7 1350.4,785.4 1339.3,788.2 1328.2,791.0 1317.2,794.0 1306.1,797.2 1295.0,800.6 1283.9,804.4 1272.9,808.4 1261.8,812.8 1250.7,817.5 1239.7,822.3 1228.6,827.3 1217.5,832.5 1206.5,837.7 1195.4,843.0 1184.3,848.4 1173.2,853.8 1162.2,859.2 1151.1,864.7" fill="#8c8c8c" opacity="0.17"/>
<polygon points="1151.1,854.7 1162.2,850.3 1173.2,845.9 1184.3,841.5 1195.4,837.0 1206.5,832.5 1217.5,827.9 1228.6,823.2 1239.7,818.4 1250.7,813.4 1261.8,808.3 1272.9,802.9 1283.9,797.2 1295.0,791.2 1306.1,785.1 1317.2,778.7 1328.2,772.1 1339.3,765.4 1350.4,758.6 1361.4,751.7 1372.5,744.8 1383.6,737.8 1394.7,730.8 1405.7,723.8 1416.8,716.7 1416.8,756.7 1405.7,761.1 1394.7,765.4 1383.6,769.8 1372.5,774.3 1361.4,778.8 1350.4,783.3 1339.3,787.9 1328.2,792.7 1317.2,797.5 1306.1,802.5 1295.0,807.7 1283.9,813.2 1272.9,819.0 1261.8,825.0 1250.7,831.2 1239.7,837.7 1228.6,844.3 1217.5,851.0 1206.5,857.8 1195.4,864.7 1184.3,871.7 1173.2,878.6 1162.2,885.7 1151.1,892.7" fill="#8c8c8c" opacity="0.17"/>
<circle cx="1239.8" cy="732.5" r="3.1" fill="#E0504A" fill-opacity="0.4" stroke="#E0504A" stroke-opacity="0.7" stroke-width="1.1"/>
<circle cx="1253.5" cy="745.4" r="3.1" fill="#E0504A" fill-opacity="0.4" stroke="#E0504A" stroke-opacity="0.7" stroke-width="1.1"/>
<circle cx="1255.1" cy="752.3" r="3.1" fill="#E0504A" fill-opacity="0.4" stroke="#E0504A" stroke-opacity="0.7" stroke-width="1.1"/>
<circle cx="1245.1" cy="761.5" r="3.1" fill="#E0504A" fill-opacity="0.4" stroke="#E0504A" stroke-opacity="0.7" stroke-width="1.1"/>
<circle cx="1257.4" cy="759.5" r="3.1" fill="#E0504A" fill-opacity="0.4" stroke="#E0504A" stroke-opacity="0.7" stroke-width="1.1"/>
<circle cx="1257.8" cy="765.0" r="3.1" fill="#E0504A" fill-opacity="0.4" stroke="#E0504A" stroke-opacity="0.7" stroke-width="1.1"/>
<circle cx="1264.3" cy="767.0" r="3.1" fill="#E0504A" fill-opacity="0.4" stroke="#E0504A" stroke-opacity="0.7" stroke-width="1.1"/>
<circle cx="1239.8" cy="783.6" r="3.1" fill="#E0504A" fill-opacity="0.4" stroke="#E0504A" stroke-opacity="0.7" stroke-width="1.1"/>
<circle cx="1248.6" cy="796.1" r="3.1" fill="#E0504A" fill-opacity="0.4" stroke="#E0504A" stroke-opacity="0.7" stroke-width="1.1"/>
<circle cx="1261.8" cy="795.7" r="3.1" fill="#E0504A" fill-opacity="0.4" stroke="#E0504A" stroke-opacity="0.7" stroke-width="1.1"/>
<circle cx="1201.1" cy="806.9" r="3.1" fill="#E0504A" fill-opacity="0.4" stroke="#E0504A" stroke-opacity="0.7" stroke-width="1.1"/>
<circle cx="1206.5" cy="819.2" r="3.1" fill="#E0504A" fill-opacity="0.4" stroke="#E0504A" stroke-opacity="0.7" stroke-width="1.1"/>
<circle cx="1210.1" cy="816.3" r="3.1" fill="#E0504A" fill-opacity="0.4" stroke="#E0504A" stroke-opacity="0.7" stroke-width="1.1"/>
<circle cx="1152.1" cy="816.3" r="3.1" fill="#E0504A" fill-opacity="0.4" stroke="#E0504A" stroke-opacity="0.7" stroke-width="1.1"/>
<circle cx="1152.1" cy="846.3" r="3.1" fill="#E0504A" fill-opacity="0.4" stroke="#E0504A" stroke-opacity="0.7" stroke-width="1.1"/>
<circle cx="1152.1" cy="866.2" r="3.1" fill="#E0504A" fill-opacity="0.4" stroke="#E0504A" stroke-opacity="0.7" stroke-width="1.1"/>
<circle cx="1151.3" cy="869.2" r="3.1" fill="#E0504A" fill-opacity="0.4" stroke="#E0504A" stroke-opacity="0.7" stroke-width="1.1"/>
<circle cx="1244.7" cy="816.3" r="3.1" fill="#E0504A" fill-opacity="0.4" stroke="#E0504A" stroke-opacity="0.7" stroke-width="1.1"/>
<circle cx="1250.6" cy="811.0" r="3.1" fill="#E0504A" fill-opacity="0.4" stroke="#E0504A" stroke-opacity="0.7" stroke-width="1.1"/>
<circle cx="1408.8" cy="719.4" r="3.1" fill="#E0504A" fill-opacity="0.4" stroke="#E0504A" stroke-opacity="0.7" stroke-width="1.1"/>
<circle cx="1357.9" cy="752.7" r="3.1" fill="#E0504A" fill-opacity="0.4" stroke="#E0504A" stroke-opacity="0.7" stroke-width="1.1"/>
<circle cx="1417.1" cy="749.7" r="3.1" fill="#E0504A" fill-opacity="0.4" stroke="#E0504A" stroke-opacity="0.7" stroke-width="1.1"/>
<circle cx="1409.2" cy="759.5" r="3.1" fill="#E0504A" fill-opacity="0.4" stroke="#E0504A" stroke-opacity="0.7" stroke-width="1.1"/>
<circle cx="1391.6" cy="765.8" r="3.1" fill="#E0504A" fill-opacity="0.4" stroke="#E0504A" stroke-opacity="0.7" stroke-width="1.1"/>
<circle cx="1380.5" cy="786.9" r="3.1" fill="#E0504A" fill-opacity="0.4" stroke="#E0504A" stroke-opacity="0.7" stroke-width="1.1"/>
<circle cx="1350.5" cy="809.1" r="3.1" fill="#E0504A" fill-opacity="0.4" stroke="#E0504A" stroke-opacity="0.7" stroke-width="1.1"/>
<circle cx="1329.9" cy="827.1" r="3.1" fill="#E0504A" fill-opacity="0.4" stroke="#E0504A" stroke-opacity="0.7" stroke-width="1.1"/>
<circle cx="1331.9" cy="842.3" r="3.1" fill="#E0504A" fill-opacity="0.4" stroke="#E0504A" stroke-opacity="0.7" stroke-width="1.1"/>
<circle cx="1356.8" cy="842.3" r="3.1" fill="#E0504A" fill-opacity="0.4" stroke="#E0504A" stroke-opacity="0.7" stroke-width="1.1"/>
<circle cx="1345.2" cy="851.5" r="3.1" fill="#E0504A" fill-opacity="0.4" stroke="#E0504A" stroke-opacity="0.7" stroke-width="1.1"/>
<circle cx="1356.8" cy="853.5" r="3.1" fill="#E0504A" fill-opacity="0.4" stroke="#E0504A" stroke-opacity="0.7" stroke-width="1.1"/>
<circle cx="1348.5" cy="858.0" r="3.1" fill="#E0504A" fill-opacity="0.4" stroke="#E0504A" stroke-opacity="0.7" stroke-width="1.1"/>
<circle cx="1409.2" cy="780.1" r="3.1" fill="#E0504A" fill-opacity="0.4" stroke="#E0504A" stroke-opacity="0.7" stroke-width="1.1"/>
<circle cx="1263.9" cy="722.3" r="3.1" fill="#EFA558" fill-opacity="0.4" stroke="#EFA558" stroke-opacity="0.7" stroke-width="1.1"/>
<circle cx="1206.9" cy="766.8" r="3.1" fill="#EFA558" fill-opacity="0.4" stroke="#EFA558" stroke-opacity="0.7" stroke-width="1.1"/>
<circle cx="1255.1" cy="758.5" r="3.1" fill="#EFA558" fill-opacity="0.4" stroke="#EFA558" stroke-opacity="0.7" stroke-width="1.1"/>
<circle cx="1261.0" cy="770.7" r="3.1" fill="#EFA558" fill-opacity="0.4" stroke="#EFA558" stroke-opacity="0.7" stroke-width="1.1"/>
<circle cx="1257.4" cy="773.8" r="3.1" fill="#EFA558" fill-opacity="0.4" stroke="#EFA558" stroke-opacity="0.7" stroke-width="1.1"/>
<circle cx="1234.9" cy="774.2" r="3.1" fill="#EFA558" fill-opacity="0.4" stroke="#EFA558" stroke-opacity="0.7" stroke-width="1.1"/>
<circle cx="1246.7" cy="784.4" r="3.1" fill="#EFA558" fill-opacity="0.4" stroke="#EFA558" stroke-opacity="0.7" stroke-width="1.1"/>
<circle cx="1259.8" cy="787.9" r="3.1" fill="#EFA558" fill-opacity="0.4" stroke="#EFA558" stroke-opacity="0.7" stroke-width="1.1"/>
<circle cx="1233.9" cy="790.8" r="3.1" fill="#EFA558" fill-opacity="0.4" stroke="#EFA558" stroke-opacity="0.7" stroke-width="1.1"/>
<circle cx="1248.0" cy="792.2" r="3.1" fill="#EFA558" fill-opacity="0.4" stroke="#EFA558" stroke-opacity="0.7" stroke-width="1.1"/>
<circle cx="1233.0" cy="797.3" r="3.1" fill="#EFA558" fill-opacity="0.4" stroke="#EFA558" stroke-opacity="0.7" stroke-width="1.1"/>
<circle cx="1233.9" cy="819.2" r="3.1" fill="#EFA558" fill-opacity="0.4" stroke="#EFA558" stroke-opacity="0.7" stroke-width="1.1"/>
<circle cx="1233.0" cy="825.1" r="3.1" fill="#EFA558" fill-opacity="0.4" stroke="#EFA558" stroke-opacity="0.7" stroke-width="1.1"/>
<circle cx="1244.7" cy="831.0" r="3.1" fill="#EFA558" fill-opacity="0.4" stroke="#EFA558" stroke-opacity="0.7" stroke-width="1.1"/>
<circle cx="1244.7" cy="837.2" r="3.1" fill="#EFA558" fill-opacity="0.4" stroke="#EFA558" stroke-opacity="0.7" stroke-width="1.1"/>
<circle cx="1250.6" cy="847.6" r="3.1" fill="#EFA558" fill-opacity="0.4" stroke="#EFA558" stroke-opacity="0.7" stroke-width="1.1"/>
<circle cx="1244.7" cy="860.4" r="3.1" fill="#EFA558" fill-opacity="0.4" stroke="#EFA558" stroke-opacity="0.7" stroke-width="1.1"/>
<circle cx="1201.1" cy="865.8" r="3.1" fill="#EFA558" fill-opacity="0.4" stroke="#EFA558" stroke-opacity="0.7" stroke-width="1.1"/>
<circle cx="1210.1" cy="871.1" r="3.1" fill="#EFA558" fill-opacity="0.4" stroke="#EFA558" stroke-opacity="0.7" stroke-width="1.1"/>
<circle cx="1210.1" cy="878.0" r="3.1" fill="#EFA558" fill-opacity="0.4" stroke="#EFA558" stroke-opacity="0.7" stroke-width="1.1"/>
<circle cx="1250.6" cy="905.4" r="3.1" fill="#EFA558" fill-opacity="0.4" stroke="#EFA558" stroke-opacity="0.7" stroke-width="1.1"/>
<circle cx="1250.6" cy="951.8" r="3.1" fill="#EFA558" fill-opacity="0.4" stroke="#EFA558" stroke-opacity="0.7" stroke-width="1.1"/>
<circle cx="1152.1" cy="836.9" r="3.1" fill="#EFA558" fill-opacity="0.4" stroke="#EFA558" stroke-opacity="0.7" stroke-width="1.1"/>
<circle cx="1151.7" cy="877.0" r="3.1" fill="#EFA558" fill-opacity="0.4" stroke="#EFA558" stroke-opacity="0.7" stroke-width="1.1"/>
<circle cx="1393.2" cy="700.4" r="3.1" fill="#EFA558" fill-opacity="0.4" stroke="#EFA558" stroke-opacity="0.7" stroke-width="1.1"/>
<circle cx="1387.7" cy="739.0" r="3.1" fill="#EFA558" fill-opacity="0.4" stroke="#EFA558" stroke-opacity="0.7" stroke-width="1.1"/>
<circle cx="1380.5" cy="752.3" r="3.1" fill="#EFA558" fill-opacity="0.4" stroke="#EFA558" stroke-opacity="0.7" stroke-width="1.1"/>
<circle cx="1409.2" cy="783.0" r="3.1" fill="#EFA558" fill-opacity="0.4" stroke="#EFA558" stroke-opacity="0.7" stroke-width="1.1"/>
<circle cx="1391.6" cy="788.9" r="3.1" fill="#EFA558" fill-opacity="0.4" stroke="#EFA558" stroke-opacity="0.7" stroke-width="1.1"/>
<circle cx="1350.1" cy="796.7" r="3.1" fill="#EFA558" fill-opacity="0.4" stroke="#EFA558" stroke-opacity="0.7" stroke-width="1.1"/>
<circle cx="1329.3" cy="817.7" r="3.1" fill="#EFA558" fill-opacity="0.4" stroke="#EFA558" stroke-opacity="0.7" stroke-width="1.1"/>
<circle cx="1332.5" cy="824.1" r="3.1" fill="#EFA558" fill-opacity="0.4" stroke="#EFA558" stroke-opacity="0.7" stroke-width="1.1"/>
<circle cx="1345.2" cy="818.8" r="3.1" fill="#EFA558" fill-opacity="0.4" stroke="#EFA558" stroke-opacity="0.7" stroke-width="1.1"/>
<circle cx="1357.9" cy="819.6" r="3.1" fill="#EFA558" fill-opacity="0.4" stroke="#EFA558" stroke-opacity="0.7" stroke-width="1.1"/>
<circle cx="1356.4" cy="828.0" r="3.1" fill="#EFA558" fill-opacity="0.4" stroke="#EFA558" stroke-opacity="0.7" stroke-width="1.1"/>
<circle cx="1356.4" cy="832.0" r="3.1" fill="#EFA558" fill-opacity="0.4" stroke="#EFA558" stroke-opacity="0.7" stroke-width="1.1"/>
<circle cx="1408.8" cy="813.0" r="3.1" fill="#EFA558" fill-opacity="0.4" stroke="#EFA558" stroke-opacity="0.7" stroke-width="1.1"/>
<circle cx="1409.2" cy="831.4" r="3.1" fill="#EFA558" fill-opacity="0.4" stroke="#EFA558" stroke-opacity="0.7" stroke-width="1.1"/>
<circle cx="1416.7" cy="826.7" r="3.1" fill="#EFA558" fill-opacity="0.4" stroke="#EFA558" stroke-opacity="0.7" stroke-width="1.1"/>
<circle cx="1330.5" cy="851.0" r="3.1" fill="#EFA558" fill-opacity="0.4" stroke="#EFA558" stroke-opacity="0.7" stroke-width="1.1"/>
<circle cx="1331.3" cy="860.4" r="3.1" fill="#EFA558" fill-opacity="0.4" stroke="#EFA558" stroke-opacity="0.7" stroke-width="1.1"/>
<circle cx="1348.5" cy="859.4" r="3.1" fill="#EFA558" fill-opacity="0.4" stroke="#EFA558" stroke-opacity="0.7" stroke-width="1.1"/>
<circle cx="1356.8" cy="865.2" r="3.1" fill="#EFA558" fill-opacity="0.4" stroke="#EFA558" stroke-opacity="0.7" stroke-width="1.1"/>
<circle cx="1246.1" cy="738.0" r="3.1" fill="#72C6EC" fill-opacity="0.4" stroke="#72C6EC" stroke-opacity="0.7" stroke-width="1.1"/>
<circle cx="1264.3" cy="750.1" r="3.1" fill="#72C6EC" fill-opacity="0.4" stroke="#72C6EC" stroke-opacity="0.7" stroke-width="1.1"/>
<circle cx="1250.6" cy="764.0" r="3.1" fill="#72C6EC" fill-opacity="0.4" stroke="#72C6EC" stroke-opacity="0.7" stroke-width="1.1"/>
<circle cx="1245.3" cy="776.2" r="3.1" fill="#72C6EC" fill-opacity="0.4" stroke="#72C6EC" stroke-opacity="0.7" stroke-width="1.1"/>
<circle cx="1248.6" cy="774.2" r="3.1" fill="#72C6EC" fill-opacity="0.4" stroke="#72C6EC" stroke-opacity="0.7" stroke-width="1.1"/>
<circle cx="1248.6" cy="782.0" r="3.1" fill="#72C6EC" fill-opacity="0.4" stroke="#72C6EC" stroke-opacity="0.7" stroke-width="1.1"/>
<circle cx="1257.8" cy="783.6" r="3.1" fill="#72C6EC" fill-opacity="0.4" stroke="#72C6EC" stroke-opacity="0.7" stroke-width="1.1"/>
<circle cx="1256.5" cy="795.7" r="3.1" fill="#72C6EC" fill-opacity="0.4" stroke="#72C6EC" stroke-opacity="0.7" stroke-width="1.1"/>
<circle cx="1233.9" cy="793.4" r="3.1" fill="#72C6EC" fill-opacity="0.4" stroke="#72C6EC" stroke-opacity="0.7" stroke-width="1.1"/>
<circle cx="1206.5" cy="799.1" r="3.1" fill="#72C6EC" fill-opacity="0.4" stroke="#72C6EC" stroke-opacity="0.7" stroke-width="1.1"/>
<circle cx="1234.9" cy="813.4" r="3.1" fill="#72C6EC" fill-opacity="0.4" stroke="#72C6EC" stroke-opacity="0.7" stroke-width="1.1"/>
<circle cx="1244.7" cy="840.8" r="3.1" fill="#72C6EC" fill-opacity="0.4" stroke="#72C6EC" stroke-opacity="0.7" stroke-width="1.1"/>
<circle cx="1244.7" cy="849.6" r="3.1" fill="#72C6EC" fill-opacity="0.4" stroke="#72C6EC" stroke-opacity="0.7" stroke-width="1.1"/>
<circle cx="1201.1" cy="856.8" r="3.1" fill="#72C6EC" fill-opacity="0.4" stroke="#72C6EC" stroke-opacity="0.7" stroke-width="1.1"/>
<circle cx="1210.1" cy="867.2" r="3.1" fill="#72C6EC" fill-opacity="0.4" stroke="#72C6EC" stroke-opacity="0.7" stroke-width="1.1"/>
<circle cx="1239.4" cy="871.7" r="3.1" fill="#72C6EC" fill-opacity="0.4" stroke="#72C6EC" stroke-opacity="0.7" stroke-width="1.1"/>
<circle cx="1250.6" cy="878.4" r="3.1" fill="#72C6EC" fill-opacity="0.4" stroke="#72C6EC" stroke-opacity="0.7" stroke-width="1.1"/>
<circle cx="1250.6" cy="919.1" r="3.1" fill="#72C6EC" fill-opacity="0.4" stroke="#72C6EC" stroke-opacity="0.7" stroke-width="1.1"/>
<circle cx="1151.3" cy="860.4" r="3.1" fill="#72C6EC" fill-opacity="0.4" stroke="#72C6EC" stroke-opacity="0.7" stroke-width="1.1"/>
<circle cx="1151.7" cy="823.2" r="3.1" fill="#72C6EC" fill-opacity="0.4" stroke="#72C6EC" stroke-opacity="0.7" stroke-width="1.1"/>
<circle cx="1331.3" cy="730.1" r="3.1" fill="#72C6EC" fill-opacity="0.4" stroke="#72C6EC" stroke-opacity="0.7" stroke-width="1.1"/>
<circle cx="1332.5" cy="742.9" r="3.1" fill="#72C6EC" fill-opacity="0.4" stroke="#72C6EC" stroke-opacity="0.7" stroke-width="1.1"/>
<circle cx="1330.5" cy="750.1" r="3.1" fill="#72C6EC" fill-opacity="0.4" stroke="#72C6EC" stroke-opacity="0.7" stroke-width="1.1"/>
<circle cx="1345.2" cy="751.1" r="3.1" fill="#72C6EC" fill-opacity="0.4" stroke="#72C6EC" stroke-opacity="0.7" stroke-width="1.1"/>
<circle cx="1356.4" cy="726.2" r="3.1" fill="#72C6EC" fill-opacity="0.4" stroke="#72C6EC" stroke-opacity="0.7" stroke-width="1.1"/>
<circle cx="1356.8" cy="744.8" r="3.1" fill="#72C6EC" fill-opacity="0.4" stroke="#72C6EC" stroke-opacity="0.7" stroke-width="1.1"/>
<circle cx="1391.6" cy="731.1" r="3.1" fill="#72C6EC" fill-opacity="0.4" stroke="#72C6EC" stroke-opacity="0.7" stroke-width="1.1"/>
<circle cx="1356.4" cy="774.8" r="3.1" fill="#72C6EC" fill-opacity="0.4" stroke="#72C6EC" stroke-opacity="0.7" stroke-width="1.1"/>
<circle cx="1392.6" cy="776.2" r="3.1" fill="#72C6EC" fill-opacity="0.4" stroke="#72C6EC" stroke-opacity="0.7" stroke-width="1.1"/>
<circle cx="1417.1" cy="781.1" r="3.1" fill="#72C6EC" fill-opacity="0.4" stroke="#72C6EC" stroke-opacity="0.7" stroke-width="1.1"/>
<circle cx="1380.5" cy="793.8" r="3.1" fill="#72C6EC" fill-opacity="0.4" stroke="#72C6EC" stroke-opacity="0.7" stroke-width="1.1"/>
<circle cx="1348.5" cy="800.6" r="3.1" fill="#72C6EC" fill-opacity="0.4" stroke="#72C6EC" stroke-opacity="0.7" stroke-width="1.1"/>
<circle cx="1357.9" cy="800.6" r="3.1" fill="#72C6EC" fill-opacity="0.4" stroke="#72C6EC" stroke-opacity="0.7" stroke-width="1.1"/>
<circle cx="1246.3" cy="767.7" r="3.1" fill="#4A62A8" fill-opacity="0.4" stroke="#4A62A8" stroke-opacity="0.7" stroke-width="1.1"/>
<circle cx="1233.6" cy="778.5" r="3.1" fill="#4A62A8" fill-opacity="0.4" stroke="#4A62A8" stroke-opacity="0.7" stroke-width="1.1"/>
<circle cx="1263.9" cy="785.6" r="3.1" fill="#4A62A8" fill-opacity="0.4" stroke="#4A62A8" stroke-opacity="0.7" stroke-width="1.1"/>
<circle cx="1234.3" cy="803.2" r="3.1" fill="#4A62A8" fill-opacity="0.4" stroke="#4A62A8" stroke-opacity="0.7" stroke-width="1.1"/>
<circle cx="1244.7" cy="801.6" r="3.1" fill="#4A62A8" fill-opacity="0.4" stroke="#4A62A8" stroke-opacity="0.7" stroke-width="1.1"/>
<circle cx="1248.6" cy="805.5" r="3.1" fill="#4A62A8" fill-opacity="0.4" stroke="#4A62A8" stroke-opacity="0.7" stroke-width="1.1"/>
<circle cx="1201.1" cy="823.5" r="3.1" fill="#4A62A8" fill-opacity="0.4" stroke="#4A62A8" stroke-opacity="0.7" stroke-width="1.1"/>
<circle cx="1210.1" cy="828.0" r="3.1" fill="#4A62A8" fill-opacity="0.4" stroke="#4A62A8" stroke-opacity="0.7" stroke-width="1.1"/>
<circle cx="1210.1" cy="838.2" r="3.1" fill="#4A62A8" fill-opacity="0.4" stroke="#4A62A8" stroke-opacity="0.7" stroke-width="1.1"/>
<circle cx="1210.1" cy="852.1" r="3.1" fill="#4A62A8" fill-opacity="0.4" stroke="#4A62A8" stroke-opacity="0.7" stroke-width="1.1"/>
<circle cx="1250.0" cy="832.0" r="3.1" fill="#4A62A8" fill-opacity="0.4" stroke="#4A62A8" stroke-opacity="0.7" stroke-width="1.1"/>
<circle cx="1261.8" cy="826.5" r="3.1" fill="#4A62A8" fill-opacity="0.4" stroke="#4A62A8" stroke-opacity="0.7" stroke-width="1.1"/>
<circle cx="1250.0" cy="843.1" r="3.1" fill="#4A62A8" fill-opacity="0.4" stroke="#4A62A8" stroke-opacity="0.7" stroke-width="1.1"/>
<circle cx="1257.8" cy="841.4" r="3.1" fill="#4A62A8" fill-opacity="0.4" stroke="#4A62A8" stroke-opacity="0.7" stroke-width="1.1"/>
<circle cx="1259.8" cy="841.4" r="3.1" fill="#4A62A8" fill-opacity="0.4" stroke="#4A62A8" stroke-opacity="0.7" stroke-width="1.1"/>
<circle cx="1256.5" cy="857.4" r="3.1" fill="#4A62A8" fill-opacity="0.4" stroke="#4A62A8" stroke-opacity="0.7" stroke-width="1.1"/>
<circle cx="1254.5" cy="861.3" r="3.1" fill="#4A62A8" fill-opacity="0.4" stroke="#4A62A8" stroke-opacity="0.7" stroke-width="1.1"/>
<circle cx="1239.4" cy="866.2" r="3.1" fill="#4A62A8" fill-opacity="0.4" stroke="#4A62A8" stroke-opacity="0.7" stroke-width="1.1"/>
<circle cx="1239.4" cy="868.2" r="3.1" fill="#4A62A8" fill-opacity="0.4" stroke="#4A62A8" stroke-opacity="0.7" stroke-width="1.1"/>
<circle cx="1244.7" cy="873.7" r="3.1" fill="#4A62A8" fill-opacity="0.4" stroke="#4A62A8" stroke-opacity="0.7" stroke-width="1.1"/>
<circle cx="1257.1" cy="872.1" r="3.1" fill="#4A62A8" fill-opacity="0.4" stroke="#4A62A8" stroke-opacity="0.7" stroke-width="1.1"/>
<circle cx="1250.6" cy="880.9" r="3.1" fill="#4A62A8" fill-opacity="0.4" stroke="#4A62A8" stroke-opacity="0.7" stroke-width="1.1"/>
<circle cx="1239.8" cy="890.1" r="3.1" fill="#4A62A8" fill-opacity="0.4" stroke="#4A62A8" stroke-opacity="0.7" stroke-width="1.1"/>
<circle cx="1245.3" cy="890.1" r="3.1" fill="#4A62A8" fill-opacity="0.4" stroke="#4A62A8" stroke-opacity="0.7" stroke-width="1.1"/>
<circle cx="1151.3" cy="815.7" r="3.1" fill="#4A62A8" fill-opacity="0.4" stroke="#4A62A8" stroke-opacity="0.7" stroke-width="1.1"/>
<circle cx="1151.3" cy="854.1" r="3.1" fill="#4A62A8" fill-opacity="0.4" stroke="#4A62A8" stroke-opacity="0.7" stroke-width="1.1"/>
<circle cx="1151.3" cy="880.9" r="3.1" fill="#4A62A8" fill-opacity="0.4" stroke="#4A62A8" stroke-opacity="0.7" stroke-width="1.1"/>
<circle cx="1356.4" cy="698.8" r="3.1" fill="#4A62A8" fill-opacity="0.4" stroke="#4A62A8" stroke-opacity="0.7" stroke-width="1.1"/>
<circle cx="1410.2" cy="713.1" r="3.1" fill="#4A62A8" fill-opacity="0.4" stroke="#4A62A8" stroke-opacity="0.7" stroke-width="1.1"/>
<circle cx="1391.6" cy="718.8" r="3.1" fill="#4A62A8" fill-opacity="0.4" stroke="#4A62A8" stroke-opacity="0.7" stroke-width="1.1"/>
<circle cx="1387.7" cy="727.6" r="3.1" fill="#4A62A8" fill-opacity="0.4" stroke="#4A62A8" stroke-opacity="0.7" stroke-width="1.1"/>
<circle cx="1408.8" cy="731.1" r="3.1" fill="#4A62A8" fill-opacity="0.4" stroke="#4A62A8" stroke-opacity="0.7" stroke-width="1.1"/>
<circle cx="1348.5" cy="732.7" r="3.1" fill="#4A62A8" fill-opacity="0.4" stroke="#4A62A8" stroke-opacity="0.7" stroke-width="1.1"/>
<circle cx="1356.4" cy="732.7" r="3.1" fill="#4A62A8" fill-opacity="0.4" stroke="#4A62A8" stroke-opacity="0.7" stroke-width="1.1"/>
<circle cx="1344.6" cy="743.8" r="3.1" fill="#4A62A8" fill-opacity="0.4" stroke="#4A62A8" stroke-opacity="0.7" stroke-width="1.1"/>
<circle cx="1350.1" cy="747.4" r="3.1" fill="#4A62A8" fill-opacity="0.4" stroke="#4A62A8" stroke-opacity="0.7" stroke-width="1.1"/>
<circle cx="1357.9" cy="746.8" r="3.1" fill="#4A62A8" fill-opacity="0.4" stroke="#4A62A8" stroke-opacity="0.7" stroke-width="1.1"/>
<circle cx="1380.5" cy="743.8" r="3.1" fill="#4A62A8" fill-opacity="0.4" stroke="#4A62A8" stroke-opacity="0.7" stroke-width="1.1"/>
<circle cx="1392.6" cy="748.7" r="3.1" fill="#4A62A8" fill-opacity="0.4" stroke="#4A62A8" stroke-opacity="0.7" stroke-width="1.1"/>
<circle cx="1409.2" cy="753.6" r="3.1" fill="#4A62A8" fill-opacity="0.4" stroke="#4A62A8" stroke-opacity="0.7" stroke-width="1.1"/>
<circle cx="1417.1" cy="761.5" r="3.1" fill="#4A62A8" fill-opacity="0.4" stroke="#4A62A8" stroke-opacity="0.7" stroke-width="1.1"/>
<circle cx="1356.4" cy="764.0" r="3.1" fill="#4A62A8" fill-opacity="0.4" stroke="#4A62A8" stroke-opacity="0.7" stroke-width="1.1"/>
<circle cx="1356.0" cy="792.8" r="3.1" fill="#4A62A8" fill-opacity="0.4" stroke="#4A62A8" stroke-opacity="0.7" stroke-width="1.1"/>
<circle cx="1387.7" cy="792.8" r="3.1" fill="#4A62A8" fill-opacity="0.4" stroke="#4A62A8" stroke-opacity="0.7" stroke-width="1.1"/>
<circle cx="1329.9" cy="798.7" r="3.1" fill="#4A62A8" fill-opacity="0.4" stroke="#4A62A8" stroke-opacity="0.7" stroke-width="1.1"/>
<circle cx="1330.9" cy="812.4" r="3.1" fill="#4A62A8" fill-opacity="0.4" stroke="#4A62A8" stroke-opacity="0.7" stroke-width="1.1"/>
<circle cx="1329.3" cy="824.7" r="3.1" fill="#4A62A8" fill-opacity="0.4" stroke="#4A62A8" stroke-opacity="0.7" stroke-width="1.1"/>
<circle cx="1331.9" cy="837.8" r="3.1" fill="#4A62A8" fill-opacity="0.4" stroke="#4A62A8" stroke-opacity="0.7" stroke-width="1.1"/>
<line x1="1151.1" y1="821.3" x2="1416.8" y2="778.9" stroke="#D63B2F" stroke-width="3.2"/>
<line x1="1151.1" y1="842.4" x2="1416.8" y2="793.6" stroke="#E8922F" stroke-width="3.2"/>
<line x1="1151.1" y1="844.7" x2="1416.8" y2="748" stroke="#5BB6E2" stroke-width="3.2"/>
<line x1="1151.1" y1="873.7" x2="1416.8" y2="736.7" stroke="#1D3A8C" stroke-width="3.2"/>
<text x="1292.1" y="889.8" font-size="13.8" text-anchor="start" fill="#CF5D55" textLength="122.0" lengthAdjust="spacingAndGlyphs"><tspan font-style="italic">r</tspan> = 0.33, <tspan font-style="italic">P</tspan> = 0.016</text>
<text x="1292.1" y="907.5" font-size="13.8" text-anchor="start" fill="#E6A460" textLength="125.2" lengthAdjust="spacingAndGlyphs"><tspan font-style="italic">r</tspan> = 0.30, <tspan font-style="italic">P</tspan> = 0.034</text>
<text x="1292.1" y="925.9" font-size="13.8" text-anchor="start" fill="#6DBCE4" textLength="120.4" lengthAdjust="spacingAndGlyphs"><tspan font-style="italic">r</tspan> = 0.61, <tspan font-style="italic">P</tspan> &lt; 0.001</text>
<text x="1292.1" y="944.4" font-size="13.8" text-anchor="start" fill="#42568E" textLength="121.2" lengthAdjust="spacingAndGlyphs"><tspan font-style="italic">r</tspan> = 0.75, <tspan font-style="italic">P</tspan> &lt; 0.001</text>
<rect x="1138" y="658.4" width="292.5" height="28.0" fill="#fff" stroke="#555" stroke-width="1.2"/>
<text x="1284.2" y="677.7" font-size="18" text-anchor="middle" fill="#1a1a1a">Park</text>
<line x1="1138" y1="686.4" x2="1138" y2="964.1" stroke="#555" stroke-width="1.3"/>
<line x1="1137.4" y1="964.1" x2="1430.5" y2="964.1" stroke="#555" stroke-width="1.3"/>
<line x1="1132.5" y1="719.6" x2="1138" y2="719.6" stroke="#555" stroke-width="1.2"/>
<text x="1123.5" y="724.9" font-size="15" text-anchor="end" fill="#1a1a1a">2</text>
<line x1="1132.5" y1="772.3" x2="1138" y2="772.3" stroke="#555" stroke-width="1.2"/>
<text x="1123.5" y="777.6" font-size="15" text-anchor="end" fill="#1a1a1a">1</text>
<line x1="1132.5" y1="825" x2="1138" y2="825" stroke="#555" stroke-width="1.2"/>
<text x="1123.5" y="830.3" font-size="15" text-anchor="end" fill="#1a1a1a">0</text>
<line x1="1132.5" y1="877.7" x2="1138" y2="877.7" stroke="#555" stroke-width="1.2"/>
<text x="1123.5" y="883.0" font-size="15" text-anchor="end" fill="#1a1a1a">–1</text>
<line x1="1132.5" y1="930.4" x2="1138" y2="930.4" stroke="#555" stroke-width="1.2"/>
<text x="1123.5" y="935.7" font-size="15" text-anchor="end" fill="#1a1a1a">–2</text>
<line x1="1222.3" y1="964.1" x2="1222.3" y2="969.6" stroke="#555" stroke-width="1.2"/>
<text x="1222.3" y="991.6" font-size="15" text-anchor="middle" fill="#1a1a1a" textLength="27.0" lengthAdjust="spacingAndGlyphs">500</text>
<line x1="1330.3" y1="964.1" x2="1330.3" y2="969.6" stroke="#555" stroke-width="1.2"/>
<text x="1330.3" y="991.6" font-size="15" text-anchor="middle" fill="#1a1a1a" textLength="40.5" lengthAdjust="spacingAndGlyphs">1,000</text>
<polygon points="155.4,1274.7 166.4,1271.1 177.5,1267.5 188.5,1263.8 199.5,1260.2 210.5,1256.5 221.6,1252.9 232.6,1249.2 243.6,1245.5 254.7,1241.8 265.7,1238.0 276.7,1234.2 287.8,1230.4 298.8,1226.4 309.8,1222.5 320.8,1218.4 331.9,1214.2 342.9,1209.8 353.9,1205.3 365.0,1200.2 376.0,1194.5 387.0,1188.6 398.0,1182.4 409.1,1176.1 420.1,1169.7 420.1,1198.7 409.1,1201.4 398.0,1204.1 387.0,1207.0 376.0,1210.0 365.0,1213.4 353.9,1217.4 342.9,1221.9 331.9,1226.6 320.8,1231.4 309.8,1236.4 298.8,1241.4 287.8,1246.5 276.7,1251.7 265.7,1257.0 254.7,1262.3 243.6,1267.6 232.6,1272.9 221.6,1278.3 210.5,1283.7 199.5,1289.0 188.5,1294.4 177.5,1299.9 166.4,1305.3 155.4,1310.7" fill="#8c8c8c" opacity="0.17"/>
<polygon points="155.4,1207.4 166.4,1207.9 177.5,1208.4 188.5,1209.0 199.5,1209.5 210.5,1210.0 221.6,1210.4 232.6,1210.9 243.6,1211.4 254.7,1211.8 265.7,1212.2 276.7,1212.5 287.8,1212.9 298.8,1213.1 309.8,1213.2 320.8,1213.2 331.9,1213.1 342.9,1212.7 353.9,1212.1 365.0,1210.7 376.0,1208.8 387.0,1206.4 398.0,1203.8 409.1,1201.2 420.1,1198.4 420.1,1230.4 409.1,1228.9 398.0,1227.5 387.0,1226.1 376.0,1225.0 365.0,1224.3 353.9,1224.2 342.9,1224.8 331.9,1225.7 320.8,1226.8 309.8,1228.1 298.8,1229.5 287.8,1230.9 276.7,1232.5 265.7,1234.1 254.7,1235.8 243.6,1237.4 232.6,1239.1 221.6,1240.9 210.5,1242.6 199.5,1244.3 188.5,1246.1 177.5,1247.9 166.4,1249.6 155.4,1251.4" fill="#8c8c8c" opacity="0.17"/>
<polygon points="155.4,1184.3 166.4,1185.7 177.5,1187.0 188.5,1188.3 199.5,1189.7 210.5,1191.0 221.6,1192.3 232.6,1193.6 243.6,1194.9 254.7,1196.1 265.7,1197.3 276.7,1198.5 287.8,1199.6 298.8,1200.7 309.8,1201.7 320.8,1202.5 331.9,1203.2 342.9,1203.8 353.9,1204.1 365.0,1203.7 376.0,1202.7 387.0,1201.3 398.0,1199.6 409.1,1197.9 420.1,1196.1 420.1,1228.1 409.1,1225.6 398.0,1223.3 387.0,1221.0 376.0,1218.9 365.0,1217.3 353.9,1216.2 342.9,1215.9 331.9,1215.8 320.8,1215.8 309.8,1216.0 298.8,1216.3 287.8,1216.8 276.7,1217.2 265.7,1217.8 254.7,1218.3 243.6,1218.9 232.6,1219.6 221.6,1220.2 210.5,1220.9 199.5,1221.5 188.5,1222.2 177.5,1222.9 166.4,1223.6 155.4,1224.3" fill="#8c8c8c" opacity="0.17"/>
<polygon points="155.4,1136.0 166.4,1140.0 177.5,1144.0 188.5,1148.0 199.5,1152.0 210.5,1156.0 221.6,1160.0 232.6,1164.0 243.6,1167.9 254.7,1171.8 265.7,1175.7 276.7,1179.5 287.8,1183.3 298.8,1187.0 309.8,1190.7 320.8,1194.2 331.9,1197.7 342.9,1201.0 353.9,1204.0 365.0,1205.8 376.0,1206.6 387.0,1207.0 398.0,1207.1 409.1,1207.2 420.1,1207.2 420.1,1250.4 409.1,1244.2 398.0,1238.0 387.0,1231.9 376.0,1226.1 365.0,1220.7 353.9,1216.2 342.9,1213.0 331.9,1210.1 320.8,1207.3 309.8,1204.6 298.8,1202.0 287.8,1199.5 276.7,1197.0 265.7,1194.7 254.7,1192.3 243.6,1190.0 232.6,1187.7 221.6,1185.4 210.5,1183.1 199.5,1180.9 188.5,1178.7 177.5,1176.4 166.4,1174.2 155.4,1172.0" fill="#8c8c8c" opacity="0.17"/>
<circle cx="248.3" cy="1199.8" r="3.1" fill="#E0504A" fill-opacity="0.4" stroke="#E0504A" stroke-opacity="0.7" stroke-width="1.1"/>
<circle cx="219.9" cy="1222.3" r="3.1" fill="#E0504A" fill-opacity="0.4" stroke="#E0504A" stroke-opacity="0.7" stroke-width="1.1"/>
<circle cx="200.3" cy="1242.3" r="3.1" fill="#E0504A" fill-opacity="0.4" stroke="#E0504A" stroke-opacity="0.7" stroke-width="1.1"/>
<circle cx="249.3" cy="1234.1" r="3.1" fill="#E0504A" fill-opacity="0.4" stroke="#E0504A" stroke-opacity="0.7" stroke-width="1.1"/>
<circle cx="199.2" cy="1267.8" r="3.1" fill="#E0504A" fill-opacity="0.4" stroke="#E0504A" stroke-opacity="0.7" stroke-width="1.1"/>
<circle cx="190.9" cy="1280.5" r="3.1" fill="#E0504A" fill-opacity="0.4" stroke="#E0504A" stroke-opacity="0.7" stroke-width="1.1"/>
<circle cx="180.2" cy="1296.2" r="3.1" fill="#E0504A" fill-opacity="0.4" stroke="#E0504A" stroke-opacity="0.7" stroke-width="1.1"/>
<circle cx="192.9" cy="1304.4" r="3.1" fill="#E0504A" fill-opacity="0.4" stroke="#E0504A" stroke-opacity="0.7" stroke-width="1.1"/>
<circle cx="220.7" cy="1294.8" r="3.1" fill="#E0504A" fill-opacity="0.4" stroke="#E0504A" stroke-opacity="0.7" stroke-width="1.1"/>
<circle cx="252.0" cy="1284.0" r="3.1" fill="#E0504A" fill-opacity="0.4" stroke="#E0504A" stroke-opacity="0.7" stroke-width="1.1"/>
<circle cx="160.4" cy="1311.4" r="3.1" fill="#E0504A" fill-opacity="0.4" stroke="#E0504A" stroke-opacity="0.7" stroke-width="1.1"/>
<circle cx="154.1" cy="1316.3" r="3.1" fill="#E0504A" fill-opacity="0.4" stroke="#E0504A" stroke-opacity="0.7" stroke-width="1.1"/>
<circle cx="184.1" cy="1322.0" r="3.1" fill="#E0504A" fill-opacity="0.4" stroke="#E0504A" stroke-opacity="0.7" stroke-width="1.1"/>
<circle cx="177.6" cy="1332.0" r="3.1" fill="#E0504A" fill-opacity="0.4" stroke="#E0504A" stroke-opacity="0.7" stroke-width="1.1"/>
<circle cx="217.0" cy="1328.5" r="3.1" fill="#E0504A" fill-opacity="0.4" stroke="#E0504A" stroke-opacity="0.7" stroke-width="1.1"/>
<circle cx="285.9" cy="1211.0" r="3.1" fill="#E0504A" fill-opacity="0.4" stroke="#E0504A" stroke-opacity="0.7" stroke-width="1.1"/>
<circle cx="289.2" cy="1186.9" r="3.1" fill="#E0504A" fill-opacity="0.4" stroke="#E0504A" stroke-opacity="0.7" stroke-width="1.1"/>
<circle cx="340.8" cy="1165.9" r="3.1" fill="#E0504A" fill-opacity="0.4" stroke="#E0504A" stroke-opacity="0.7" stroke-width="1.1"/>
<circle cx="337.5" cy="1185.1" r="3.1" fill="#E0504A" fill-opacity="0.4" stroke="#E0504A" stroke-opacity="0.7" stroke-width="1.1"/>
<circle cx="348.2" cy="1194.7" r="3.1" fill="#E0504A" fill-opacity="0.4" stroke="#E0504A" stroke-opacity="0.7" stroke-width="1.1"/>
<circle cx="360.0" cy="1191.4" r="3.1" fill="#E0504A" fill-opacity="0.4" stroke="#E0504A" stroke-opacity="0.7" stroke-width="1.1"/>
<circle cx="332.6" cy="1196.9" r="3.1" fill="#E0504A" fill-opacity="0.4" stroke="#E0504A" stroke-opacity="0.7" stroke-width="1.1"/>
<circle cx="331.0" cy="1198.6" r="3.1" fill="#E0504A" fill-opacity="0.4" stroke="#E0504A" stroke-opacity="0.7" stroke-width="1.1"/>
<circle cx="398.2" cy="1176.1" r="3.1" fill="#E0504A" fill-opacity="0.4" stroke="#E0504A" stroke-opacity="0.7" stroke-width="1.1"/>
<circle cx="392.3" cy="1184.5" r="3.1" fill="#E0504A" fill-opacity="0.4" stroke="#E0504A" stroke-opacity="0.7" stroke-width="1.1"/>
<circle cx="395.6" cy="1188.1" r="3.1" fill="#E0504A" fill-opacity="0.4" stroke="#E0504A" stroke-opacity="0.7" stroke-width="1.1"/>
<circle cx="392.7" cy="1193.4" r="3.1" fill="#E0504A" fill-opacity="0.4" stroke="#E0504A" stroke-opacity="0.7" stroke-width="1.1"/>
<circle cx="343.7" cy="1224.3" r="3.1" fill="#E0504A" fill-opacity="0.4" stroke="#E0504A" stroke-opacity="0.7" stroke-width="1.1"/>
<circle cx="380.9" cy="1232.5" r="3.1" fill="#E0504A" fill-opacity="0.4" stroke="#E0504A" stroke-opacity="0.7" stroke-width="1.1"/>
<circle cx="419.7" cy="1223.7" r="3.1" fill="#E0504A" fill-opacity="0.4" stroke="#E0504A" stroke-opacity="0.7" stroke-width="1.1"/>
<circle cx="288.5" cy="1280.5" r="3.1" fill="#E0504A" fill-opacity="0.4" stroke="#E0504A" stroke-opacity="0.7" stroke-width="1.1"/>
<circle cx="290.5" cy="1187.1" r="3.1" fill="#E0504A" fill-opacity="0.4" stroke="#E0504A" stroke-opacity="0.7" stroke-width="1.1"/>
<circle cx="229.7" cy="1179.7" r="3.1" fill="#EFA558" fill-opacity="0.4" stroke="#EFA558" stroke-opacity="0.7" stroke-width="1.1"/>
<circle cx="200.3" cy="1192.4" r="3.1" fill="#EFA558" fill-opacity="0.4" stroke="#EFA558" stroke-opacity="0.7" stroke-width="1.1"/>
<circle cx="154.1" cy="1212.9" r="3.1" fill="#EFA558" fill-opacity="0.4" stroke="#EFA558" stroke-opacity="0.7" stroke-width="1.1"/>
<circle cx="251.6" cy="1216.9" r="3.1" fill="#EFA558" fill-opacity="0.4" stroke="#EFA558" stroke-opacity="0.7" stroke-width="1.1"/>
<circle cx="192.5" cy="1227.6" r="3.1" fill="#EFA558" fill-opacity="0.4" stroke="#EFA558" stroke-opacity="0.7" stroke-width="1.1"/>
<circle cx="198.4" cy="1226.6" r="3.1" fill="#EFA558" fill-opacity="0.4" stroke="#EFA558" stroke-opacity="0.7" stroke-width="1.1"/>
<circle cx="220.3" cy="1230.2" r="3.1" fill="#EFA558" fill-opacity="0.4" stroke="#EFA558" stroke-opacity="0.7" stroke-width="1.1"/>
<circle cx="160.0" cy="1247.2" r="3.1" fill="#EFA558" fill-opacity="0.4" stroke="#EFA558" stroke-opacity="0.7" stroke-width="1.1"/>
<circle cx="192.5" cy="1242.9" r="3.1" fill="#EFA558" fill-opacity="0.4" stroke="#EFA558" stroke-opacity="0.7" stroke-width="1.1"/>
<circle cx="183.7" cy="1266.4" r="3.1" fill="#EFA558" fill-opacity="0.4" stroke="#EFA558" stroke-opacity="0.7" stroke-width="1.1"/>
<circle cx="180.2" cy="1275.6" r="3.1" fill="#EFA558" fill-opacity="0.4" stroke="#EFA558" stroke-opacity="0.7" stroke-width="1.1"/>
<circle cx="220.7" cy="1276.6" r="3.1" fill="#EFA558" fill-opacity="0.4" stroke="#EFA558" stroke-opacity="0.7" stroke-width="1.1"/>
<circle cx="216.4" cy="1292.8" r="3.1" fill="#EFA558" fill-opacity="0.4" stroke="#EFA558" stroke-opacity="0.7" stroke-width="1.1"/>
<circle cx="275.1" cy="1223.7" r="3.1" fill="#EFA558" fill-opacity="0.4" stroke="#EFA558" stroke-opacity="0.7" stroke-width="1.1"/>
<circle cx="285.9" cy="1205.1" r="3.1" fill="#EFA558" fill-opacity="0.4" stroke="#EFA558" stroke-opacity="0.7" stroke-width="1.1"/>
<circle cx="289.2" cy="1201.6" r="3.1" fill="#EFA558" fill-opacity="0.4" stroke="#EFA558" stroke-opacity="0.7" stroke-width="1.1"/>
<circle cx="288.8" cy="1280.5" r="3.1" fill="#EFA558" fill-opacity="0.4" stroke="#EFA558" stroke-opacity="0.7" stroke-width="1.1"/>
<circle cx="304.6" cy="1079.4" r="3.1" fill="#EFA558" fill-opacity="0.4" stroke="#EFA558" stroke-opacity="0.7" stroke-width="1.1"/>
<circle cx="329.1" cy="1079.8" r="3.1" fill="#EFA558" fill-opacity="0.4" stroke="#EFA558" stroke-opacity="0.7" stroke-width="1.1"/>
<circle cx="337.5" cy="1169.9" r="3.1" fill="#EFA558" fill-opacity="0.4" stroke="#EFA558" stroke-opacity="0.7" stroke-width="1.1"/>
<circle cx="343.2" cy="1171.8" r="3.1" fill="#EFA558" fill-opacity="0.4" stroke="#EFA558" stroke-opacity="0.7" stroke-width="1.1"/>
<circle cx="360.0" cy="1193.0" r="3.1" fill="#EFA558" fill-opacity="0.4" stroke="#EFA558" stroke-opacity="0.7" stroke-width="1.1"/>
<circle cx="340.4" cy="1197.3" r="3.1" fill="#EFA558" fill-opacity="0.4" stroke="#EFA558" stroke-opacity="0.7" stroke-width="1.1"/>
<circle cx="347.7" cy="1201.2" r="3.1" fill="#EFA558" fill-opacity="0.4" stroke="#EFA558" stroke-opacity="0.7" stroke-width="1.1"/>
<circle cx="318.3" cy="1204.1" r="3.1" fill="#EFA558" fill-opacity="0.4" stroke="#EFA558" stroke-opacity="0.7" stroke-width="1.1"/>
<circle cx="290.5" cy="1201.8" r="3.1" fill="#EFA558" fill-opacity="0.4" stroke="#EFA558" stroke-opacity="0.7" stroke-width="1.1"/>
<circle cx="381.5" cy="1205.1" r="3.1" fill="#EFA558" fill-opacity="0.4" stroke="#EFA558" stroke-opacity="0.7" stroke-width="1.1"/>
<circle cx="398.2" cy="1203.2" r="3.1" fill="#EFA558" fill-opacity="0.4" stroke="#EFA558" stroke-opacity="0.7" stroke-width="1.1"/>
<circle cx="380.6" cy="1221.8" r="3.1" fill="#EFA558" fill-opacity="0.4" stroke="#EFA558" stroke-opacity="0.7" stroke-width="1.1"/>
<circle cx="383.9" cy="1228.6" r="3.1" fill="#EFA558" fill-opacity="0.4" stroke="#EFA558" stroke-opacity="0.7" stroke-width="1.1"/>
<circle cx="333.0" cy="1242.9" r="3.1" fill="#EFA558" fill-opacity="0.4" stroke="#EFA558" stroke-opacity="0.7" stroke-width="1.1"/>
<circle cx="363.3" cy="1264.4" r="3.1" fill="#EFA558" fill-opacity="0.4" stroke="#EFA558" stroke-opacity="0.7" stroke-width="1.1"/>
<circle cx="368.2" cy="1264.4" r="3.1" fill="#EFA558" fill-opacity="0.4" stroke="#EFA558" stroke-opacity="0.7" stroke-width="1.1"/>
<circle cx="402.1" cy="1250.1" r="3.1" fill="#EFA558" fill-opacity="0.4" stroke="#EFA558" stroke-opacity="0.7" stroke-width="1.1"/>
<circle cx="398.6" cy="1273.6" r="3.1" fill="#EFA558" fill-opacity="0.4" stroke="#EFA558" stroke-opacity="0.7" stroke-width="1.1"/>
<circle cx="403.5" cy="1272.3" r="3.1" fill="#EFA558" fill-opacity="0.4" stroke="#EFA558" stroke-opacity="0.7" stroke-width="1.1"/>
<circle cx="419.7" cy="1284.8" r="3.1" fill="#EFA558" fill-opacity="0.4" stroke="#EFA558" stroke-opacity="0.7" stroke-width="1.1"/>
<circle cx="200.7" cy="1157.5" r="3.1" fill="#72C6EC" fill-opacity="0.4" stroke="#72C6EC" stroke-opacity="0.7" stroke-width="1.1"/>
<circle cx="190.9" cy="1169.3" r="3.1" fill="#72C6EC" fill-opacity="0.4" stroke="#72C6EC" stroke-opacity="0.7" stroke-width="1.1"/>
<circle cx="220.3" cy="1169.5" r="3.1" fill="#72C6EC" fill-opacity="0.4" stroke="#72C6EC" stroke-opacity="0.7" stroke-width="1.1"/>
<circle cx="285.3" cy="1173.2" r="3.1" fill="#72C6EC" fill-opacity="0.4" stroke="#72C6EC" stroke-opacity="0.7" stroke-width="1.1"/>
<circle cx="289.2" cy="1143.4" r="3.1" fill="#72C6EC" fill-opacity="0.4" stroke="#72C6EC" stroke-opacity="0.7" stroke-width="1.1"/>
<circle cx="154.1" cy="1198.3" r="3.1" fill="#72C6EC" fill-opacity="0.4" stroke="#72C6EC" stroke-opacity="0.7" stroke-width="1.1"/>
<circle cx="179.8" cy="1201.2" r="3.1" fill="#72C6EC" fill-opacity="0.4" stroke="#72C6EC" stroke-opacity="0.7" stroke-width="1.1"/>
<circle cx="160.0" cy="1216.9" r="3.1" fill="#72C6EC" fill-opacity="0.4" stroke="#72C6EC" stroke-opacity="0.7" stroke-width="1.1"/>
<circle cx="192.5" cy="1214.9" r="3.1" fill="#72C6EC" fill-opacity="0.4" stroke="#72C6EC" stroke-opacity="0.7" stroke-width="1.1"/>
<circle cx="216.4" cy="1228.6" r="3.1" fill="#72C6EC" fill-opacity="0.4" stroke="#72C6EC" stroke-opacity="0.7" stroke-width="1.1"/>
<circle cx="220.3" cy="1244.3" r="3.1" fill="#72C6EC" fill-opacity="0.4" stroke="#72C6EC" stroke-opacity="0.7" stroke-width="1.1"/>
<circle cx="198.4" cy="1245.8" r="3.1" fill="#72C6EC" fill-opacity="0.4" stroke="#72C6EC" stroke-opacity="0.7" stroke-width="1.1"/>
<circle cx="183.7" cy="1252.1" r="3.1" fill="#72C6EC" fill-opacity="0.4" stroke="#72C6EC" stroke-opacity="0.7" stroke-width="1.1"/>
<circle cx="177.6" cy="1260.5" r="3.1" fill="#72C6EC" fill-opacity="0.4" stroke="#72C6EC" stroke-opacity="0.7" stroke-width="1.1"/>
<circle cx="275.1" cy="1228.6" r="3.1" fill="#72C6EC" fill-opacity="0.4" stroke="#72C6EC" stroke-opacity="0.7" stroke-width="1.1"/>
<circle cx="248.7" cy="1207.1" r="3.1" fill="#72C6EC" fill-opacity="0.4" stroke="#72C6EC" stroke-opacity="0.7" stroke-width="1.1"/>
<circle cx="289.2" cy="1244.3" r="3.1" fill="#72C6EC" fill-opacity="0.4" stroke="#72C6EC" stroke-opacity="0.7" stroke-width="1.1"/>
<circle cx="290.5" cy="1143.4" r="3.1" fill="#72C6EC" fill-opacity="0.4" stroke="#72C6EC" stroke-opacity="0.7" stroke-width="1.1"/>
<circle cx="343.7" cy="1144.4" r="3.1" fill="#72C6EC" fill-opacity="0.4" stroke="#72C6EC" stroke-opacity="0.7" stroke-width="1.1"/>
<circle cx="368.2" cy="1152.8" r="3.1" fill="#72C6EC" fill-opacity="0.4" stroke="#72C6EC" stroke-opacity="0.7" stroke-width="1.1"/>
<circle cx="348.2" cy="1176.3" r="3.1" fill="#72C6EC" fill-opacity="0.4" stroke="#72C6EC" stroke-opacity="0.7" stroke-width="1.1"/>
<circle cx="393.7" cy="1141.5" r="3.1" fill="#72C6EC" fill-opacity="0.4" stroke="#72C6EC" stroke-opacity="0.7" stroke-width="1.1"/>
<circle cx="286.6" cy="1173.4" r="3.1" fill="#72C6EC" fill-opacity="0.4" stroke="#72C6EC" stroke-opacity="0.7" stroke-width="1.1"/>
<circle cx="294.2" cy="1184.2" r="3.1" fill="#72C6EC" fill-opacity="0.4" stroke="#72C6EC" stroke-opacity="0.7" stroke-width="1.1"/>
<circle cx="304.6" cy="1185.5" r="3.1" fill="#72C6EC" fill-opacity="0.4" stroke="#72C6EC" stroke-opacity="0.7" stroke-width="1.1"/>
<circle cx="359.4" cy="1198.6" r="3.1" fill="#72C6EC" fill-opacity="0.4" stroke="#72C6EC" stroke-opacity="0.7" stroke-width="1.1"/>
<circle cx="330.0" cy="1227.2" r="3.1" fill="#72C6EC" fill-opacity="0.4" stroke="#72C6EC" stroke-opacity="0.7" stroke-width="1.1"/>
<circle cx="337.5" cy="1228.6" r="3.1" fill="#72C6EC" fill-opacity="0.4" stroke="#72C6EC" stroke-opacity="0.7" stroke-width="1.1"/>
<circle cx="383.9" cy="1239.4" r="3.1" fill="#72C6EC" fill-opacity="0.4" stroke="#72C6EC" stroke-opacity="0.7" stroke-width="1.1"/>
<circle cx="391.7" cy="1240.0" r="3.1" fill="#72C6EC" fill-opacity="0.4" stroke="#72C6EC" stroke-opacity="0.7" stroke-width="1.1"/>
<circle cx="403.5" cy="1244.9" r="3.1" fill="#72C6EC" fill-opacity="0.4" stroke="#72C6EC" stroke-opacity="0.7" stroke-width="1.1"/>
<circle cx="419.7" cy="1268.2" r="3.1" fill="#72C6EC" fill-opacity="0.4" stroke="#72C6EC" stroke-opacity="0.7" stroke-width="1.1"/>
<circle cx="288.5" cy="1244.9" r="3.1" fill="#72C6EC" fill-opacity="0.4" stroke="#72C6EC" stroke-opacity="0.7" stroke-width="1.1"/>
<circle cx="381.5" cy="1228.2" r="3.1" fill="#72C6EC" fill-opacity="0.4" stroke="#72C6EC" stroke-opacity="0.7" stroke-width="1.1"/>
<circle cx="200.7" cy="1103.7" r="3.1" fill="#4A62A8" fill-opacity="0.4" stroke="#4A62A8" stroke-opacity="0.7" stroke-width="1.1"/>
<circle cx="220.3" cy="1146.4" r="3.1" fill="#4A62A8" fill-opacity="0.4" stroke="#4A62A8" stroke-opacity="0.7" stroke-width="1.1"/>
<circle cx="252.0" cy="1143.0" r="3.1" fill="#4A62A8" fill-opacity="0.4" stroke="#4A62A8" stroke-opacity="0.7" stroke-width="1.1"/>
<circle cx="154.3" cy="1153.6" r="3.1" fill="#4A62A8" fill-opacity="0.4" stroke="#4A62A8" stroke-opacity="0.7" stroke-width="1.1"/>
<circle cx="160.0" cy="1166.9" r="3.1" fill="#4A62A8" fill-opacity="0.4" stroke="#4A62A8" stroke-opacity="0.7" stroke-width="1.1"/>
<circle cx="183.5" cy="1170.5" r="3.1" fill="#4A62A8" fill-opacity="0.4" stroke="#4A62A8" stroke-opacity="0.7" stroke-width="1.1"/>
<circle cx="190.9" cy="1175.7" r="3.1" fill="#4A62A8" fill-opacity="0.4" stroke="#4A62A8" stroke-opacity="0.7" stroke-width="1.1"/>
<circle cx="192.9" cy="1174.8" r="3.1" fill="#4A62A8" fill-opacity="0.4" stroke="#4A62A8" stroke-opacity="0.7" stroke-width="1.1"/>
<circle cx="198.4" cy="1177.3" r="3.1" fill="#4A62A8" fill-opacity="0.4" stroke="#4A62A8" stroke-opacity="0.7" stroke-width="1.1"/>
<circle cx="229.7" cy="1170.5" r="3.1" fill="#4A62A8" fill-opacity="0.4" stroke="#4A62A8" stroke-opacity="0.7" stroke-width="1.1"/>
<circle cx="275.1" cy="1170.5" r="3.1" fill="#4A62A8" fill-opacity="0.4" stroke="#4A62A8" stroke-opacity="0.7" stroke-width="1.1"/>
<circle cx="285.3" cy="1154.8" r="3.1" fill="#4A62A8" fill-opacity="0.4" stroke="#4A62A8" stroke-opacity="0.7" stroke-width="1.1"/>
<circle cx="289.2" cy="1134.6" r="3.1" fill="#4A62A8" fill-opacity="0.4" stroke="#4A62A8" stroke-opacity="0.7" stroke-width="1.1"/>
<circle cx="179.8" cy="1187.5" r="3.1" fill="#4A62A8" fill-opacity="0.4" stroke="#4A62A8" stroke-opacity="0.7" stroke-width="1.1"/>
<circle cx="220.3" cy="1196.9" r="3.1" fill="#4A62A8" fill-opacity="0.4" stroke="#4A62A8" stroke-opacity="0.7" stroke-width="1.1"/>
<circle cx="216.4" cy="1202.6" r="3.1" fill="#4A62A8" fill-opacity="0.4" stroke="#4A62A8" stroke-opacity="0.7" stroke-width="1.1"/>
<circle cx="177.2" cy="1207.1" r="3.1" fill="#4A62A8" fill-opacity="0.4" stroke="#4A62A8" stroke-opacity="0.7" stroke-width="1.1"/>
<circle cx="230.1" cy="1207.1" r="3.1" fill="#4A62A8" fill-opacity="0.4" stroke="#4A62A8" stroke-opacity="0.7" stroke-width="1.1"/>
<circle cx="248.7" cy="1181.6" r="3.1" fill="#4A62A8" fill-opacity="0.4" stroke="#4A62A8" stroke-opacity="0.7" stroke-width="1.1"/>
<circle cx="248.3" cy="1212.4" r="3.1" fill="#4A62A8" fill-opacity="0.4" stroke="#4A62A8" stroke-opacity="0.7" stroke-width="1.1"/>
<circle cx="285.9" cy="1179.7" r="3.1" fill="#4A62A8" fill-opacity="0.4" stroke="#4A62A8" stroke-opacity="0.7" stroke-width="1.1"/>
<circle cx="362.9" cy="1122.5" r="3.1" fill="#4A62A8" fill-opacity="0.4" stroke="#4A62A8" stroke-opacity="0.7" stroke-width="1.1"/>
<circle cx="290.5" cy="1134.6" r="3.1" fill="#4A62A8" fill-opacity="0.4" stroke="#4A62A8" stroke-opacity="0.7" stroke-width="1.1"/>
<circle cx="286.6" cy="1154.8" r="3.1" fill="#4A62A8" fill-opacity="0.4" stroke="#4A62A8" stroke-opacity="0.7" stroke-width="1.1"/>
<circle cx="294.2" cy="1162.4" r="3.1" fill="#4A62A8" fill-opacity="0.4" stroke="#4A62A8" stroke-opacity="0.7" stroke-width="1.1"/>
<circle cx="348.1" cy="1159.1" r="3.1" fill="#4A62A8" fill-opacity="0.4" stroke="#4A62A8" stroke-opacity="0.7" stroke-width="1.1"/>
<circle cx="328.7" cy="1177.3" r="3.1" fill="#4A62A8" fill-opacity="0.4" stroke="#4A62A8" stroke-opacity="0.7" stroke-width="1.1"/>
<circle cx="305.0" cy="1180.6" r="3.1" fill="#4A62A8" fill-opacity="0.4" stroke="#4A62A8" stroke-opacity="0.7" stroke-width="1.1"/>
<circle cx="343.2" cy="1187.9" r="3.1" fill="#4A62A8" fill-opacity="0.4" stroke="#4A62A8" stroke-opacity="0.7" stroke-width="1.1"/>
<circle cx="318.3" cy="1194.7" r="3.1" fill="#4A62A8" fill-opacity="0.4" stroke="#4A62A8" stroke-opacity="0.7" stroke-width="1.1"/>
<circle cx="343.2" cy="1197.3" r="3.1" fill="#4A62A8" fill-opacity="0.4" stroke="#4A62A8" stroke-opacity="0.7" stroke-width="1.1"/>
<circle cx="368.2" cy="1195.3" r="3.1" fill="#4A62A8" fill-opacity="0.4" stroke="#4A62A8" stroke-opacity="0.7" stroke-width="1.1"/>
<circle cx="378.6" cy="1194.7" r="3.1" fill="#4A62A8" fill-opacity="0.4" stroke="#4A62A8" stroke-opacity="0.7" stroke-width="1.1"/>
<circle cx="393.7" cy="1207.1" r="3.1" fill="#4A62A8" fill-opacity="0.4" stroke="#4A62A8" stroke-opacity="0.7" stroke-width="1.1"/>
<circle cx="360.0" cy="1219.8" r="3.1" fill="#4A62A8" fill-opacity="0.4" stroke="#4A62A8" stroke-opacity="0.7" stroke-width="1.1"/>
<circle cx="380.9" cy="1234.5" r="3.1" fill="#4A62A8" fill-opacity="0.4" stroke="#4A62A8" stroke-opacity="0.7" stroke-width="1.1"/>
<circle cx="383.9" cy="1222.3" r="3.1" fill="#4A62A8" fill-opacity="0.4" stroke="#4A62A8" stroke-opacity="0.7" stroke-width="1.1"/>
<circle cx="395.0" cy="1229.6" r="3.1" fill="#4A62A8" fill-opacity="0.4" stroke="#4A62A8" stroke-opacity="0.7" stroke-width="1.1"/>
<circle cx="399.5" cy="1229.6" r="3.1" fill="#4A62A8" fill-opacity="0.4" stroke="#4A62A8" stroke-opacity="0.7" stroke-width="1.1"/>
<circle cx="403.5" cy="1240.4" r="3.1" fill="#4A62A8" fill-opacity="0.4" stroke="#4A62A8" stroke-opacity="0.7" stroke-width="1.1"/>
<circle cx="419.7" cy="1244.9" r="3.1" fill="#4A62A8" fill-opacity="0.4" stroke="#4A62A8" stroke-opacity="0.7" stroke-width="1.1"/>
<circle cx="383.9" cy="1250.1" r="3.1" fill="#4A62A8" fill-opacity="0.4" stroke="#4A62A8" stroke-opacity="0.7" stroke-width="1.1"/>
<circle cx="383.9" cy="1254.6" r="3.1" fill="#4A62A8" fill-opacity="0.4" stroke="#4A62A8" stroke-opacity="0.7" stroke-width="1.1"/>
<circle cx="380.9" cy="1259.0" r="3.1" fill="#4A62A8" fill-opacity="0.4" stroke="#4A62A8" stroke-opacity="0.7" stroke-width="1.1"/>
<circle cx="391.7" cy="1248.2" r="3.1" fill="#4A62A8" fill-opacity="0.4" stroke="#4A62A8" stroke-opacity="0.7" stroke-width="1.1"/>
<circle cx="395.2" cy="1257.6" r="3.1" fill="#4A62A8" fill-opacity="0.4" stroke="#4A62A8" stroke-opacity="0.7" stroke-width="1.1"/>
<circle cx="330.6" cy="1257.6" r="3.1" fill="#4A62A8" fill-opacity="0.4" stroke="#4A62A8" stroke-opacity="0.7" stroke-width="1.1"/>
<circle cx="286.6" cy="1179.7" r="3.1" fill="#4A62A8" fill-opacity="0.4" stroke="#4A62A8" stroke-opacity="0.7" stroke-width="1.1"/>
<line x1="155.4" y1="1292.7" x2="420.1" y2="1184.2" stroke="#D63B2F" stroke-width="3.2"/>
<line x1="155.4" y1="1229.4" x2="420.1" y2="1214.4" stroke="#E8922F" stroke-width="3.2"/>
<line x1="155.4" y1="1204.3" x2="420.1" y2="1212.1" stroke="#5BB6E2" stroke-width="3.2"/>
<line x1="155.4" y1="1154" x2="420.1" y2="1228.8" stroke="#1D3A8C" stroke-width="3.2"/>
<text x="297.3" y="1087.8" font-size="13.8" text-anchor="start" fill="#CF5D55" textLength="121.7" lengthAdjust="spacingAndGlyphs"><tspan font-style="italic">r</tspan> = 0.74, <tspan font-style="italic">P</tspan> &lt; 0.001</text>
<text x="297.3" y="1105.9" font-size="13.8" text-anchor="start" fill="#E6A460" textLength="102.1" lengthAdjust="spacingAndGlyphs"><tspan font-style="italic">r</tspan> = 0.1, <tspan font-style="italic">P</tspan> = 0.46</text>
<text x="297.3" y="1124.3" font-size="13.8" text-anchor="start" fill="#6DBCE4" textLength="132.9" lengthAdjust="spacingAndGlyphs"><tspan font-style="italic">r</tspan> = –0.063, <tspan font-style="italic">P</tspan> = 0.66</text>
<text x="297.3" y="1142.4" font-size="13.8" text-anchor="start" fill="#42568E" textLength="128.0" lengthAdjust="spacingAndGlyphs"><tspan font-style="italic">r</tspan> = –0.61, <tspan font-style="italic">P</tspan> &lt; 0.001</text>
<rect x="141.3" y="1038.3" width="292.1" height="28.5" fill="#fff" stroke="#555" stroke-width="1.2"/>
<text x="287.4" y="1057.6" font-size="18" text-anchor="middle" fill="#1a1a1a">Forest</text>
<line x1="141.3" y1="1066.8" x2="141.3" y2="1344.5" stroke="#555" stroke-width="1.3"/>
<line x1="140.70000000000002" y1="1344.5" x2="433.4" y2="1344.5" stroke="#555" stroke-width="1.3"/>
<line x1="135.8" y1="1074" x2="141.3" y2="1074" stroke="#555" stroke-width="1.2"/>
<text x="126.8" y="1079.3" font-size="15" text-anchor="end" fill="#1a1a1a">4</text>
<line x1="135.8" y1="1141.3" x2="141.3" y2="1141.3" stroke="#555" stroke-width="1.2"/>
<text x="126.8" y="1146.6" font-size="15" text-anchor="end" fill="#1a1a1a">2</text>
<line x1="135.8" y1="1208.9" x2="141.3" y2="1208.9" stroke="#555" stroke-width="1.2"/>
<text x="126.8" y="1214.2" font-size="15" text-anchor="end" fill="#1a1a1a">0</text>
<line x1="135.8" y1="1276.3" x2="141.3" y2="1276.3" stroke="#555" stroke-width="1.2"/>
<text x="126.8" y="1281.6" font-size="15" text-anchor="end" fill="#1a1a1a">–2</text>
<line x1="135.8" y1="1343.9" x2="141.3" y2="1343.9" stroke="#555" stroke-width="1.2"/>
<text x="126.8" y="1349.2" font-size="15" text-anchor="end" fill="#1a1a1a">–4</text>
<line x1="155.4" y1="1344.5" x2="155.4" y2="1350.0" stroke="#555" stroke-width="1.2"/>
<text x="155.4" y="1372.0" font-size="15" text-anchor="middle" fill="#1a1a1a" textLength="9.0" lengthAdjust="spacingAndGlyphs">5</text>
<line x1="228.8" y1="1344.5" x2="228.8" y2="1350.0" stroke="#555" stroke-width="1.2"/>
<text x="228.8" y="1372.0" font-size="15" text-anchor="middle" fill="#1a1a1a" textLength="9.0" lengthAdjust="spacingAndGlyphs">6</text>
<line x1="302.4" y1="1344.5" x2="302.4" y2="1350.0" stroke="#555" stroke-width="1.2"/>
<text x="302.4" y="1372.0" font-size="15" text-anchor="middle" fill="#1a1a1a" textLength="9.0" lengthAdjust="spacingAndGlyphs">7</text>
<line x1="375.8" y1="1344.5" x2="375.8" y2="1350.0" stroke="#555" stroke-width="1.2"/>
<text x="375.8" y="1372.0" font-size="15" text-anchor="middle" fill="#1a1a1a" textLength="9.0" lengthAdjust="spacingAndGlyphs">8</text>
<polygon points="486.9,1215.0 498.0,1215.0 509.0,1214.9 520.1,1214.8 531.1,1214.7 542.2,1214.6 553.2,1214.4 564.3,1214.2 575.3,1213.9 586.4,1213.5 597.4,1213.0 608.5,1212.4 619.5,1211.4 630.6,1210.2 641.7,1208.6 652.7,1206.4 663.8,1203.7 674.8,1200.6 685.9,1197.2 696.9,1193.6 708.0,1189.9 719.0,1186.1 730.1,1182.3 741.1,1178.4 752.2,1174.5 752.2,1223.9 741.1,1223.5 730.1,1223.1 719.0,1222.7 708.0,1222.4 696.9,1222.2 685.9,1222.1 674.8,1222.2 663.8,1222.5 652.7,1223.3 641.7,1224.6 630.6,1226.5 619.5,1228.8 608.5,1231.3 597.4,1234.1 586.4,1237.1 575.3,1240.2 564.3,1243.4 553.2,1246.7 542.2,1250.0 531.1,1253.4 520.1,1256.7 509.0,1260.1 498.0,1263.6 486.9,1267.0" fill="#8c8c8c" opacity="0.17"/>
<polygon points="486.9,1162.0 498.0,1165.5 509.0,1169.0 520.1,1172.5 531.1,1176.0 542.2,1179.5 553.2,1182.9 564.3,1186.2 575.3,1189.5 586.4,1192.7 597.4,1195.8 608.5,1198.7 619.5,1201.4 630.6,1203.6 641.7,1205.5 652.7,1206.9 663.8,1207.8 674.8,1208.4 685.9,1208.8 696.9,1208.9 708.0,1209.0 719.0,1209.0 730.1,1208.9 741.1,1208.8 752.2,1208.6 752.2,1252.6 741.1,1249.0 730.1,1245.5 719.0,1242.0 708.0,1238.5 696.9,1235.2 685.9,1231.9 674.8,1228.9 663.8,1226.0 652.7,1223.6 641.7,1221.5 630.6,1220.0 619.5,1218.8 608.5,1218.1 597.4,1217.5 586.4,1217.2 575.3,1217.0 564.3,1216.9 553.2,1216.8 542.2,1216.8 531.1,1216.9 520.1,1216.9 509.0,1217.0 498.0,1217.1 486.9,1217.2" fill="#8c8c8c" opacity="0.17"/>
<polygon points="486.9,1213.6 498.0,1216.0 509.0,1218.4 520.1,1220.8 531.1,1223.1 542.2,1225.4 553.2,1227.7 564.3,1229.9 575.3,1232.1 586.4,1234.2 597.4,1236.1 608.5,1237.9 619.5,1239.4 630.6,1240.7 641.7,1241.5 652.7,1242.0 663.8,1242.0 674.8,1241.8 685.9,1241.4 696.9,1240.8 708.0,1240.1 719.0,1239.3 730.1,1238.4 741.1,1237.5 752.2,1236.6 752.2,1276.6 741.1,1274.3 730.1,1271.9 719.0,1269.7 708.0,1267.5 696.9,1265.3 685.9,1263.3 674.8,1261.5 663.8,1259.8 652.7,1258.5 641.7,1257.5 630.6,1257.0 619.5,1256.8 608.5,1256.9 597.4,1257.2 586.4,1257.8 575.3,1258.4 564.3,1259.2 553.2,1260.0 542.2,1260.9 531.1,1261.8 520.1,1262.7 509.0,1263.6 498.0,1264.6 486.9,1265.6" fill="#8c8c8c" opacity="0.17"/>
<polygon points="486.9,1202.8 498.0,1206.2 509.0,1209.7 520.1,1213.1 531.1,1216.4 542.2,1219.8 553.2,1223.1 564.3,1226.4 575.3,1229.6 586.4,1232.7 597.4,1235.7 608.5,1238.5 619.5,1241.0 630.6,1243.1 641.7,1244.7 652.7,1246.0 663.8,1246.9 674.8,1247.6 685.9,1248.1 696.9,1248.4 708.0,1248.7 719.0,1248.8 730.1,1248.9 741.1,1249.0 752.2,1249.0 752.2,1285.0 741.1,1282.2 730.1,1279.4 719.0,1276.6 708.0,1273.9 696.9,1271.3 685.9,1268.8 674.8,1266.5 663.8,1264.3 652.7,1262.4 641.7,1260.8 630.6,1259.5 619.5,1258.8 608.5,1258.4 597.4,1258.4 586.4,1258.5 575.3,1258.8 564.3,1259.2 553.2,1259.6 542.2,1260.1 531.1,1260.6 520.1,1261.1 509.0,1261.6 498.0,1262.2 486.9,1262.8" fill="#8c8c8c" opacity="0.17"/>
<circle cx="613.4" cy="1079.2" r="3.1" fill="#E0504A" fill-opacity="0.4" stroke="#E0504A" stroke-opacity="0.7" stroke-width="1.1"/>
<circle cx="619.5" cy="1129.3" r="3.1" fill="#E0504A" fill-opacity="0.4" stroke="#E0504A" stroke-opacity="0.7" stroke-width="1.1"/>
<circle cx="522.0" cy="1157.7" r="3.1" fill="#E0504A" fill-opacity="0.4" stroke="#E0504A" stroke-opacity="0.7" stroke-width="1.1"/>
<circle cx="545.1" cy="1189.4" r="3.1" fill="#E0504A" fill-opacity="0.4" stroke="#E0504A" stroke-opacity="0.7" stroke-width="1.1"/>
<circle cx="587.5" cy="1187.5" r="3.1" fill="#E0504A" fill-opacity="0.4" stroke="#E0504A" stroke-opacity="0.7" stroke-width="1.1"/>
<circle cx="580.3" cy="1213.3" r="3.1" fill="#E0504A" fill-opacity="0.4" stroke="#E0504A" stroke-opacity="0.7" stroke-width="1.1"/>
<circle cx="535.7" cy="1215.9" r="3.1" fill="#E0504A" fill-opacity="0.4" stroke="#E0504A" stroke-opacity="0.7" stroke-width="1.1"/>
<circle cx="537.6" cy="1220.8" r="3.1" fill="#E0504A" fill-opacity="0.4" stroke="#E0504A" stroke-opacity="0.7" stroke-width="1.1"/>
<circle cx="500.4" cy="1224.1" r="3.1" fill="#E0504A" fill-opacity="0.4" stroke="#E0504A" stroke-opacity="0.7" stroke-width="1.1"/>
<circle cx="559.2" cy="1232.5" r="3.1" fill="#E0504A" fill-opacity="0.4" stroke="#E0504A" stroke-opacity="0.7" stroke-width="1.1"/>
<circle cx="572.5" cy="1225.7" r="3.1" fill="#E0504A" fill-opacity="0.4" stroke="#E0504A" stroke-opacity="0.7" stroke-width="1.1"/>
<circle cx="486.7" cy="1244.3" r="3.1" fill="#E0504A" fill-opacity="0.4" stroke="#E0504A" stroke-opacity="0.7" stroke-width="1.1"/>
<circle cx="492.6" cy="1258.6" r="3.1" fill="#E0504A" fill-opacity="0.4" stroke="#E0504A" stroke-opacity="0.7" stroke-width="1.1"/>
<circle cx="528.8" cy="1252.1" r="3.1" fill="#E0504A" fill-opacity="0.4" stroke="#E0504A" stroke-opacity="0.7" stroke-width="1.1"/>
<circle cx="537.0" cy="1253.1" r="3.1" fill="#E0504A" fill-opacity="0.4" stroke="#E0504A" stroke-opacity="0.7" stroke-width="1.1"/>
<circle cx="531.7" cy="1263.3" r="3.1" fill="#E0504A" fill-opacity="0.4" stroke="#E0504A" stroke-opacity="0.7" stroke-width="1.1"/>
<circle cx="555.2" cy="1265.4" r="3.1" fill="#E0504A" fill-opacity="0.4" stroke="#E0504A" stroke-opacity="0.7" stroke-width="1.1"/>
<circle cx="585.6" cy="1274.6" r="3.1" fill="#E0504A" fill-opacity="0.4" stroke="#E0504A" stroke-opacity="0.7" stroke-width="1.1"/>
<circle cx="583.6" cy="1280.5" r="3.1" fill="#E0504A" fill-opacity="0.4" stroke="#E0504A" stroke-opacity="0.7" stroke-width="1.1"/>
<circle cx="506.7" cy="1286.4" r="3.1" fill="#E0504A" fill-opacity="0.4" stroke="#E0504A" stroke-opacity="0.7" stroke-width="1.1"/>
<circle cx="486.7" cy="1326.9" r="3.1" fill="#E0504A" fill-opacity="0.4" stroke="#E0504A" stroke-opacity="0.7" stroke-width="1.1"/>
<circle cx="619.3" cy="1129.3" r="3.1" fill="#E0504A" fill-opacity="0.4" stroke="#E0504A" stroke-opacity="0.7" stroke-width="1.1"/>
<circle cx="624.8" cy="1132.7" r="3.1" fill="#E0504A" fill-opacity="0.4" stroke="#E0504A" stroke-opacity="0.7" stroke-width="1.1"/>
<circle cx="675.3" cy="1149.9" r="3.1" fill="#E0504A" fill-opacity="0.4" stroke="#E0504A" stroke-opacity="0.7" stroke-width="1.1"/>
<circle cx="698.8" cy="1144.0" r="3.1" fill="#E0504A" fill-opacity="0.4" stroke="#E0504A" stroke-opacity="0.7" stroke-width="1.1"/>
<circle cx="725.0" cy="1144.4" r="3.1" fill="#E0504A" fill-opacity="0.4" stroke="#E0504A" stroke-opacity="0.7" stroke-width="1.1"/>
<circle cx="751.7" cy="1169.5" r="3.1" fill="#E0504A" fill-opacity="0.4" stroke="#E0504A" stroke-opacity="0.7" stroke-width="1.1"/>
<circle cx="707.0" cy="1171.8" r="3.1" fill="#E0504A" fill-opacity="0.4" stroke="#E0504A" stroke-opacity="0.7" stroke-width="1.1"/>
<circle cx="701.7" cy="1177.3" r="3.1" fill="#E0504A" fill-opacity="0.4" stroke="#E0504A" stroke-opacity="0.7" stroke-width="1.1"/>
<circle cx="683.5" cy="1179.3" r="3.1" fill="#E0504A" fill-opacity="0.4" stroke="#E0504A" stroke-opacity="0.7" stroke-width="1.1"/>
<circle cx="668.8" cy="1182.6" r="3.1" fill="#E0504A" fill-opacity="0.4" stroke="#E0504A" stroke-opacity="0.7" stroke-width="1.1"/>
<circle cx="664.9" cy="1165.9" r="3.1" fill="#E0504A" fill-opacity="0.4" stroke="#E0504A" stroke-opacity="0.7" stroke-width="1.1"/>
<circle cx="714.9" cy="1200.8" r="3.1" fill="#E0504A" fill-opacity="0.4" stroke="#E0504A" stroke-opacity="0.7" stroke-width="1.1"/>
<circle cx="723.1" cy="1217.2" r="3.1" fill="#E0504A" fill-opacity="0.4" stroke="#E0504A" stroke-opacity="0.7" stroke-width="1.1"/>
<circle cx="626.7" cy="1225.7" r="3.1" fill="#E0504A" fill-opacity="0.4" stroke="#E0504A" stroke-opacity="0.7" stroke-width="1.1"/>
<circle cx="696.8" cy="1231.9" r="3.1" fill="#E0504A" fill-opacity="0.4" stroke="#E0504A" stroke-opacity="0.7" stroke-width="1.1"/>
<circle cx="734.1" cy="1232.1" r="3.1" fill="#E0504A" fill-opacity="0.4" stroke="#E0504A" stroke-opacity="0.7" stroke-width="1.1"/>
<circle cx="723.1" cy="1240.7" r="3.1" fill="#E0504A" fill-opacity="0.4" stroke="#E0504A" stroke-opacity="0.7" stroke-width="1.1"/>
<circle cx="633.6" cy="1268.4" r="3.1" fill="#E0504A" fill-opacity="0.4" stroke="#E0504A" stroke-opacity="0.7" stroke-width="1.1"/>
<circle cx="738.8" cy="1258.0" r="3.1" fill="#E0504A" fill-opacity="0.4" stroke="#E0504A" stroke-opacity="0.7" stroke-width="1.1"/>
<circle cx="522.0" cy="1085.7" r="3.1" fill="#EFA558" fill-opacity="0.4" stroke="#EFA558" stroke-opacity="0.7" stroke-width="1.1"/>
<circle cx="500.4" cy="1125.8" r="3.1" fill="#EFA558" fill-opacity="0.4" stroke="#EFA558" stroke-opacity="0.7" stroke-width="1.1"/>
<circle cx="545.4" cy="1117.0" r="3.1" fill="#EFA558" fill-opacity="0.4" stroke="#EFA558" stroke-opacity="0.7" stroke-width="1.1"/>
<circle cx="581.1" cy="1141.1" r="3.1" fill="#EFA558" fill-opacity="0.4" stroke="#EFA558" stroke-opacity="0.7" stroke-width="1.1"/>
<circle cx="537.6" cy="1167.3" r="3.1" fill="#EFA558" fill-opacity="0.4" stroke="#EFA558" stroke-opacity="0.7" stroke-width="1.1"/>
<circle cx="558.8" cy="1173.2" r="3.1" fill="#EFA558" fill-opacity="0.4" stroke="#EFA558" stroke-opacity="0.7" stroke-width="1.1"/>
<circle cx="572.5" cy="1178.3" r="3.1" fill="#EFA558" fill-opacity="0.4" stroke="#EFA558" stroke-opacity="0.7" stroke-width="1.1"/>
<circle cx="589.5" cy="1167.9" r="3.1" fill="#EFA558" fill-opacity="0.4" stroke="#EFA558" stroke-opacity="0.7" stroke-width="1.1"/>
<circle cx="531.4" cy="1177.7" r="3.1" fill="#EFA558" fill-opacity="0.4" stroke="#EFA558" stroke-opacity="0.7" stroke-width="1.1"/>
<circle cx="528.4" cy="1182.0" r="3.1" fill="#EFA558" fill-opacity="0.4" stroke="#EFA558" stroke-opacity="0.7" stroke-width="1.1"/>
<circle cx="536.2" cy="1185.5" r="3.1" fill="#EFA558" fill-opacity="0.4" stroke="#EFA558" stroke-opacity="0.7" stroke-width="1.1"/>
<circle cx="613.0" cy="1182.2" r="3.1" fill="#EFA558" fill-opacity="0.4" stroke="#EFA558" stroke-opacity="0.7" stroke-width="1.1"/>
<circle cx="536.1" cy="1203.7" r="3.1" fill="#EFA558" fill-opacity="0.4" stroke="#EFA558" stroke-opacity="0.7" stroke-width="1.1"/>
<circle cx="555.2" cy="1219.8" r="3.1" fill="#EFA558" fill-opacity="0.4" stroke="#EFA558" stroke-opacity="0.7" stroke-width="1.1"/>
<circle cx="575.4" cy="1218.8" r="3.1" fill="#EFA558" fill-opacity="0.4" stroke="#EFA558" stroke-opacity="0.7" stroke-width="1.1"/>
<circle cx="585.6" cy="1220.8" r="3.1" fill="#EFA558" fill-opacity="0.4" stroke="#EFA558" stroke-opacity="0.7" stroke-width="1.1"/>
<circle cx="587.5" cy="1200.8" r="3.1" fill="#EFA558" fill-opacity="0.4" stroke="#EFA558" stroke-opacity="0.7" stroke-width="1.1"/>
<circle cx="492.6" cy="1218.2" r="3.1" fill="#EFA558" fill-opacity="0.4" stroke="#EFA558" stroke-opacity="0.7" stroke-width="1.1"/>
<circle cx="522.0" cy="1255.0" r="3.1" fill="#EFA558" fill-opacity="0.4" stroke="#EFA558" stroke-opacity="0.7" stroke-width="1.1"/>
<circle cx="506.7" cy="1261.5" r="3.1" fill="#EFA558" fill-opacity="0.4" stroke="#EFA558" stroke-opacity="0.7" stroke-width="1.1"/>
<circle cx="486.7" cy="1259.5" r="3.1" fill="#EFA558" fill-opacity="0.4" stroke="#EFA558" stroke-opacity="0.7" stroke-width="1.1"/>
<circle cx="619.5" cy="1284.8" r="3.1" fill="#EFA558" fill-opacity="0.4" stroke="#EFA558" stroke-opacity="0.7" stroke-width="1.1"/>
<circle cx="645.9" cy="1158.7" r="3.1" fill="#EFA558" fill-opacity="0.4" stroke="#EFA558" stroke-opacity="0.7" stroke-width="1.1"/>
<circle cx="665.5" cy="1165.9" r="3.1" fill="#EFA558" fill-opacity="0.4" stroke="#EFA558" stroke-opacity="0.7" stroke-width="1.1"/>
<circle cx="707.6" cy="1165.0" r="3.1" fill="#EFA558" fill-opacity="0.4" stroke="#EFA558" stroke-opacity="0.7" stroke-width="1.1"/>
<circle cx="664.9" cy="1175.3" r="3.1" fill="#EFA558" fill-opacity="0.4" stroke="#EFA558" stroke-opacity="0.7" stroke-width="1.1"/>
<circle cx="701.7" cy="1184.5" r="3.1" fill="#EFA558" fill-opacity="0.4" stroke="#EFA558" stroke-opacity="0.7" stroke-width="1.1"/>
<circle cx="624.4" cy="1185.1" r="3.1" fill="#EFA558" fill-opacity="0.4" stroke="#EFA558" stroke-opacity="0.7" stroke-width="1.1"/>
<circle cx="633.2" cy="1187.9" r="3.1" fill="#EFA558" fill-opacity="0.4" stroke="#EFA558" stroke-opacity="0.7" stroke-width="1.1"/>
<circle cx="698.6" cy="1192.4" r="3.1" fill="#EFA558" fill-opacity="0.4" stroke="#EFA558" stroke-opacity="0.7" stroke-width="1.1"/>
<circle cx="723.3" cy="1207.1" r="3.1" fill="#EFA558" fill-opacity="0.4" stroke="#EFA558" stroke-opacity="0.7" stroke-width="1.1"/>
<circle cx="734.1" cy="1215.9" r="3.1" fill="#EFA558" fill-opacity="0.4" stroke="#EFA558" stroke-opacity="0.7" stroke-width="1.1"/>
<circle cx="707.0" cy="1227.6" r="3.1" fill="#EFA558" fill-opacity="0.4" stroke="#EFA558" stroke-opacity="0.7" stroke-width="1.1"/>
<circle cx="714.9" cy="1231.0" r="3.1" fill="#EFA558" fill-opacity="0.4" stroke="#EFA558" stroke-opacity="0.7" stroke-width="1.1"/>
<circle cx="725.6" cy="1242.3" r="3.1" fill="#EFA558" fill-opacity="0.4" stroke="#EFA558" stroke-opacity="0.7" stroke-width="1.1"/>
<circle cx="751.7" cy="1242.9" r="3.1" fill="#EFA558" fill-opacity="0.4" stroke="#EFA558" stroke-opacity="0.7" stroke-width="1.1"/>
<circle cx="667.9" cy="1262.5" r="3.1" fill="#EFA558" fill-opacity="0.4" stroke="#EFA558" stroke-opacity="0.7" stroke-width="1.1"/>
<circle cx="738.9" cy="1277.0" r="3.1" fill="#EFA558" fill-opacity="0.4" stroke="#EFA558" stroke-opacity="0.7" stroke-width="1.1"/>
<circle cx="619.3" cy="1285.0" r="3.1" fill="#EFA558" fill-opacity="0.4" stroke="#EFA558" stroke-opacity="0.7" stroke-width="1.1"/>
<circle cx="627.1" cy="1283.8" r="3.1" fill="#EFA558" fill-opacity="0.4" stroke="#EFA558" stroke-opacity="0.7" stroke-width="1.1"/>
<circle cx="675.3" cy="1139.5" r="3.1" fill="#EFA558" fill-opacity="0.4" stroke="#EFA558" stroke-opacity="0.7" stroke-width="1.1"/>
<circle cx="613.4" cy="1117.4" r="3.1" fill="#72C6EC" fill-opacity="0.4" stroke="#72C6EC" stroke-opacity="0.7" stroke-width="1.1"/>
<circle cx="581.1" cy="1126.8" r="3.1" fill="#72C6EC" fill-opacity="0.4" stroke="#72C6EC" stroke-opacity="0.7" stroke-width="1.1"/>
<circle cx="555.2" cy="1195.3" r="3.1" fill="#72C6EC" fill-opacity="0.4" stroke="#72C6EC" stroke-opacity="0.7" stroke-width="1.1"/>
<circle cx="522.0" cy="1205.1" r="3.1" fill="#72C6EC" fill-opacity="0.4" stroke="#72C6EC" stroke-opacity="0.7" stroke-width="1.1"/>
<circle cx="528.8" cy="1206.1" r="3.1" fill="#72C6EC" fill-opacity="0.4" stroke="#72C6EC" stroke-opacity="0.7" stroke-width="1.1"/>
<circle cx="545.1" cy="1223.7" r="3.1" fill="#72C6EC" fill-opacity="0.4" stroke="#72C6EC" stroke-opacity="0.7" stroke-width="1.1"/>
<circle cx="558.8" cy="1236.4" r="3.1" fill="#72C6EC" fill-opacity="0.4" stroke="#72C6EC" stroke-opacity="0.7" stroke-width="1.1"/>
<circle cx="572.5" cy="1229.6" r="3.1" fill="#72C6EC" fill-opacity="0.4" stroke="#72C6EC" stroke-opacity="0.7" stroke-width="1.1"/>
<circle cx="589.5" cy="1231.5" r="3.1" fill="#72C6EC" fill-opacity="0.4" stroke="#72C6EC" stroke-opacity="0.7" stroke-width="1.1"/>
<circle cx="492.6" cy="1247.8" r="3.1" fill="#72C6EC" fill-opacity="0.4" stroke="#72C6EC" stroke-opacity="0.7" stroke-width="1.1"/>
<circle cx="500.4" cy="1248.6" r="3.1" fill="#72C6EC" fill-opacity="0.4" stroke="#72C6EC" stroke-opacity="0.7" stroke-width="1.1"/>
<circle cx="486.7" cy="1254.1" r="3.1" fill="#72C6EC" fill-opacity="0.4" stroke="#72C6EC" stroke-opacity="0.7" stroke-width="1.1"/>
<circle cx="536.6" cy="1264.8" r="3.1" fill="#72C6EC" fill-opacity="0.4" stroke="#72C6EC" stroke-opacity="0.7" stroke-width="1.1"/>
<circle cx="585.6" cy="1265.4" r="3.1" fill="#72C6EC" fill-opacity="0.4" stroke="#72C6EC" stroke-opacity="0.7" stroke-width="1.1"/>
<circle cx="506.7" cy="1275.2" r="3.1" fill="#72C6EC" fill-opacity="0.4" stroke="#72C6EC" stroke-opacity="0.7" stroke-width="1.1"/>
<circle cx="588.1" cy="1278.1" r="3.1" fill="#72C6EC" fill-opacity="0.4" stroke="#72C6EC" stroke-opacity="0.7" stroke-width="1.1"/>
<circle cx="522.0" cy="1306.3" r="3.1" fill="#72C6EC" fill-opacity="0.4" stroke="#72C6EC" stroke-opacity="0.7" stroke-width="1.1"/>
<circle cx="619.5" cy="1302.4" r="3.1" fill="#72C6EC" fill-opacity="0.4" stroke="#72C6EC" stroke-opacity="0.7" stroke-width="1.1"/>
<circle cx="486.7" cy="1332.0" r="3.1" fill="#72C6EC" fill-opacity="0.4" stroke="#72C6EC" stroke-opacity="0.7" stroke-width="1.1"/>
<circle cx="645.7" cy="1172.4" r="3.1" fill="#72C6EC" fill-opacity="0.4" stroke="#72C6EC" stroke-opacity="0.7" stroke-width="1.1"/>
<circle cx="664.9" cy="1193.9" r="3.1" fill="#72C6EC" fill-opacity="0.4" stroke="#72C6EC" stroke-opacity="0.7" stroke-width="1.1"/>
<circle cx="698.6" cy="1183.2" r="3.1" fill="#72C6EC" fill-opacity="0.4" stroke="#72C6EC" stroke-opacity="0.7" stroke-width="1.1"/>
<circle cx="633.2" cy="1233.5" r="3.1" fill="#72C6EC" fill-opacity="0.4" stroke="#72C6EC" stroke-opacity="0.7" stroke-width="1.1"/>
<circle cx="674.7" cy="1240.4" r="3.1" fill="#72C6EC" fill-opacity="0.4" stroke="#72C6EC" stroke-opacity="0.7" stroke-width="1.1"/>
<circle cx="734.1" cy="1241.7" r="3.1" fill="#72C6EC" fill-opacity="0.4" stroke="#72C6EC" stroke-opacity="0.7" stroke-width="1.1"/>
<circle cx="702.1" cy="1248.2" r="3.1" fill="#72C6EC" fill-opacity="0.4" stroke="#72C6EC" stroke-opacity="0.7" stroke-width="1.1"/>
<circle cx="707.0" cy="1248.2" r="3.1" fill="#72C6EC" fill-opacity="0.4" stroke="#72C6EC" stroke-opacity="0.7" stroke-width="1.1"/>
<circle cx="723.3" cy="1270.1" r="3.1" fill="#72C6EC" fill-opacity="0.4" stroke="#72C6EC" stroke-opacity="0.7" stroke-width="1.1"/>
<circle cx="723.3" cy="1274.6" r="3.1" fill="#72C6EC" fill-opacity="0.4" stroke="#72C6EC" stroke-opacity="0.7" stroke-width="1.1"/>
<circle cx="729.2" cy="1279.5" r="3.1" fill="#72C6EC" fill-opacity="0.4" stroke="#72C6EC" stroke-opacity="0.7" stroke-width="1.1"/>
<circle cx="697.2" cy="1291.3" r="3.1" fill="#72C6EC" fill-opacity="0.4" stroke="#72C6EC" stroke-opacity="0.7" stroke-width="1.1"/>
<circle cx="709.0" cy="1264.8" r="3.1" fill="#72C6EC" fill-opacity="0.4" stroke="#72C6EC" stroke-opacity="0.7" stroke-width="1.1"/>
<circle cx="619.3" cy="1302.6" r="3.1" fill="#72C6EC" fill-opacity="0.4" stroke="#72C6EC" stroke-opacity="0.7" stroke-width="1.1"/>
<circle cx="720.3" cy="1300.1" r="3.1" fill="#72C6EC" fill-opacity="0.4" stroke="#72C6EC" stroke-opacity="0.7" stroke-width="1.1"/>
<circle cx="627.1" cy="1325.9" r="3.1" fill="#72C6EC" fill-opacity="0.4" stroke="#72C6EC" stroke-opacity="0.7" stroke-width="1.1"/>
<circle cx="738.8" cy="1302.0" r="3.1" fill="#72C6EC" fill-opacity="0.4" stroke="#72C6EC" stroke-opacity="0.7" stroke-width="1.1"/>
<circle cx="581.1" cy="1122.5" r="3.1" fill="#4A62A8" fill-opacity="0.4" stroke="#4A62A8" stroke-opacity="0.7" stroke-width="1.1"/>
<circle cx="613.4" cy="1151.3" r="3.1" fill="#4A62A8" fill-opacity="0.4" stroke="#4A62A8" stroke-opacity="0.7" stroke-width="1.1"/>
<circle cx="575.4" cy="1186.1" r="3.1" fill="#4A62A8" fill-opacity="0.4" stroke="#4A62A8" stroke-opacity="0.7" stroke-width="1.1"/>
<circle cx="537.6" cy="1211.4" r="3.1" fill="#4A62A8" fill-opacity="0.4" stroke="#4A62A8" stroke-opacity="0.7" stroke-width="1.1"/>
<circle cx="522.0" cy="1215.5" r="3.1" fill="#4A62A8" fill-opacity="0.4" stroke="#4A62A8" stroke-opacity="0.7" stroke-width="1.1"/>
<circle cx="555.2" cy="1213.5" r="3.1" fill="#4A62A8" fill-opacity="0.4" stroke="#4A62A8" stroke-opacity="0.7" stroke-width="1.1"/>
<circle cx="492.6" cy="1221.4" r="3.1" fill="#4A62A8" fill-opacity="0.4" stroke="#4A62A8" stroke-opacity="0.7" stroke-width="1.1"/>
<circle cx="528.4" cy="1227.6" r="3.1" fill="#4A62A8" fill-opacity="0.4" stroke="#4A62A8" stroke-opacity="0.7" stroke-width="1.1"/>
<circle cx="536.2" cy="1223.7" r="3.1" fill="#4A62A8" fill-opacity="0.4" stroke="#4A62A8" stroke-opacity="0.7" stroke-width="1.1"/>
<circle cx="559.2" cy="1248.6" r="3.1" fill="#4A62A8" fill-opacity="0.4" stroke="#4A62A8" stroke-opacity="0.7" stroke-width="1.1"/>
<circle cx="575.4" cy="1247.8" r="3.1" fill="#4A62A8" fill-opacity="0.4" stroke="#4A62A8" stroke-opacity="0.7" stroke-width="1.1"/>
<circle cx="585.6" cy="1252.5" r="3.1" fill="#4A62A8" fill-opacity="0.4" stroke="#4A62A8" stroke-opacity="0.7" stroke-width="1.1"/>
<circle cx="589.5" cy="1248.6" r="3.1" fill="#4A62A8" fill-opacity="0.4" stroke="#4A62A8" stroke-opacity="0.7" stroke-width="1.1"/>
<circle cx="531.7" cy="1257.0" r="3.1" fill="#4A62A8" fill-opacity="0.4" stroke="#4A62A8" stroke-opacity="0.7" stroke-width="1.1"/>
<circle cx="500.4" cy="1260.9" r="3.1" fill="#4A62A8" fill-opacity="0.4" stroke="#4A62A8" stroke-opacity="0.7" stroke-width="1.1"/>
<circle cx="486.7" cy="1273.6" r="3.1" fill="#4A62A8" fill-opacity="0.4" stroke="#4A62A8" stroke-opacity="0.7" stroke-width="1.1"/>
<circle cx="522.0" cy="1271.3" r="3.1" fill="#4A62A8" fill-opacity="0.4" stroke="#4A62A8" stroke-opacity="0.7" stroke-width="1.1"/>
<circle cx="536.6" cy="1275.6" r="3.1" fill="#4A62A8" fill-opacity="0.4" stroke="#4A62A8" stroke-opacity="0.7" stroke-width="1.1"/>
<circle cx="572.9" cy="1273.6" r="3.1" fill="#4A62A8" fill-opacity="0.4" stroke="#4A62A8" stroke-opacity="0.7" stroke-width="1.1"/>
<circle cx="583.6" cy="1277.6" r="3.1" fill="#4A62A8" fill-opacity="0.4" stroke="#4A62A8" stroke-opacity="0.7" stroke-width="1.1"/>
<circle cx="486.7" cy="1287.7" r="3.1" fill="#4A62A8" fill-opacity="0.4" stroke="#4A62A8" stroke-opacity="0.7" stroke-width="1.1"/>
<circle cx="506.7" cy="1292.2" r="3.1" fill="#4A62A8" fill-opacity="0.4" stroke="#4A62A8" stroke-opacity="0.7" stroke-width="1.1"/>
<circle cx="619.5" cy="1263.3" r="3.1" fill="#4A62A8" fill-opacity="0.4" stroke="#4A62A8" stroke-opacity="0.7" stroke-width="1.1"/>
<circle cx="674.7" cy="1209.0" r="3.1" fill="#4A62A8" fill-opacity="0.4" stroke="#4A62A8" stroke-opacity="0.7" stroke-width="1.1"/>
<circle cx="701.7" cy="1210.0" r="3.1" fill="#4A62A8" fill-opacity="0.4" stroke="#4A62A8" stroke-opacity="0.7" stroke-width="1.1"/>
<circle cx="624.4" cy="1214.9" r="3.1" fill="#4A62A8" fill-opacity="0.4" stroke="#4A62A8" stroke-opacity="0.7" stroke-width="1.1"/>
<circle cx="645.7" cy="1226.1" r="3.1" fill="#4A62A8" fill-opacity="0.4" stroke="#4A62A8" stroke-opacity="0.7" stroke-width="1.1"/>
<circle cx="666.3" cy="1221.8" r="3.1" fill="#4A62A8" fill-opacity="0.4" stroke="#4A62A8" stroke-opacity="0.7" stroke-width="1.1"/>
<circle cx="707.0" cy="1221.4" r="3.1" fill="#4A62A8" fill-opacity="0.4" stroke="#4A62A8" stroke-opacity="0.7" stroke-width="1.1"/>
<circle cx="707.0" cy="1223.7" r="3.1" fill="#4A62A8" fill-opacity="0.4" stroke="#4A62A8" stroke-opacity="0.7" stroke-width="1.1"/>
<circle cx="698.6" cy="1242.7" r="3.1" fill="#4A62A8" fill-opacity="0.4" stroke="#4A62A8" stroke-opacity="0.7" stroke-width="1.1"/>
<circle cx="633.0" cy="1246.2" r="3.1" fill="#4A62A8" fill-opacity="0.4" stroke="#4A62A8" stroke-opacity="0.7" stroke-width="1.1"/>
<circle cx="619.9" cy="1262.9" r="3.1" fill="#4A62A8" fill-opacity="0.4" stroke="#4A62A8" stroke-opacity="0.7" stroke-width="1.1"/>
<circle cx="664.9" cy="1267.2" r="3.1" fill="#4A62A8" fill-opacity="0.4" stroke="#4A62A8" stroke-opacity="0.7" stroke-width="1.1"/>
<circle cx="684.1" cy="1264.8" r="3.1" fill="#4A62A8" fill-opacity="0.4" stroke="#4A62A8" stroke-opacity="0.7" stroke-width="1.1"/>
<circle cx="714.9" cy="1259.9" r="3.1" fill="#4A62A8" fill-opacity="0.4" stroke="#4A62A8" stroke-opacity="0.7" stroke-width="1.1"/>
<circle cx="724.7" cy="1258.4" r="3.1" fill="#4A62A8" fill-opacity="0.4" stroke="#4A62A8" stroke-opacity="0.7" stroke-width="1.1"/>
<circle cx="734.8" cy="1279.1" r="3.1" fill="#4A62A8" fill-opacity="0.4" stroke="#4A62A8" stroke-opacity="0.7" stroke-width="1.1"/>
<circle cx="696.8" cy="1286.0" r="3.1" fill="#4A62A8" fill-opacity="0.4" stroke="#4A62A8" stroke-opacity="0.7" stroke-width="1.1"/>
<circle cx="724.7" cy="1286.0" r="3.1" fill="#4A62A8" fill-opacity="0.4" stroke="#4A62A8" stroke-opacity="0.7" stroke-width="1.1"/>
<circle cx="727.0" cy="1291.3" r="3.1" fill="#4A62A8" fill-opacity="0.4" stroke="#4A62A8" stroke-opacity="0.7" stroke-width="1.1"/>
<circle cx="729.5" cy="1296.2" r="3.1" fill="#4A62A8" fill-opacity="0.4" stroke="#4A62A8" stroke-opacity="0.7" stroke-width="1.1"/>
<circle cx="708.6" cy="1294.2" r="3.1" fill="#4A62A8" fill-opacity="0.4" stroke="#4A62A8" stroke-opacity="0.7" stroke-width="1.1"/>
<circle cx="725.6" cy="1304.4" r="3.1" fill="#4A62A8" fill-opacity="0.4" stroke="#4A62A8" stroke-opacity="0.7" stroke-width="1.1"/>
<circle cx="738.8" cy="1300.5" r="3.1" fill="#4A62A8" fill-opacity="0.4" stroke="#4A62A8" stroke-opacity="0.7" stroke-width="1.1"/>
<circle cx="752.1" cy="1300.5" r="3.1" fill="#4A62A8" fill-opacity="0.4" stroke="#4A62A8" stroke-opacity="0.7" stroke-width="1.1"/>
<line x1="486.9" y1="1241" x2="752.2" y2="1199.2" stroke="#D63B2F" stroke-width="3.2"/>
<line x1="486.9" y1="1189.6" x2="752.2" y2="1230.6" stroke="#E8922F" stroke-width="3.2"/>
<line x1="486.9" y1="1239.6" x2="752.2" y2="1256.6" stroke="#5BB6E2" stroke-width="3.2"/>
<line x1="486.9" y1="1232.8" x2="752.2" y2="1267" stroke="#1D3A8C" stroke-width="3.2"/>
<text x="619.5" y="1087.6" font-size="13.8" text-anchor="start" fill="#CF5D55" textLength="125.0" lengthAdjust="spacingAndGlyphs"><tspan font-style="italic">r</tspan> = 0.28, <tspan font-style="italic">P</tspan> = 0.048</text>
<text x="619.5" y="1105.6" font-size="13.8" text-anchor="start" fill="#E6A460" textLength="133.8" lengthAdjust="spacingAndGlyphs"><tspan font-style="italic">r</tspan> = –0.26, <tspan font-style="italic">P</tspan> = 0.063</text>
<text x="619.5" y="1123.9" font-size="13.8" text-anchor="start" fill="#6DBCE4" textLength="119.5" lengthAdjust="spacingAndGlyphs"><tspan font-style="italic">r</tspan> = –0.12, <tspan font-style="italic">P</tspan> = 0.39</text>
<text x="619.5" y="1141.7" font-size="13.8" text-anchor="start" fill="#42568E" textLength="132.5" lengthAdjust="spacingAndGlyphs"><tspan font-style="italic">r</tspan> = –0.28, <tspan font-style="italic">P</tspan> = 0.045</text>
<rect x="473.8" y="1038.6" width="291.8" height="28.4" fill="#fff" stroke="#555" stroke-width="1.2"/>
<text x="619.7" y="1057.9" font-size="18" text-anchor="middle" fill="#1a1a1a">Farmland</text>
<line x1="473.8" y1="1067" x2="473.8" y2="1345" stroke="#555" stroke-width="1.3"/>
<line x1="473.2" y1="1345" x2="765.6" y2="1345" stroke="#555" stroke-width="1.3"/>
<line x1="468.3" y1="1088.4" x2="473.8" y2="1088.4" stroke="#555" stroke-width="1.2"/>
<text x="459.3" y="1093.7" font-size="15" text-anchor="end" fill="#1a1a1a">2</text>
<line x1="468.3" y1="1148.6" x2="473.8" y2="1148.6" stroke="#555" stroke-width="1.2"/>
<text x="459.3" y="1153.9" font-size="15" text-anchor="end" fill="#1a1a1a">1</text>
<line x1="468.3" y1="1208.7" x2="473.8" y2="1208.7" stroke="#555" stroke-width="1.2"/>
<text x="459.3" y="1214.0" font-size="15" text-anchor="end" fill="#1a1a1a">0</text>
<line x1="468.3" y1="1269.5" x2="473.8" y2="1269.5" stroke="#555" stroke-width="1.2"/>
<text x="459.3" y="1274.8" font-size="15" text-anchor="end" fill="#1a1a1a">–1</text>
<line x1="468.3" y1="1329.9" x2="473.8" y2="1329.9" stroke="#555" stroke-width="1.2"/>
<text x="459.3" y="1335.2" font-size="15" text-anchor="end" fill="#1a1a1a">–2</text>
<line x1="492.1" y1="1345" x2="492.1" y2="1350.5" stroke="#555" stroke-width="1.2"/>
<text x="492.1" y="1372.5" font-size="15" text-anchor="middle" fill="#1a1a1a" textLength="22.5" lengthAdjust="spacingAndGlyphs">6.0</text>
<line x1="546.8" y1="1345" x2="546.8" y2="1350.5" stroke="#555" stroke-width="1.2"/>
<text x="546.8" y="1372.5" font-size="15" text-anchor="middle" fill="#1a1a1a" textLength="22.5" lengthAdjust="spacingAndGlyphs">6.5</text>
<line x1="601.5" y1="1345" x2="601.5" y2="1350.5" stroke="#555" stroke-width="1.2"/>
<text x="601.5" y="1372.5" font-size="15" text-anchor="middle" fill="#1a1a1a" textLength="22.5" lengthAdjust="spacingAndGlyphs">7.0</text>
<line x1="656.2" y1="1345" x2="656.2" y2="1350.5" stroke="#555" stroke-width="1.2"/>
<text x="656.2" y="1372.5" font-size="15" text-anchor="middle" fill="#1a1a1a" textLength="22.5" lengthAdjust="spacingAndGlyphs">7.5</text>
<line x1="710.9" y1="1345" x2="710.9" y2="1350.5" stroke="#555" stroke-width="1.2"/>
<text x="710.9" y="1372.5" font-size="15" text-anchor="middle" fill="#1a1a1a" textLength="22.5" lengthAdjust="spacingAndGlyphs">8.0</text>
<polygon points="818.8,1164.8 829.9,1166.7 840.9,1168.7 852.0,1170.6 863.0,1172.5 874.1,1174.3 885.1,1176.1 896.2,1177.8 907.2,1179.4 918.3,1180.9 929.3,1182.3 940.4,1183.4 951.4,1184.2 962.5,1184.7 973.6,1184.9 984.6,1184.7 995.7,1184.4 1006.7,1183.8 1017.8,1183.1 1028.8,1182.2 1039.9,1181.3 1050.9,1180.3 1062.0,1179.3 1073.0,1178.3 1084.1,1177.2 1084.1,1217.2 1073.0,1215.3 1062.0,1213.4 1050.9,1211.6 1039.9,1209.8 1028.8,1208.1 1017.8,1206.4 1006.7,1204.9 995.7,1203.5 984.6,1202.3 973.6,1201.4 962.5,1200.7 951.4,1200.4 940.4,1200.4 929.3,1200.7 918.3,1201.2 907.2,1201.9 896.2,1202.7 885.1,1203.6 874.1,1204.6 863.0,1205.6 852.0,1206.7 840.9,1207.8 829.9,1208.9 818.8,1210.0" fill="#8c8c8c" opacity="0.17"/>
<polygon points="818.8,1138.8 829.9,1142.9 840.9,1147.0 852.0,1151.0 863.0,1155.0 874.1,1159.0 885.1,1162.9 896.2,1166.8 907.2,1170.6 918.3,1174.2 929.3,1177.7 940.4,1180.9 951.4,1183.8 962.5,1186.3 973.6,1188.5 984.6,1190.4 995.7,1192.0 1006.7,1193.5 1017.8,1194.8 1028.8,1195.9 1039.9,1197.0 1050.9,1198.1 1062.0,1199.1 1073.0,1200.1 1084.1,1201.0 1084.1,1241.0 1073.0,1237.1 1062.0,1233.2 1050.9,1229.4 1039.9,1225.6 1028.8,1221.8 1017.8,1218.1 1006.7,1214.6 995.7,1211.2 984.6,1208.0 973.6,1205.0 962.5,1202.3 951.4,1200.0 940.4,1198.1 929.3,1196.4 918.3,1195.1 907.2,1193.8 896.2,1192.8 885.1,1191.8 874.1,1190.9 863.0,1190.0 852.0,1189.1 840.9,1188.3 829.9,1187.6 818.8,1186.8" fill="#8c8c8c" opacity="0.17"/>
<polygon points="818.8,1154.1 829.9,1157.6 840.9,1161.1 852.0,1164.6 863.0,1168.0 874.1,1171.4 885.1,1174.8 896.2,1178.0 907.2,1181.2 918.3,1184.3 929.3,1187.2 940.4,1189.8 951.4,1192.1 962.5,1194.1 973.6,1195.7 984.6,1197.0 995.7,1198.1 1006.7,1198.9 1017.8,1199.6 1028.8,1200.2 1039.9,1200.8 1050.9,1201.2 1062.0,1201.7 1073.0,1202.0 1084.1,1202.4 1084.1,1242.4 1073.0,1239.1 1062.0,1235.8 1050.9,1232.5 1039.9,1229.3 1028.8,1226.1 1017.8,1223.0 1006.7,1220.0 995.7,1217.2 984.6,1214.6 973.6,1212.2 962.5,1210.1 951.4,1208.4 940.4,1207.0 929.3,1205.9 918.3,1205.1 907.2,1204.5 896.2,1204.0 885.1,1203.6 874.1,1203.3 863.0,1203.0 852.0,1202.7 840.9,1202.5 829.9,1202.3 818.8,1202.1" fill="#8c8c8c" opacity="0.17"/>
<polygon points="818.8,1139.0 829.9,1144.2 840.9,1149.4 852.0,1154.6 863.0,1159.8 874.1,1164.9 885.1,1170.0 896.2,1175.0 907.2,1179.9 918.3,1184.7 929.3,1189.3 940.4,1193.6 951.4,1197.6 962.5,1201.1 973.6,1204.3 984.6,1207.2 995.7,1209.8 1006.7,1212.3 1017.8,1214.6 1028.8,1216.8 1039.9,1219.0 1050.9,1221.0 1062.0,1223.0 1073.0,1225.0 1084.1,1227.0 1084.1,1266.0 1073.0,1261.2 1062.0,1256.4 1050.9,1251.6 1039.9,1246.9 1028.8,1242.2 1017.8,1237.6 1006.7,1233.2 995.7,1228.8 984.6,1224.7 973.6,1220.8 962.5,1217.2 951.4,1213.9 940.4,1211.1 929.3,1208.6 918.3,1206.4 907.2,1204.4 896.2,1202.5 885.1,1200.7 874.1,1199.0 863.0,1197.4 852.0,1195.7 840.9,1194.1 829.9,1192.6 818.8,1191.0" fill="#8c8c8c" opacity="0.17"/>
<circle cx="886.7" cy="1117.6" r="3.1" fill="#E0504A" fill-opacity="0.4" stroke="#E0504A" stroke-opacity="0.7" stroke-width="1.1"/>
<circle cx="934.2" cy="1131.3" r="3.1" fill="#E0504A" fill-opacity="0.4" stroke="#E0504A" stroke-opacity="0.7" stroke-width="1.1"/>
<circle cx="937.2" cy="1138.5" r="3.1" fill="#E0504A" fill-opacity="0.4" stroke="#E0504A" stroke-opacity="0.7" stroke-width="1.1"/>
<circle cx="926.8" cy="1143.4" r="3.1" fill="#E0504A" fill-opacity="0.4" stroke="#E0504A" stroke-opacity="0.7" stroke-width="1.1"/>
<circle cx="893.1" cy="1160.1" r="3.1" fill="#E0504A" fill-opacity="0.4" stroke="#E0504A" stroke-opacity="0.7" stroke-width="1.1"/>
<circle cx="901.9" cy="1161.1" r="3.1" fill="#E0504A" fill-opacity="0.4" stroke="#E0504A" stroke-opacity="0.7" stroke-width="1.1"/>
<circle cx="948.9" cy="1171.8" r="3.1" fill="#E0504A" fill-opacity="0.4" stroke="#E0504A" stroke-opacity="0.7" stroke-width="1.1"/>
<circle cx="866.7" cy="1162.0" r="3.1" fill="#E0504A" fill-opacity="0.4" stroke="#E0504A" stroke-opacity="0.7" stroke-width="1.1"/>
<circle cx="818.7" cy="1190.0" r="3.1" fill="#E0504A" fill-opacity="0.4" stroke="#E0504A" stroke-opacity="0.7" stroke-width="1.1"/>
<circle cx="842.2" cy="1177.7" r="3.1" fill="#E0504A" fill-opacity="0.4" stroke="#E0504A" stroke-opacity="0.7" stroke-width="1.1"/>
<circle cx="867.7" cy="1205.1" r="3.1" fill="#E0504A" fill-opacity="0.4" stroke="#E0504A" stroke-opacity="0.7" stroke-width="1.1"/>
<circle cx="904.9" cy="1206.1" r="3.1" fill="#E0504A" fill-opacity="0.4" stroke="#E0504A" stroke-opacity="0.7" stroke-width="1.1"/>
<circle cx="887.8" cy="1213.3" r="3.1" fill="#E0504A" fill-opacity="0.4" stroke="#E0504A" stroke-opacity="0.7" stroke-width="1.1"/>
<circle cx="878.8" cy="1238.4" r="3.1" fill="#E0504A" fill-opacity="0.4" stroke="#E0504A" stroke-opacity="0.7" stroke-width="1.1"/>
<circle cx="936.8" cy="1217.8" r="3.1" fill="#E0504A" fill-opacity="0.4" stroke="#E0504A" stroke-opacity="0.7" stroke-width="1.1"/>
<circle cx="935.2" cy="1243.3" r="3.1" fill="#E0504A" fill-opacity="0.4" stroke="#E0504A" stroke-opacity="0.7" stroke-width="1.1"/>
<circle cx="953.8" cy="1260.9" r="3.1" fill="#E0504A" fill-opacity="0.4" stroke="#E0504A" stroke-opacity="0.7" stroke-width="1.1"/>
<circle cx="923.5" cy="1182.6" r="3.1" fill="#E0504A" fill-opacity="0.4" stroke="#E0504A" stroke-opacity="0.7" stroke-width="1.1"/>
<circle cx="1059.6" cy="1119.5" r="3.1" fill="#E0504A" fill-opacity="0.4" stroke="#E0504A" stroke-opacity="0.7" stroke-width="1.1"/>
<circle cx="1084.5" cy="1136.0" r="3.1" fill="#E0504A" fill-opacity="0.4" stroke="#E0504A" stroke-opacity="0.7" stroke-width="1.1"/>
<circle cx="1082.5" cy="1158.1" r="3.1" fill="#E0504A" fill-opacity="0.4" stroke="#E0504A" stroke-opacity="0.7" stroke-width="1.1"/>
<circle cx="979.3" cy="1137.2" r="3.1" fill="#E0504A" fill-opacity="0.4" stroke="#E0504A" stroke-opacity="0.7" stroke-width="1.1"/>
<circle cx="1004.2" cy="1145.4" r="3.1" fill="#E0504A" fill-opacity="0.4" stroke="#E0504A" stroke-opacity="0.7" stroke-width="1.1"/>
<circle cx="971.9" cy="1155.8" r="3.1" fill="#E0504A" fill-opacity="0.4" stroke="#E0504A" stroke-opacity="0.7" stroke-width="1.1"/>
<circle cx="1010.6" cy="1180.0" r="3.1" fill="#E0504A" fill-opacity="0.4" stroke="#E0504A" stroke-opacity="0.7" stroke-width="1.1"/>
<circle cx="1041.0" cy="1176.7" r="3.1" fill="#E0504A" fill-opacity="0.4" stroke="#E0504A" stroke-opacity="0.7" stroke-width="1.1"/>
<circle cx="1024.7" cy="1192.4" r="3.1" fill="#E0504A" fill-opacity="0.4" stroke="#E0504A" stroke-opacity="0.7" stroke-width="1.1"/>
<circle cx="961.7" cy="1226.6" r="3.1" fill="#E0504A" fill-opacity="0.4" stroke="#E0504A" stroke-opacity="0.7" stroke-width="1.1"/>
<circle cx="973.8" cy="1229.0" r="3.1" fill="#E0504A" fill-opacity="0.4" stroke="#E0504A" stroke-opacity="0.7" stroke-width="1.1"/>
<circle cx="1018.5" cy="1240.0" r="3.1" fill="#E0504A" fill-opacity="0.4" stroke="#E0504A" stroke-opacity="0.7" stroke-width="1.1"/>
<circle cx="1037.5" cy="1240.0" r="3.1" fill="#E0504A" fill-opacity="0.4" stroke="#E0504A" stroke-opacity="0.7" stroke-width="1.1"/>
<circle cx="1054.7" cy="1229.6" r="3.1" fill="#E0504A" fill-opacity="0.4" stroke="#E0504A" stroke-opacity="0.7" stroke-width="1.1"/>
<circle cx="901.9" cy="1116.4" r="3.1" fill="#EFA558" fill-opacity="0.4" stroke="#EFA558" stroke-opacity="0.7" stroke-width="1.1"/>
<circle cx="948.9" cy="1110.7" r="3.1" fill="#EFA558" fill-opacity="0.4" stroke="#EFA558" stroke-opacity="0.7" stroke-width="1.1"/>
<circle cx="947.4" cy="1141.5" r="3.1" fill="#EFA558" fill-opacity="0.4" stroke="#EFA558" stroke-opacity="0.7" stroke-width="1.1"/>
<circle cx="952.8" cy="1141.5" r="3.1" fill="#EFA558" fill-opacity="0.4" stroke="#EFA558" stroke-opacity="0.7" stroke-width="1.1"/>
<circle cx="923.1" cy="1143.0" r="3.1" fill="#EFA558" fill-opacity="0.4" stroke="#EFA558" stroke-opacity="0.7" stroke-width="1.1"/>
<circle cx="860.4" cy="1148.9" r="3.1" fill="#EFA558" fill-opacity="0.4" stroke="#EFA558" stroke-opacity="0.7" stroke-width="1.1"/>
<circle cx="818.7" cy="1156.2" r="3.1" fill="#EFA558" fill-opacity="0.4" stroke="#EFA558" stroke-opacity="0.7" stroke-width="1.1"/>
<circle cx="893.1" cy="1153.8" r="3.1" fill="#EFA558" fill-opacity="0.4" stroke="#EFA558" stroke-opacity="0.7" stroke-width="1.1"/>
<circle cx="905.8" cy="1162.6" r="3.1" fill="#EFA558" fill-opacity="0.4" stroke="#EFA558" stroke-opacity="0.7" stroke-width="1.1"/>
<circle cx="934.2" cy="1160.1" r="3.1" fill="#EFA558" fill-opacity="0.4" stroke="#EFA558" stroke-opacity="0.7" stroke-width="1.1"/>
<circle cx="887.2" cy="1172.8" r="3.1" fill="#EFA558" fill-opacity="0.4" stroke="#EFA558" stroke-opacity="0.7" stroke-width="1.1"/>
<circle cx="935.2" cy="1178.3" r="3.1" fill="#EFA558" fill-opacity="0.4" stroke="#EFA558" stroke-opacity="0.7" stroke-width="1.1"/>
<circle cx="866.7" cy="1163.0" r="3.1" fill="#EFA558" fill-opacity="0.4" stroke="#EFA558" stroke-opacity="0.7" stroke-width="1.1"/>
<circle cx="829.5" cy="1184.9" r="3.1" fill="#EFA558" fill-opacity="0.4" stroke="#EFA558" stroke-opacity="0.7" stroke-width="1.1"/>
<circle cx="868.6" cy="1201.2" r="3.1" fill="#EFA558" fill-opacity="0.4" stroke="#EFA558" stroke-opacity="0.7" stroke-width="1.1"/>
<circle cx="886.8" cy="1204.1" r="3.1" fill="#EFA558" fill-opacity="0.4" stroke="#EFA558" stroke-opacity="0.7" stroke-width="1.1"/>
<circle cx="927.0" cy="1212.0" r="3.1" fill="#EFA558" fill-opacity="0.4" stroke="#EFA558" stroke-opacity="0.7" stroke-width="1.1"/>
<circle cx="829.5" cy="1229.0" r="3.1" fill="#EFA558" fill-opacity="0.4" stroke="#EFA558" stroke-opacity="0.7" stroke-width="1.1"/>
<circle cx="854.9" cy="1241.7" r="3.1" fill="#EFA558" fill-opacity="0.4" stroke="#EFA558" stroke-opacity="0.7" stroke-width="1.1"/>
<circle cx="937.6" cy="1278.9" r="3.1" fill="#EFA558" fill-opacity="0.4" stroke="#EFA558" stroke-opacity="0.7" stroke-width="1.1"/>
<circle cx="937.2" cy="1185.5" r="3.1" fill="#EFA558" fill-opacity="0.4" stroke="#EFA558" stroke-opacity="0.7" stroke-width="1.1"/>
<circle cx="971.9" cy="1133.1" r="3.1" fill="#EFA558" fill-opacity="0.4" stroke="#EFA558" stroke-opacity="0.7" stroke-width="1.1"/>
<circle cx="1004.2" cy="1139.5" r="3.1" fill="#EFA558" fill-opacity="0.4" stroke="#EFA558" stroke-opacity="0.7" stroke-width="1.1"/>
<circle cx="985.6" cy="1163.6" r="3.1" fill="#EFA558" fill-opacity="0.4" stroke="#EFA558" stroke-opacity="0.7" stroke-width="1.1"/>
<circle cx="1032.2" cy="1180.0" r="3.1" fill="#EFA558" fill-opacity="0.4" stroke="#EFA558" stroke-opacity="0.7" stroke-width="1.1"/>
<circle cx="1035.5" cy="1181.2" r="3.1" fill="#EFA558" fill-opacity="0.4" stroke="#EFA558" stroke-opacity="0.7" stroke-width="1.1"/>
<circle cx="1059.6" cy="1176.7" r="3.1" fill="#EFA558" fill-opacity="0.4" stroke="#EFA558" stroke-opacity="0.7" stroke-width="1.1"/>
<circle cx="973.4" cy="1189.4" r="3.1" fill="#EFA558" fill-opacity="0.4" stroke="#EFA558" stroke-opacity="0.7" stroke-width="1.1"/>
<circle cx="982.2" cy="1187.9" r="3.1" fill="#EFA558" fill-opacity="0.4" stroke="#EFA558" stroke-opacity="0.7" stroke-width="1.1"/>
<circle cx="988.7" cy="1186.9" r="3.1" fill="#EFA558" fill-opacity="0.4" stroke="#EFA558" stroke-opacity="0.7" stroke-width="1.1"/>
<circle cx="989.1" cy="1198.3" r="3.1" fill="#EFA558" fill-opacity="0.4" stroke="#EFA558" stroke-opacity="0.7" stroke-width="1.1"/>
<circle cx="1041.0" cy="1220.8" r="3.1" fill="#EFA558" fill-opacity="0.4" stroke="#EFA558" stroke-opacity="0.7" stroke-width="1.1"/>
<circle cx="1024.3" cy="1233.1" r="3.1" fill="#EFA558" fill-opacity="0.4" stroke="#EFA558" stroke-opacity="0.7" stroke-width="1.1"/>
<circle cx="1010.6" cy="1237.4" r="3.1" fill="#EFA558" fill-opacity="0.4" stroke="#EFA558" stroke-opacity="0.7" stroke-width="1.1"/>
<circle cx="962.1" cy="1241.3" r="3.1" fill="#EFA558" fill-opacity="0.4" stroke="#EFA558" stroke-opacity="0.7" stroke-width="1.1"/>
<circle cx="1018.5" cy="1252.1" r="3.1" fill="#EFA558" fill-opacity="0.4" stroke="#EFA558" stroke-opacity="0.7" stroke-width="1.1"/>
<circle cx="1065.9" cy="1228.6" r="3.1" fill="#EFA558" fill-opacity="0.4" stroke="#EFA558" stroke-opacity="0.7" stroke-width="1.1"/>
<circle cx="1084.5" cy="1233.5" r="3.1" fill="#EFA558" fill-opacity="0.4" stroke="#EFA558" stroke-opacity="0.7" stroke-width="1.1"/>
<circle cx="1054.7" cy="1278.1" r="3.1" fill="#EFA558" fill-opacity="0.4" stroke="#EFA558" stroke-opacity="0.7" stroke-width="1.1"/>
<circle cx="1041.4" cy="1228.2" r="3.1" fill="#EFA558" fill-opacity="0.4" stroke="#EFA558" stroke-opacity="0.7" stroke-width="1.1"/>
<circle cx="947.4" cy="1078.8" r="3.1" fill="#72C6EC" fill-opacity="0.4" stroke="#72C6EC" stroke-opacity="0.7" stroke-width="1.1"/>
<circle cx="901.9" cy="1121.3" r="3.1" fill="#72C6EC" fill-opacity="0.4" stroke="#72C6EC" stroke-opacity="0.7" stroke-width="1.1"/>
<circle cx="866.7" cy="1141.5" r="3.1" fill="#72C6EC" fill-opacity="0.4" stroke="#72C6EC" stroke-opacity="0.7" stroke-width="1.1"/>
<circle cx="904.9" cy="1141.9" r="3.1" fill="#72C6EC" fill-opacity="0.4" stroke="#72C6EC" stroke-opacity="0.7" stroke-width="1.1"/>
<circle cx="887.2" cy="1150.3" r="3.1" fill="#72C6EC" fill-opacity="0.4" stroke="#72C6EC" stroke-opacity="0.7" stroke-width="1.1"/>
<circle cx="842.2" cy="1160.1" r="3.1" fill="#72C6EC" fill-opacity="0.4" stroke="#72C6EC" stroke-opacity="0.7" stroke-width="1.1"/>
<circle cx="948.9" cy="1155.6" r="3.1" fill="#72C6EC" fill-opacity="0.4" stroke="#72C6EC" stroke-opacity="0.7" stroke-width="1.1"/>
<circle cx="818.7" cy="1200.2" r="3.1" fill="#72C6EC" fill-opacity="0.4" stroke="#72C6EC" stroke-opacity="0.7" stroke-width="1.1"/>
<circle cx="829.5" cy="1215.3" r="3.1" fill="#72C6EC" fill-opacity="0.4" stroke="#72C6EC" stroke-opacity="0.7" stroke-width="1.1"/>
<circle cx="854.9" cy="1216.9" r="3.1" fill="#72C6EC" fill-opacity="0.4" stroke="#72C6EC" stroke-opacity="0.7" stroke-width="1.1"/>
<circle cx="923.5" cy="1214.9" r="3.1" fill="#72C6EC" fill-opacity="0.4" stroke="#72C6EC" stroke-opacity="0.7" stroke-width="1.1"/>
<circle cx="860.4" cy="1259.0" r="3.1" fill="#72C6EC" fill-opacity="0.4" stroke="#72C6EC" stroke-opacity="0.7" stroke-width="1.1"/>
<circle cx="935.2" cy="1275.6" r="3.1" fill="#72C6EC" fill-opacity="0.4" stroke="#72C6EC" stroke-opacity="0.7" stroke-width="1.1"/>
<circle cx="887.8" cy="1331.8" r="3.1" fill="#72C6EC" fill-opacity="0.4" stroke="#72C6EC" stroke-opacity="0.7" stroke-width="1.1"/>
<circle cx="934.2" cy="1159.1" r="3.1" fill="#72C6EC" fill-opacity="0.4" stroke="#72C6EC" stroke-opacity="0.7" stroke-width="1.1"/>
<circle cx="958.7" cy="1118.6" r="3.1" fill="#72C6EC" fill-opacity="0.4" stroke="#72C6EC" stroke-opacity="0.7" stroke-width="1.1"/>
<circle cx="964.2" cy="1116.6" r="3.1" fill="#72C6EC" fill-opacity="0.4" stroke="#72C6EC" stroke-opacity="0.7" stroke-width="1.1"/>
<circle cx="962.1" cy="1162.0" r="3.1" fill="#72C6EC" fill-opacity="0.4" stroke="#72C6EC" stroke-opacity="0.7" stroke-width="1.1"/>
<circle cx="971.9" cy="1169.3" r="3.1" fill="#72C6EC" fill-opacity="0.4" stroke="#72C6EC" stroke-opacity="0.7" stroke-width="1.1"/>
<circle cx="1041.0" cy="1151.3" r="3.1" fill="#72C6EC" fill-opacity="0.4" stroke="#72C6EC" stroke-opacity="0.7" stroke-width="1.1"/>
<circle cx="1041.0" cy="1155.6" r="3.1" fill="#72C6EC" fill-opacity="0.4" stroke="#72C6EC" stroke-opacity="0.7" stroke-width="1.1"/>
<circle cx="1024.7" cy="1199.2" r="3.1" fill="#72C6EC" fill-opacity="0.4" stroke="#72C6EC" stroke-opacity="0.7" stroke-width="1.1"/>
<circle cx="1037.5" cy="1201.6" r="3.1" fill="#72C6EC" fill-opacity="0.4" stroke="#72C6EC" stroke-opacity="0.7" stroke-width="1.1"/>
<circle cx="1059.6" cy="1204.1" r="3.1" fill="#72C6EC" fill-opacity="0.4" stroke="#72C6EC" stroke-opacity="0.7" stroke-width="1.1"/>
<circle cx="979.7" cy="1223.1" r="3.1" fill="#72C6EC" fill-opacity="0.4" stroke="#72C6EC" stroke-opacity="0.7" stroke-width="1.1"/>
<circle cx="996.3" cy="1239.4" r="3.1" fill="#72C6EC" fill-opacity="0.4" stroke="#72C6EC" stroke-opacity="0.7" stroke-width="1.1"/>
<circle cx="1010.6" cy="1240.4" r="3.1" fill="#72C6EC" fill-opacity="0.4" stroke="#72C6EC" stroke-opacity="0.7" stroke-width="1.1"/>
<circle cx="1035.5" cy="1247.8" r="3.1" fill="#72C6EC" fill-opacity="0.4" stroke="#72C6EC" stroke-opacity="0.7" stroke-width="1.1"/>
<circle cx="1038.4" cy="1245.6" r="3.1" fill="#72C6EC" fill-opacity="0.4" stroke="#72C6EC" stroke-opacity="0.7" stroke-width="1.1"/>
<circle cx="1065.9" cy="1247.8" r="3.1" fill="#72C6EC" fill-opacity="0.4" stroke="#72C6EC" stroke-opacity="0.7" stroke-width="1.1"/>
<circle cx="1084.5" cy="1245.6" r="3.1" fill="#72C6EC" fill-opacity="0.4" stroke="#72C6EC" stroke-opacity="0.7" stroke-width="1.1"/>
<circle cx="1018.5" cy="1277.6" r="3.1" fill="#72C6EC" fill-opacity="0.4" stroke="#72C6EC" stroke-opacity="0.7" stroke-width="1.1"/>
<circle cx="954.8" cy="1312.8" r="3.1" fill="#72C6EC" fill-opacity="0.4" stroke="#72C6EC" stroke-opacity="0.7" stroke-width="1.1"/>
<circle cx="988.1" cy="1218.8" r="3.1" fill="#72C6EC" fill-opacity="0.4" stroke="#72C6EC" stroke-opacity="0.7" stroke-width="1.1"/>
<circle cx="866.7" cy="1099.4" r="3.1" fill="#4A62A8" fill-opacity="0.4" stroke="#4A62A8" stroke-opacity="0.7" stroke-width="1.1"/>
<circle cx="947.4" cy="1083.1" r="3.1" fill="#4A62A8" fill-opacity="0.4" stroke="#4A62A8" stroke-opacity="0.7" stroke-width="1.1"/>
<circle cx="829.5" cy="1148.3" r="3.1" fill="#4A62A8" fill-opacity="0.4" stroke="#4A62A8" stroke-opacity="0.7" stroke-width="1.1"/>
<circle cx="842.2" cy="1146.4" r="3.1" fill="#4A62A8" fill-opacity="0.4" stroke="#4A62A8" stroke-opacity="0.7" stroke-width="1.1"/>
<circle cx="893.1" cy="1148.3" r="3.1" fill="#4A62A8" fill-opacity="0.4" stroke="#4A62A8" stroke-opacity="0.7" stroke-width="1.1"/>
<circle cx="904.9" cy="1153.2" r="3.1" fill="#4A62A8" fill-opacity="0.4" stroke="#4A62A8" stroke-opacity="0.7" stroke-width="1.1"/>
<circle cx="901.9" cy="1167.3" r="3.1" fill="#4A62A8" fill-opacity="0.4" stroke="#4A62A8" stroke-opacity="0.7" stroke-width="1.1"/>
<circle cx="926.8" cy="1159.7" r="3.1" fill="#4A62A8" fill-opacity="0.4" stroke="#4A62A8" stroke-opacity="0.7" stroke-width="1.1"/>
<circle cx="937.2" cy="1158.1" r="3.1" fill="#4A62A8" fill-opacity="0.4" stroke="#4A62A8" stroke-opacity="0.7" stroke-width="1.1"/>
<circle cx="948.9" cy="1162.6" r="3.1" fill="#4A62A8" fill-opacity="0.4" stroke="#4A62A8" stroke-opacity="0.7" stroke-width="1.1"/>
<circle cx="854.9" cy="1193.4" r="3.1" fill="#4A62A8" fill-opacity="0.4" stroke="#4A62A8" stroke-opacity="0.7" stroke-width="1.1"/>
<circle cx="860.8" cy="1209.0" r="3.1" fill="#4A62A8" fill-opacity="0.4" stroke="#4A62A8" stroke-opacity="0.7" stroke-width="1.1"/>
<circle cx="878.8" cy="1225.3" r="3.1" fill="#4A62A8" fill-opacity="0.4" stroke="#4A62A8" stroke-opacity="0.7" stroke-width="1.1"/>
<circle cx="887.8" cy="1220.4" r="3.1" fill="#4A62A8" fill-opacity="0.4" stroke="#4A62A8" stroke-opacity="0.7" stroke-width="1.1"/>
<circle cx="868.1" cy="1235.5" r="3.1" fill="#4A62A8" fill-opacity="0.4" stroke="#4A62A8" stroke-opacity="0.7" stroke-width="1.1"/>
<circle cx="923.5" cy="1236.8" r="3.1" fill="#4A62A8" fill-opacity="0.4" stroke="#4A62A8" stroke-opacity="0.7" stroke-width="1.1"/>
<circle cx="934.2" cy="1210.6" r="3.1" fill="#4A62A8" fill-opacity="0.4" stroke="#4A62A8" stroke-opacity="0.7" stroke-width="1.1"/>
<circle cx="937.6" cy="1219.8" r="3.1" fill="#4A62A8" fill-opacity="0.4" stroke="#4A62A8" stroke-opacity="0.7" stroke-width="1.1"/>
<circle cx="935.2" cy="1244.3" r="3.1" fill="#4A62A8" fill-opacity="0.4" stroke="#4A62A8" stroke-opacity="0.7" stroke-width="1.1"/>
<circle cx="953.8" cy="1244.3" r="3.1" fill="#4A62A8" fill-opacity="0.4" stroke="#4A62A8" stroke-opacity="0.7" stroke-width="1.1"/>
<circle cx="818.7" cy="1251.1" r="3.1" fill="#4A62A8" fill-opacity="0.4" stroke="#4A62A8" stroke-opacity="0.7" stroke-width="1.1"/>
<circle cx="964.2" cy="1138.5" r="3.1" fill="#4A62A8" fill-opacity="0.4" stroke="#4A62A8" stroke-opacity="0.7" stroke-width="1.1"/>
<circle cx="958.7" cy="1174.2" r="3.1" fill="#4A62A8" fill-opacity="0.4" stroke="#4A62A8" stroke-opacity="0.7" stroke-width="1.1"/>
<circle cx="1041.0" cy="1190.4" r="3.1" fill="#4A62A8" fill-opacity="0.4" stroke="#4A62A8" stroke-opacity="0.7" stroke-width="1.1"/>
<circle cx="1041.0" cy="1202.2" r="3.1" fill="#4A62A8" fill-opacity="0.4" stroke="#4A62A8" stroke-opacity="0.7" stroke-width="1.1"/>
<circle cx="961.7" cy="1212.4" r="3.1" fill="#4A62A8" fill-opacity="0.4" stroke="#4A62A8" stroke-opacity="0.7" stroke-width="1.1"/>
<circle cx="988.7" cy="1210.6" r="3.1" fill="#4A62A8" fill-opacity="0.4" stroke="#4A62A8" stroke-opacity="0.7" stroke-width="1.1"/>
<circle cx="982.2" cy="1203.2" r="3.1" fill="#4A62A8" fill-opacity="0.4" stroke="#4A62A8" stroke-opacity="0.7" stroke-width="1.1"/>
<circle cx="1024.7" cy="1218.8" r="3.1" fill="#4A62A8" fill-opacity="0.4" stroke="#4A62A8" stroke-opacity="0.7" stroke-width="1.1"/>
<circle cx="1032.6" cy="1217.2" r="3.1" fill="#4A62A8" fill-opacity="0.4" stroke="#4A62A8" stroke-opacity="0.7" stroke-width="1.1"/>
<circle cx="996.3" cy="1227.2" r="3.1" fill="#4A62A8" fill-opacity="0.4" stroke="#4A62A8" stroke-opacity="0.7" stroke-width="1.1"/>
<circle cx="981.9" cy="1230.2" r="3.1" fill="#4A62A8" fill-opacity="0.4" stroke="#4A62A8" stroke-opacity="0.7" stroke-width="1.1"/>
<circle cx="1004.2" cy="1230.2" r="3.1" fill="#4A62A8" fill-opacity="0.4" stroke="#4A62A8" stroke-opacity="0.7" stroke-width="1.1"/>
<circle cx="1010.6" cy="1231.5" r="3.1" fill="#4A62A8" fill-opacity="0.4" stroke="#4A62A8" stroke-opacity="0.7" stroke-width="1.1"/>
<circle cx="979.7" cy="1236.8" r="3.1" fill="#4A62A8" fill-opacity="0.4" stroke="#4A62A8" stroke-opacity="0.7" stroke-width="1.1"/>
<circle cx="988.5" cy="1241.7" r="3.1" fill="#4A62A8" fill-opacity="0.4" stroke="#4A62A8" stroke-opacity="0.7" stroke-width="1.1"/>
<circle cx="971.9" cy="1246.6" r="3.1" fill="#4A62A8" fill-opacity="0.4" stroke="#4A62A8" stroke-opacity="0.7" stroke-width="1.1"/>
<circle cx="974.4" cy="1249.6" r="3.1" fill="#4A62A8" fill-opacity="0.4" stroke="#4A62A8" stroke-opacity="0.7" stroke-width="1.1"/>
<circle cx="1037.5" cy="1238.4" r="3.1" fill="#4A62A8" fill-opacity="0.4" stroke="#4A62A8" stroke-opacity="0.7" stroke-width="1.1"/>
<circle cx="1054.7" cy="1241.9" r="3.1" fill="#4A62A8" fill-opacity="0.4" stroke="#4A62A8" stroke-opacity="0.7" stroke-width="1.1"/>
<circle cx="1059.6" cy="1247.8" r="3.1" fill="#4A62A8" fill-opacity="0.4" stroke="#4A62A8" stroke-opacity="0.7" stroke-width="1.1"/>
<circle cx="1038.4" cy="1253.1" r="3.1" fill="#4A62A8" fill-opacity="0.4" stroke="#4A62A8" stroke-opacity="0.7" stroke-width="1.1"/>
<circle cx="1035.5" cy="1258.0" r="3.1" fill="#4A62A8" fill-opacity="0.4" stroke="#4A62A8" stroke-opacity="0.7" stroke-width="1.1"/>
<circle cx="1018.5" cy="1262.9" r="3.1" fill="#4A62A8" fill-opacity="0.4" stroke="#4A62A8" stroke-opacity="0.7" stroke-width="1.1"/>
<circle cx="1065.9" cy="1262.9" r="3.1" fill="#4A62A8" fill-opacity="0.4" stroke="#4A62A8" stroke-opacity="0.7" stroke-width="1.1"/>
<circle cx="1084.5" cy="1258.0" r="3.1" fill="#4A62A8" fill-opacity="0.4" stroke="#4A62A8" stroke-opacity="0.7" stroke-width="1.1"/>
<circle cx="1082.5" cy="1269.3" r="3.1" fill="#4A62A8" fill-opacity="0.4" stroke="#4A62A8" stroke-opacity="0.7" stroke-width="1.1"/>
<line x1="818.8" y1="1187.4" x2="1084.1" y2="1197.2" stroke="#D63B2F" stroke-width="3.2"/>
<line x1="818.8" y1="1162.8" x2="1084.1" y2="1221" stroke="#E8922F" stroke-width="3.2"/>
<line x1="818.8" y1="1178.1" x2="1084.1" y2="1222.4" stroke="#5BB6E2" stroke-width="3.2"/>
<line x1="818.8" y1="1165" x2="1084.1" y2="1246.5" stroke="#1D3A8C" stroke-width="3.2"/>
<text x="820.7" y="1274.4" font-size="13.8" text-anchor="start" fill="#CF5D55" textLength="129.4" lengthAdjust="spacingAndGlyphs"><tspan font-style="italic">r</tspan> = –0.077, <tspan font-style="italic">P</tspan> = 0.59</text>
<text x="820.7" y="1291.6" font-size="13.8" text-anchor="start" fill="#E6A460" textLength="132.7" lengthAdjust="spacingAndGlyphs"><tspan font-style="italic">r</tspan> = –0.37, <tspan font-style="italic">P</tspan> = 0.006</text>
<text x="820.7" y="1309.9" font-size="13.8" text-anchor="start" fill="#6DBCE4" textLength="134.0" lengthAdjust="spacingAndGlyphs"><tspan font-style="italic">r</tspan> = –0.23, <tspan font-style="italic">P</tspan> = 0.096</text>
<text x="820.7" y="1327.7" font-size="13.8" text-anchor="start" fill="#42568E" textLength="125.3" lengthAdjust="spacingAndGlyphs"><tspan font-style="italic">r</tspan> = –0.5, <tspan font-style="italic">P</tspan> &lt; 0.004</text>
<rect x="805.5" y="1038.6" width="292.3" height="27.9" fill="#fff" stroke="#555" stroke-width="1.2"/>
<text x="951.6" y="1057.9" font-size="18" text-anchor="middle" fill="#1a1a1a">Residential area</text>
<line x1="805.5" y1="1066.5" x2="805.5" y2="1345" stroke="#555" stroke-width="1.3"/>
<line x1="804.9" y1="1345" x2="1097.8" y2="1345" stroke="#555" stroke-width="1.3"/>
<line x1="800.0" y1="1111.6" x2="805.5" y2="1111.6" stroke="#555" stroke-width="1.2"/>
<text x="791.0" y="1116.9" font-size="15" text-anchor="end" fill="#1a1a1a">2</text>
<line x1="800.0" y1="1159.5" x2="805.5" y2="1159.5" stroke="#555" stroke-width="1.2"/>
<text x="791.0" y="1164.8" font-size="15" text-anchor="end" fill="#1a1a1a">1</text>
<line x1="800.0" y1="1207.4" x2="805.5" y2="1207.4" stroke="#555" stroke-width="1.2"/>
<text x="791.0" y="1212.7" font-size="15" text-anchor="end" fill="#1a1a1a">0</text>
<line x1="800.0" y1="1254.7" x2="805.5" y2="1254.7" stroke="#555" stroke-width="1.2"/>
<text x="791.0" y="1260.0" font-size="15" text-anchor="end" fill="#1a1a1a">–1</text>
<line x1="800.0" y1="1302.5" x2="805.5" y2="1302.5" stroke="#555" stroke-width="1.2"/>
<text x="791.0" y="1307.8" font-size="15" text-anchor="end" fill="#1a1a1a">–2</text>
<line x1="850.8" y1="1345" x2="850.8" y2="1350.5" stroke="#555" stroke-width="1.2"/>
<text x="850.8" y="1372.5" font-size="15" text-anchor="middle" fill="#1a1a1a" textLength="31.5" lengthAdjust="spacingAndGlyphs">7.50</text>
<line x1="911.3" y1="1345" x2="911.3" y2="1350.5" stroke="#555" stroke-width="1.2"/>
<text x="911.3" y="1372.5" font-size="15" text-anchor="middle" fill="#1a1a1a" textLength="31.5" lengthAdjust="spacingAndGlyphs">7.75</text>
<line x1="971.4" y1="1345" x2="971.4" y2="1350.5" stroke="#555" stroke-width="1.2"/>
<text x="971.4" y="1372.5" font-size="15" text-anchor="middle" fill="#1a1a1a" textLength="31.5" lengthAdjust="spacingAndGlyphs">8.00</text>
<line x1="1032.2" y1="1345" x2="1032.2" y2="1350.5" stroke="#555" stroke-width="1.2"/>
<text x="1032.2" y="1372.5" font-size="15" text-anchor="middle" fill="#1a1a1a" textLength="31.5" lengthAdjust="spacingAndGlyphs">8.25</text>
<line x1="1092.3" y1="1345" x2="1092.3" y2="1350.5" stroke="#555" stroke-width="1.2"/>
<text x="1092.3" y="1372.5" font-size="15" text-anchor="middle" fill="#1a1a1a" textLength="31.5" lengthAdjust="spacingAndGlyphs">8.50</text>
<polygon points="1151.7,1149.0 1162.7,1151.3 1173.8,1153.6 1184.8,1155.9 1195.8,1158.1 1206.9,1160.4 1217.9,1162.6 1228.9,1164.7 1240.0,1166.7 1251.0,1168.7 1262.0,1170.5 1273.1,1172.1 1284.1,1173.4 1295.1,1174.3 1306.2,1174.7 1317.2,1174.7 1328.2,1174.3 1339.3,1173.6 1350.3,1172.6 1361.3,1171.5 1372.4,1170.3 1383.4,1169.1 1394.4,1167.7 1405.5,1166.4 1416.5,1165.0 1416.5,1210.4 1405.5,1208.0 1394.4,1205.7 1383.4,1203.4 1372.4,1201.2 1361.3,1199.0 1350.3,1196.9 1339.3,1195.0 1328.2,1193.3 1317.2,1191.9 1306.2,1190.9 1295.1,1190.4 1284.1,1190.3 1273.1,1190.6 1262.0,1191.2 1251.0,1192.1 1240.0,1193.1 1228.9,1194.1 1217.9,1195.3 1206.9,1196.5 1195.8,1197.8 1184.8,1199.0 1173.8,1200.3 1162.7,1201.7 1151.7,1203.0" fill="#8c8c8c" opacity="0.17"/>
<polygon points="1151.7,1108.7 1162.7,1114.9 1173.8,1121.0 1184.8,1127.2 1195.8,1133.3 1206.9,1139.4 1217.9,1145.5 1228.9,1151.5 1240.0,1157.4 1251.0,1163.2 1262.0,1168.9 1273.1,1174.3 1284.1,1179.5 1295.1,1184.3 1306.2,1188.6 1317.2,1192.5 1328.2,1196.1 1339.3,1199.5 1350.3,1202.6 1361.3,1205.6 1372.4,1208.5 1383.4,1211.4 1394.4,1214.1 1405.5,1216.9 1416.5,1219.6 1416.5,1260.8 1405.5,1254.8 1394.4,1248.8 1383.4,1242.9 1372.4,1237.0 1361.3,1231.2 1350.3,1225.5 1339.3,1220.0 1328.2,1214.6 1317.2,1209.5 1306.2,1204.7 1295.1,1200.3 1284.1,1196.4 1273.1,1192.9 1262.0,1189.6 1251.0,1186.6 1240.0,1183.7 1228.9,1180.9 1217.9,1178.2 1206.9,1175.5 1195.8,1172.9 1184.8,1170.3 1173.8,1167.8 1162.7,1165.2 1151.7,1162.7" fill="#8c8c8c" opacity="0.17"/>
<polygon points="1151.7,1103.0 1162.7,1108.2 1173.8,1113.4 1184.8,1118.5 1195.8,1123.6 1206.9,1128.7 1217.9,1133.8 1228.9,1138.8 1240.0,1143.7 1251.0,1148.6 1262.0,1153.3 1273.1,1157.7 1284.1,1161.9 1295.1,1165.7 1306.2,1169.0 1317.2,1172.0 1328.2,1174.6 1339.3,1177.1 1350.3,1179.3 1361.3,1181.4 1372.4,1183.3 1383.4,1185.2 1394.4,1187.1 1405.5,1188.9 1416.5,1190.7 1416.5,1230.7 1405.5,1225.8 1394.4,1220.9 1383.4,1216.0 1372.4,1211.2 1361.3,1206.4 1350.3,1201.8 1339.3,1197.3 1328.2,1193.0 1317.2,1188.9 1306.2,1185.1 1295.1,1181.8 1284.1,1178.8 1273.1,1176.3 1262.0,1174.0 1251.0,1172.0 1240.0,1170.1 1228.9,1168.3 1217.9,1166.5 1206.9,1164.9 1195.8,1163.3 1184.8,1161.7 1173.8,1160.1 1162.7,1158.5 1151.7,1157.0" fill="#8c8c8c" opacity="0.17"/>
<polygon points="1151.7,1078.6 1162.7,1086.0 1173.8,1093.4 1184.8,1100.8 1195.8,1108.1 1206.9,1115.4 1217.9,1122.7 1228.9,1129.9 1240.0,1137.1 1251.0,1144.1 1262.0,1151.0 1273.1,1157.7 1284.1,1164.0 1295.1,1169.9 1306.2,1175.3 1317.2,1180.3 1328.2,1184.9 1339.3,1189.3 1350.3,1193.4 1361.3,1197.5 1372.4,1201.4 1383.4,1205.2 1394.4,1209.0 1405.5,1212.8 1416.5,1216.5 1416.5,1258.5 1405.5,1251.4 1394.4,1244.3 1383.4,1237.3 1372.4,1230.3 1361.3,1223.4 1350.3,1216.6 1339.3,1209.9 1328.2,1203.5 1317.2,1197.3 1306.2,1191.4 1295.1,1186.0 1284.1,1181.1 1273.1,1176.6 1262.0,1172.4 1251.0,1168.5 1240.0,1164.7 1228.9,1161.1 1217.9,1157.5 1206.9,1153.9 1195.8,1150.4 1184.8,1146.9 1173.8,1143.5 1162.7,1140.0 1151.7,1136.6" fill="#8c8c8c" opacity="0.17"/>
<circle cx="1272.1" cy="1103.9" r="3.1" fill="#E0504A" fill-opacity="0.4" stroke="#E0504A" stroke-opacity="0.7" stroke-width="1.1"/>
<circle cx="1187.0" cy="1145.0" r="3.1" fill="#E0504A" fill-opacity="0.4" stroke="#E0504A" stroke-opacity="0.7" stroke-width="1.1"/>
<circle cx="1249.0" cy="1149.3" r="3.1" fill="#E0504A" fill-opacity="0.4" stroke="#E0504A" stroke-opacity="0.7" stroke-width="1.1"/>
<circle cx="1267.8" cy="1150.7" r="3.1" fill="#E0504A" fill-opacity="0.4" stroke="#E0504A" stroke-opacity="0.7" stroke-width="1.1"/>
<circle cx="1273.1" cy="1152.8" r="3.1" fill="#E0504A" fill-opacity="0.4" stroke="#E0504A" stroke-opacity="0.7" stroke-width="1.1"/>
<circle cx="1202.6" cy="1167.3" r="3.1" fill="#E0504A" fill-opacity="0.4" stroke="#E0504A" stroke-opacity="0.7" stroke-width="1.1"/>
<circle cx="1248.2" cy="1172.2" r="3.1" fill="#E0504A" fill-opacity="0.4" stroke="#E0504A" stroke-opacity="0.7" stroke-width="1.1"/>
<circle cx="1261.4" cy="1187.5" r="3.1" fill="#E0504A" fill-opacity="0.4" stroke="#E0504A" stroke-opacity="0.7" stroke-width="1.1"/>
<circle cx="1150.9" cy="1191.8" r="3.1" fill="#E0504A" fill-opacity="0.4" stroke="#E0504A" stroke-opacity="0.7" stroke-width="1.1"/>
<circle cx="1189.3" cy="1199.8" r="3.1" fill="#E0504A" fill-opacity="0.4" stroke="#E0504A" stroke-opacity="0.7" stroke-width="1.1"/>
<circle cx="1204.0" cy="1205.7" r="3.1" fill="#E0504A" fill-opacity="0.4" stroke="#E0504A" stroke-opacity="0.7" stroke-width="1.1"/>
<circle cx="1237.9" cy="1209.0" r="3.1" fill="#E0504A" fill-opacity="0.4" stroke="#E0504A" stroke-opacity="0.7" stroke-width="1.1"/>
<circle cx="1265.3" cy="1233.5" r="3.1" fill="#E0504A" fill-opacity="0.4" stroke="#E0504A" stroke-opacity="0.7" stroke-width="1.1"/>
<circle cx="1250.2" cy="1240.0" r="3.1" fill="#E0504A" fill-opacity="0.4" stroke="#E0504A" stroke-opacity="0.7" stroke-width="1.1"/>
<circle cx="1416.7" cy="1117.0" r="3.1" fill="#E0504A" fill-opacity="0.4" stroke="#E0504A" stroke-opacity="0.7" stroke-width="1.1"/>
<circle cx="1346.2" cy="1129.7" r="3.1" fill="#E0504A" fill-opacity="0.4" stroke="#E0504A" stroke-opacity="0.7" stroke-width="1.1"/>
<circle cx="1356.0" cy="1136.2" r="3.1" fill="#E0504A" fill-opacity="0.4" stroke="#E0504A" stroke-opacity="0.7" stroke-width="1.1"/>
<circle cx="1306.8" cy="1142.1" r="3.1" fill="#E0504A" fill-opacity="0.4" stroke="#E0504A" stroke-opacity="0.7" stroke-width="1.1"/>
<circle cx="1323.7" cy="1148.3" r="3.1" fill="#E0504A" fill-opacity="0.4" stroke="#E0504A" stroke-opacity="0.7" stroke-width="1.1"/>
<circle cx="1364.6" cy="1143.8" r="3.1" fill="#E0504A" fill-opacity="0.4" stroke="#E0504A" stroke-opacity="0.7" stroke-width="1.1"/>
<circle cx="1383.4" cy="1145.4" r="3.1" fill="#E0504A" fill-opacity="0.4" stroke="#E0504A" stroke-opacity="0.7" stroke-width="1.1"/>
<circle cx="1404.9" cy="1153.6" r="3.1" fill="#E0504A" fill-opacity="0.4" stroke="#E0504A" stroke-opacity="0.7" stroke-width="1.1"/>
<circle cx="1408.6" cy="1166.5" r="3.1" fill="#E0504A" fill-opacity="0.4" stroke="#E0504A" stroke-opacity="0.7" stroke-width="1.1"/>
<circle cx="1292.7" cy="1154.6" r="3.1" fill="#E0504A" fill-opacity="0.4" stroke="#E0504A" stroke-opacity="0.7" stroke-width="1.1"/>
<circle cx="1383.4" cy="1179.3" r="3.1" fill="#E0504A" fill-opacity="0.4" stroke="#E0504A" stroke-opacity="0.7" stroke-width="1.1"/>
<circle cx="1352.1" cy="1182.0" r="3.1" fill="#E0504A" fill-opacity="0.4" stroke="#E0504A" stroke-opacity="0.7" stroke-width="1.1"/>
<circle cx="1370.1" cy="1193.9" r="3.1" fill="#E0504A" fill-opacity="0.4" stroke="#E0504A" stroke-opacity="0.7" stroke-width="1.1"/>
<circle cx="1392.6" cy="1193.9" r="3.1" fill="#E0504A" fill-opacity="0.4" stroke="#E0504A" stroke-opacity="0.7" stroke-width="1.1"/>
<circle cx="1392.6" cy="1198.8" r="3.1" fill="#E0504A" fill-opacity="0.4" stroke="#E0504A" stroke-opacity="0.7" stroke-width="1.1"/>
<circle cx="1313.7" cy="1194.7" r="3.1" fill="#E0504A" fill-opacity="0.4" stroke="#E0504A" stroke-opacity="0.7" stroke-width="1.1"/>
<circle cx="1320.1" cy="1206.1" r="3.1" fill="#E0504A" fill-opacity="0.4" stroke="#E0504A" stroke-opacity="0.7" stroke-width="1.1"/>
<circle cx="1316.8" cy="1224.7" r="3.1" fill="#E0504A" fill-opacity="0.4" stroke="#E0504A" stroke-opacity="0.7" stroke-width="1.1"/>
<circle cx="1352.4" cy="1224.7" r="3.1" fill="#E0504A" fill-opacity="0.4" stroke="#E0504A" stroke-opacity="0.7" stroke-width="1.1"/>
<circle cx="1302.9" cy="1235.9" r="3.1" fill="#E0504A" fill-opacity="0.4" stroke="#E0504A" stroke-opacity="0.7" stroke-width="1.1"/>
<circle cx="1369.1" cy="1227.6" r="3.1" fill="#E0504A" fill-opacity="0.4" stroke="#E0504A" stroke-opacity="0.7" stroke-width="1.1"/>
<circle cx="1388.7" cy="1248.2" r="3.1" fill="#E0504A" fill-opacity="0.4" stroke="#E0504A" stroke-opacity="0.7" stroke-width="1.1"/>
<circle cx="1396.5" cy="1251.1" r="3.1" fill="#E0504A" fill-opacity="0.4" stroke="#E0504A" stroke-opacity="0.7" stroke-width="1.1"/>
<circle cx="1401.4" cy="1210.0" r="3.1" fill="#E0504A" fill-opacity="0.4" stroke="#E0504A" stroke-opacity="0.7" stroke-width="1.1"/>
<circle cx="1397.1" cy="1189.8" r="3.1" fill="#E0504A" fill-opacity="0.4" stroke="#E0504A" stroke-opacity="0.7" stroke-width="1.1"/>
<circle cx="1202.6" cy="1085.7" r="3.1" fill="#EFA558" fill-opacity="0.4" stroke="#EFA558" stroke-opacity="0.7" stroke-width="1.1"/>
<circle cx="1221.6" cy="1106.8" r="3.1" fill="#EFA558" fill-opacity="0.4" stroke="#EFA558" stroke-opacity="0.7" stroke-width="1.1"/>
<circle cx="1213.4" cy="1123.5" r="3.1" fill="#EFA558" fill-opacity="0.4" stroke="#EFA558" stroke-opacity="0.7" stroke-width="1.1"/>
<circle cx="1248.2" cy="1136.2" r="3.1" fill="#EFA558" fill-opacity="0.4" stroke="#EFA558" stroke-opacity="0.7" stroke-width="1.1"/>
<circle cx="1273.1" cy="1148.9" r="3.1" fill="#EFA558" fill-opacity="0.4" stroke="#EFA558" stroke-opacity="0.7" stroke-width="1.1"/>
<circle cx="1187.0" cy="1165.9" r="3.1" fill="#EFA558" fill-opacity="0.4" stroke="#EFA558" stroke-opacity="0.7" stroke-width="1.1"/>
<circle cx="1203.2" cy="1167.3" r="3.1" fill="#EFA558" fill-opacity="0.4" stroke="#EFA558" stroke-opacity="0.7" stroke-width="1.1"/>
<circle cx="1248.2" cy="1169.5" r="3.1" fill="#EFA558" fill-opacity="0.4" stroke="#EFA558" stroke-opacity="0.7" stroke-width="1.1"/>
<circle cx="1150.9" cy="1180.6" r="3.1" fill="#EFA558" fill-opacity="0.4" stroke="#EFA558" stroke-opacity="0.7" stroke-width="1.1"/>
<circle cx="1267.8" cy="1189.8" r="3.1" fill="#EFA558" fill-opacity="0.4" stroke="#EFA558" stroke-opacity="0.7" stroke-width="1.1"/>
<circle cx="1272.1" cy="1195.9" r="3.1" fill="#EFA558" fill-opacity="0.4" stroke="#EFA558" stroke-opacity="0.7" stroke-width="1.1"/>
<circle cx="1265.3" cy="1201.8" r="3.1" fill="#EFA558" fill-opacity="0.4" stroke="#EFA558" stroke-opacity="0.7" stroke-width="1.1"/>
<circle cx="1261.4" cy="1204.7" r="3.1" fill="#EFA558" fill-opacity="0.4" stroke="#EFA558" stroke-opacity="0.7" stroke-width="1.1"/>
<circle cx="1237.9" cy="1181.0" r="3.1" fill="#EFA558" fill-opacity="0.4" stroke="#EFA558" stroke-opacity="0.7" stroke-width="1.1"/>
<circle cx="1189.3" cy="1220.2" r="3.1" fill="#EFA558" fill-opacity="0.4" stroke="#EFA558" stroke-opacity="0.7" stroke-width="1.1"/>
<circle cx="1250.2" cy="1240.9" r="3.1" fill="#EFA558" fill-opacity="0.4" stroke="#EFA558" stroke-opacity="0.7" stroke-width="1.1"/>
<circle cx="1356.0" cy="1143.0" r="3.1" fill="#EFA558" fill-opacity="0.4" stroke="#EFA558" stroke-opacity="0.7" stroke-width="1.1"/>
<circle cx="1346.6" cy="1152.2" r="3.1" fill="#EFA558" fill-opacity="0.4" stroke="#EFA558" stroke-opacity="0.7" stroke-width="1.1"/>
<circle cx="1364.6" cy="1156.7" r="3.1" fill="#EFA558" fill-opacity="0.4" stroke="#EFA558" stroke-opacity="0.7" stroke-width="1.1"/>
<circle cx="1387.7" cy="1150.3" r="3.1" fill="#EFA558" fill-opacity="0.4" stroke="#EFA558" stroke-opacity="0.7" stroke-width="1.1"/>
<circle cx="1309.4" cy="1155.2" r="3.1" fill="#EFA558" fill-opacity="0.4" stroke="#EFA558" stroke-opacity="0.7" stroke-width="1.1"/>
<circle cx="1314.3" cy="1157.5" r="3.1" fill="#EFA558" fill-opacity="0.4" stroke="#EFA558" stroke-opacity="0.7" stroke-width="1.1"/>
<circle cx="1333.8" cy="1174.4" r="3.1" fill="#EFA558" fill-opacity="0.4" stroke="#EFA558" stroke-opacity="0.7" stroke-width="1.1"/>
<circle cx="1302.9" cy="1203.2" r="3.1" fill="#EFA558" fill-opacity="0.4" stroke="#EFA558" stroke-opacity="0.7" stroke-width="1.1"/>
<circle cx="1307.4" cy="1202.6" r="3.1" fill="#EFA558" fill-opacity="0.4" stroke="#EFA558" stroke-opacity="0.7" stroke-width="1.1"/>
<circle cx="1323.5" cy="1209.0" r="3.1" fill="#EFA558" fill-opacity="0.4" stroke="#EFA558" stroke-opacity="0.7" stroke-width="1.1"/>
<circle cx="1331.9" cy="1214.3" r="3.1" fill="#EFA558" fill-opacity="0.4" stroke="#EFA558" stroke-opacity="0.7" stroke-width="1.1"/>
<circle cx="1352.1" cy="1200.6" r="3.1" fill="#EFA558" fill-opacity="0.4" stroke="#EFA558" stroke-opacity="0.7" stroke-width="1.1"/>
<circle cx="1307.4" cy="1213.9" r="3.1" fill="#EFA558" fill-opacity="0.4" stroke="#EFA558" stroke-opacity="0.7" stroke-width="1.1"/>
<circle cx="1347.6" cy="1232.9" r="3.1" fill="#EFA558" fill-opacity="0.4" stroke="#EFA558" stroke-opacity="0.7" stroke-width="1.1"/>
<circle cx="1320.1" cy="1242.3" r="3.1" fill="#EFA558" fill-opacity="0.4" stroke="#EFA558" stroke-opacity="0.7" stroke-width="1.1"/>
<circle cx="1316.8" cy="1247.2" r="3.1" fill="#EFA558" fill-opacity="0.4" stroke="#EFA558" stroke-opacity="0.7" stroke-width="1.1"/>
<circle cx="1383.4" cy="1213.3" r="3.1" fill="#EFA558" fill-opacity="0.4" stroke="#EFA558" stroke-opacity="0.7" stroke-width="1.1"/>
<circle cx="1392.6" cy="1242.3" r="3.1" fill="#EFA558" fill-opacity="0.4" stroke="#EFA558" stroke-opacity="0.7" stroke-width="1.1"/>
<circle cx="1397.1" cy="1247.8" r="3.1" fill="#EFA558" fill-opacity="0.4" stroke="#EFA558" stroke-opacity="0.7" stroke-width="1.1"/>
<circle cx="1369.7" cy="1251.7" r="3.1" fill="#EFA558" fill-opacity="0.4" stroke="#EFA558" stroke-opacity="0.7" stroke-width="1.1"/>
<circle cx="1397.1" cy="1259.0" r="3.1" fill="#EFA558" fill-opacity="0.4" stroke="#EFA558" stroke-opacity="0.7" stroke-width="1.1"/>
<circle cx="1416.7" cy="1250.1" r="3.1" fill="#EFA558" fill-opacity="0.4" stroke="#EFA558" stroke-opacity="0.7" stroke-width="1.1"/>
<circle cx="1405.3" cy="1286.4" r="3.1" fill="#EFA558" fill-opacity="0.4" stroke="#EFA558" stroke-opacity="0.7" stroke-width="1.1"/>
<circle cx="1402.0" cy="1332.0" r="3.1" fill="#EFA558" fill-opacity="0.4" stroke="#EFA558" stroke-opacity="0.7" stroke-width="1.1"/>
<circle cx="1273.1" cy="1110.5" r="3.1" fill="#72C6EC" fill-opacity="0.4" stroke="#72C6EC" stroke-opacity="0.7" stroke-width="1.1"/>
<circle cx="1272.1" cy="1120.3" r="3.1" fill="#72C6EC" fill-opacity="0.4" stroke="#72C6EC" stroke-opacity="0.7" stroke-width="1.1"/>
<circle cx="1204.0" cy="1122.3" r="3.1" fill="#72C6EC" fill-opacity="0.4" stroke="#72C6EC" stroke-opacity="0.7" stroke-width="1.1"/>
<circle cx="1221.6" cy="1134.0" r="3.1" fill="#72C6EC" fill-opacity="0.4" stroke="#72C6EC" stroke-opacity="0.7" stroke-width="1.1"/>
<circle cx="1265.3" cy="1134.6" r="3.1" fill="#72C6EC" fill-opacity="0.4" stroke="#72C6EC" stroke-opacity="0.7" stroke-width="1.1"/>
<circle cx="1248.2" cy="1115.4" r="3.1" fill="#72C6EC" fill-opacity="0.4" stroke="#72C6EC" stroke-opacity="0.7" stroke-width="1.1"/>
<circle cx="1187.0" cy="1163.0" r="3.1" fill="#72C6EC" fill-opacity="0.4" stroke="#72C6EC" stroke-opacity="0.7" stroke-width="1.1"/>
<circle cx="1202.6" cy="1160.1" r="3.1" fill="#72C6EC" fill-opacity="0.4" stroke="#72C6EC" stroke-opacity="0.7" stroke-width="1.1"/>
<circle cx="1150.9" cy="1175.1" r="3.1" fill="#72C6EC" fill-opacity="0.4" stroke="#72C6EC" stroke-opacity="0.7" stroke-width="1.1"/>
<circle cx="1250.2" cy="1184.2" r="3.1" fill="#72C6EC" fill-opacity="0.4" stroke="#72C6EC" stroke-opacity="0.7" stroke-width="1.1"/>
<circle cx="1261.4" cy="1165.9" r="3.1" fill="#72C6EC" fill-opacity="0.4" stroke="#72C6EC" stroke-opacity="0.7" stroke-width="1.1"/>
<circle cx="1267.8" cy="1177.7" r="3.1" fill="#72C6EC" fill-opacity="0.4" stroke="#72C6EC" stroke-opacity="0.7" stroke-width="1.1"/>
<circle cx="1189.3" cy="1231.9" r="3.1" fill="#72C6EC" fill-opacity="0.4" stroke="#72C6EC" stroke-opacity="0.7" stroke-width="1.1"/>
<circle cx="1320.1" cy="1114.1" r="3.1" fill="#72C6EC" fill-opacity="0.4" stroke="#72C6EC" stroke-opacity="0.7" stroke-width="1.1"/>
<circle cx="1317.2" cy="1128.7" r="3.1" fill="#72C6EC" fill-opacity="0.4" stroke="#72C6EC" stroke-opacity="0.7" stroke-width="1.1"/>
<circle cx="1352.8" cy="1127.4" r="3.1" fill="#72C6EC" fill-opacity="0.4" stroke="#72C6EC" stroke-opacity="0.7" stroke-width="1.1"/>
<circle cx="1347.6" cy="1134.6" r="3.1" fill="#72C6EC" fill-opacity="0.4" stroke="#72C6EC" stroke-opacity="0.7" stroke-width="1.1"/>
<circle cx="1370.5" cy="1148.3" r="3.1" fill="#72C6EC" fill-opacity="0.4" stroke="#72C6EC" stroke-opacity="0.7" stroke-width="1.1"/>
<circle cx="1288.8" cy="1157.5" r="3.1" fill="#72C6EC" fill-opacity="0.4" stroke="#72C6EC" stroke-opacity="0.7" stroke-width="1.1"/>
<circle cx="1302.9" cy="1158.5" r="3.1" fill="#72C6EC" fill-opacity="0.4" stroke="#72C6EC" stroke-opacity="0.7" stroke-width="1.1"/>
<circle cx="1331.9" cy="1164.4" r="3.1" fill="#72C6EC" fill-opacity="0.4" stroke="#72C6EC" stroke-opacity="0.7" stroke-width="1.1"/>
<circle cx="1364.6" cy="1166.5" r="3.1" fill="#72C6EC" fill-opacity="0.4" stroke="#72C6EC" stroke-opacity="0.7" stroke-width="1.1"/>
<circle cx="1383.4" cy="1152.8" r="3.1" fill="#72C6EC" fill-opacity="0.4" stroke="#72C6EC" stroke-opacity="0.7" stroke-width="1.1"/>
<circle cx="1383.4" cy="1160.1" r="3.1" fill="#72C6EC" fill-opacity="0.4" stroke="#72C6EC" stroke-opacity="0.7" stroke-width="1.1"/>
<circle cx="1313.3" cy="1176.7" r="3.1" fill="#72C6EC" fill-opacity="0.4" stroke="#72C6EC" stroke-opacity="0.7" stroke-width="1.1"/>
<circle cx="1352.4" cy="1175.3" r="3.1" fill="#72C6EC" fill-opacity="0.4" stroke="#72C6EC" stroke-opacity="0.7" stroke-width="1.1"/>
<circle cx="1333.8" cy="1191.4" r="3.1" fill="#72C6EC" fill-opacity="0.4" stroke="#72C6EC" stroke-opacity="0.7" stroke-width="1.1"/>
<circle cx="1371.1" cy="1205.1" r="3.1" fill="#72C6EC" fill-opacity="0.4" stroke="#72C6EC" stroke-opacity="0.7" stroke-width="1.1"/>
<circle cx="1392.6" cy="1220.8" r="3.1" fill="#72C6EC" fill-opacity="0.4" stroke="#72C6EC" stroke-opacity="0.7" stroke-width="1.1"/>
<circle cx="1397.1" cy="1239.4" r="3.1" fill="#72C6EC" fill-opacity="0.4" stroke="#72C6EC" stroke-opacity="0.7" stroke-width="1.1"/>
<circle cx="1369.1" cy="1242.3" r="3.1" fill="#72C6EC" fill-opacity="0.4" stroke="#72C6EC" stroke-opacity="0.7" stroke-width="1.1"/>
<circle cx="1367.1" cy="1249.2" r="3.1" fill="#72C6EC" fill-opacity="0.4" stroke="#72C6EC" stroke-opacity="0.7" stroke-width="1.1"/>
<circle cx="1405.3" cy="1259.5" r="3.1" fill="#72C6EC" fill-opacity="0.4" stroke="#72C6EC" stroke-opacity="0.7" stroke-width="1.1"/>
<circle cx="1408.3" cy="1211.0" r="3.1" fill="#72C6EC" fill-opacity="0.4" stroke="#72C6EC" stroke-opacity="0.7" stroke-width="1.1"/>
<circle cx="1416.7" cy="1253.1" r="3.1" fill="#72C6EC" fill-opacity="0.4" stroke="#72C6EC" stroke-opacity="0.7" stroke-width="1.1"/>
<circle cx="1402.0" cy="1300.5" r="3.1" fill="#72C6EC" fill-opacity="0.4" stroke="#72C6EC" stroke-opacity="0.7" stroke-width="1.1"/>
<circle cx="1249.0" cy="1103.3" r="3.1" fill="#4A62A8" fill-opacity="0.4" stroke="#4A62A8" stroke-opacity="0.7" stroke-width="1.1"/>
<circle cx="1213.4" cy="1112.1" r="3.1" fill="#4A62A8" fill-opacity="0.4" stroke="#4A62A8" stroke-opacity="0.7" stroke-width="1.1"/>
<circle cx="1250.0" cy="1117.0" r="3.1" fill="#4A62A8" fill-opacity="0.4" stroke="#4A62A8" stroke-opacity="0.7" stroke-width="1.1"/>
<circle cx="1272.1" cy="1115.4" r="3.1" fill="#4A62A8" fill-opacity="0.4" stroke="#4A62A8" stroke-opacity="0.7" stroke-width="1.1"/>
<circle cx="1248.2" cy="1128.2" r="3.1" fill="#4A62A8" fill-opacity="0.4" stroke="#4A62A8" stroke-opacity="0.7" stroke-width="1.1"/>
<circle cx="1265.3" cy="1127.8" r="3.1" fill="#4A62A8" fill-opacity="0.4" stroke="#4A62A8" stroke-opacity="0.7" stroke-width="1.1"/>
<circle cx="1187.0" cy="1138.5" r="3.1" fill="#4A62A8" fill-opacity="0.4" stroke="#4A62A8" stroke-opacity="0.7" stroke-width="1.1"/>
<circle cx="1204.0" cy="1150.9" r="3.1" fill="#4A62A8" fill-opacity="0.4" stroke="#4A62A8" stroke-opacity="0.7" stroke-width="1.1"/>
<circle cx="1237.9" cy="1162.0" r="3.1" fill="#4A62A8" fill-opacity="0.4" stroke="#4A62A8" stroke-opacity="0.7" stroke-width="1.1"/>
<circle cx="1221.6" cy="1168.9" r="3.1" fill="#4A62A8" fill-opacity="0.4" stroke="#4A62A8" stroke-opacity="0.7" stroke-width="1.1"/>
<circle cx="1213.4" cy="1175.7" r="3.1" fill="#4A62A8" fill-opacity="0.4" stroke="#4A62A8" stroke-opacity="0.7" stroke-width="1.1"/>
<circle cx="1273.1" cy="1175.7" r="3.1" fill="#4A62A8" fill-opacity="0.4" stroke="#4A62A8" stroke-opacity="0.7" stroke-width="1.1"/>
<circle cx="1188.9" cy="1184.5" r="3.1" fill="#4A62A8" fill-opacity="0.4" stroke="#4A62A8" stroke-opacity="0.7" stroke-width="1.1"/>
<circle cx="1261.4" cy="1208.0" r="3.1" fill="#4A62A8" fill-opacity="0.4" stroke="#4A62A8" stroke-opacity="0.7" stroke-width="1.1"/>
<circle cx="1267.6" cy="1239.8" r="3.1" fill="#4A62A8" fill-opacity="0.4" stroke="#4A62A8" stroke-opacity="0.7" stroke-width="1.1"/>
<circle cx="1150.9" cy="1132.1" r="3.1" fill="#4A62A8" fill-opacity="0.4" stroke="#4A62A8" stroke-opacity="0.7" stroke-width="1.1"/>
<circle cx="1202.6" cy="1133.6" r="3.1" fill="#4A62A8" fill-opacity="0.4" stroke="#4A62A8" stroke-opacity="0.7" stroke-width="1.1"/>
<circle cx="1331.9" cy="1083.7" r="3.1" fill="#4A62A8" fill-opacity="0.4" stroke="#4A62A8" stroke-opacity="0.7" stroke-width="1.1"/>
<circle cx="1306.8" cy="1098.0" r="3.1" fill="#4A62A8" fill-opacity="0.4" stroke="#4A62A8" stroke-opacity="0.7" stroke-width="1.1"/>
<circle cx="1302.9" cy="1117.4" r="3.1" fill="#4A62A8" fill-opacity="0.4" stroke="#4A62A8" stroke-opacity="0.7" stroke-width="1.1"/>
<circle cx="1307.4" cy="1131.7" r="3.1" fill="#4A62A8" fill-opacity="0.4" stroke="#4A62A8" stroke-opacity="0.7" stroke-width="1.1"/>
<circle cx="1307.0" cy="1136.6" r="3.1" fill="#4A62A8" fill-opacity="0.4" stroke="#4A62A8" stroke-opacity="0.7" stroke-width="1.1"/>
<circle cx="1331.9" cy="1133.1" r="3.1" fill="#4A62A8" fill-opacity="0.4" stroke="#4A62A8" stroke-opacity="0.7" stroke-width="1.1"/>
<circle cx="1316.8" cy="1147.3" r="3.1" fill="#4A62A8" fill-opacity="0.4" stroke="#4A62A8" stroke-opacity="0.7" stroke-width="1.1"/>
<circle cx="1331.9" cy="1145.8" r="3.1" fill="#4A62A8" fill-opacity="0.4" stroke="#4A62A8" stroke-opacity="0.7" stroke-width="1.1"/>
<circle cx="1347.6" cy="1182.6" r="3.1" fill="#4A62A8" fill-opacity="0.4" stroke="#4A62A8" stroke-opacity="0.7" stroke-width="1.1"/>
<circle cx="1313.7" cy="1187.1" r="3.1" fill="#4A62A8" fill-opacity="0.4" stroke="#4A62A8" stroke-opacity="0.7" stroke-width="1.1"/>
<circle cx="1320.1" cy="1195.3" r="3.1" fill="#4A62A8" fill-opacity="0.4" stroke="#4A62A8" stroke-opacity="0.7" stroke-width="1.1"/>
<circle cx="1332.5" cy="1196.9" r="3.1" fill="#4A62A8" fill-opacity="0.4" stroke="#4A62A8" stroke-opacity="0.7" stroke-width="1.1"/>
<circle cx="1309.8" cy="1209.6" r="3.1" fill="#4A62A8" fill-opacity="0.4" stroke="#4A62A8" stroke-opacity="0.7" stroke-width="1.1"/>
<circle cx="1303.1" cy="1212.9" r="3.1" fill="#4A62A8" fill-opacity="0.4" stroke="#4A62A8" stroke-opacity="0.7" stroke-width="1.1"/>
<circle cx="1333.3" cy="1211.4" r="3.1" fill="#4A62A8" fill-opacity="0.4" stroke="#4A62A8" stroke-opacity="0.7" stroke-width="1.1"/>
<circle cx="1346.6" cy="1209.0" r="3.1" fill="#4A62A8" fill-opacity="0.4" stroke="#4A62A8" stroke-opacity="0.7" stroke-width="1.1"/>
<circle cx="1352.1" cy="1207.1" r="3.1" fill="#4A62A8" fill-opacity="0.4" stroke="#4A62A8" stroke-opacity="0.7" stroke-width="1.1"/>
<circle cx="1292.7" cy="1224.1" r="3.1" fill="#4A62A8" fill-opacity="0.4" stroke="#4A62A8" stroke-opacity="0.7" stroke-width="1.1"/>
<circle cx="1323.5" cy="1224.1" r="3.1" fill="#4A62A8" fill-opacity="0.4" stroke="#4A62A8" stroke-opacity="0.7" stroke-width="1.1"/>
<circle cx="1352.4" cy="1220.4" r="3.1" fill="#4A62A8" fill-opacity="0.4" stroke="#4A62A8" stroke-opacity="0.7" stroke-width="1.1"/>
<circle cx="1368.1" cy="1198.8" r="3.1" fill="#4A62A8" fill-opacity="0.4" stroke="#4A62A8" stroke-opacity="0.7" stroke-width="1.1"/>
<circle cx="1387.3" cy="1206.1" r="3.1" fill="#4A62A8" fill-opacity="0.4" stroke="#4A62A8" stroke-opacity="0.7" stroke-width="1.1"/>
<circle cx="1387.3" cy="1212.9" r="3.1" fill="#4A62A8" fill-opacity="0.4" stroke="#4A62A8" stroke-opacity="0.7" stroke-width="1.1"/>
<circle cx="1396.5" cy="1206.1" r="3.1" fill="#4A62A8" fill-opacity="0.4" stroke="#4A62A8" stroke-opacity="0.7" stroke-width="1.1"/>
<circle cx="1405.3" cy="1225.7" r="3.1" fill="#4A62A8" fill-opacity="0.4" stroke="#4A62A8" stroke-opacity="0.7" stroke-width="1.1"/>
<circle cx="1371.1" cy="1236.4" r="3.1" fill="#4A62A8" fill-opacity="0.4" stroke="#4A62A8" stroke-opacity="0.7" stroke-width="1.1"/>
<circle cx="1356.0" cy="1243.3" r="3.1" fill="#4A62A8" fill-opacity="0.4" stroke="#4A62A8" stroke-opacity="0.7" stroke-width="1.1"/>
<circle cx="1364.8" cy="1253.5" r="3.1" fill="#4A62A8" fill-opacity="0.4" stroke="#4A62A8" stroke-opacity="0.7" stroke-width="1.1"/>
<circle cx="1392.6" cy="1234.5" r="3.1" fill="#4A62A8" fill-opacity="0.4" stroke="#4A62A8" stroke-opacity="0.7" stroke-width="1.1"/>
<circle cx="1392.0" cy="1255.6" r="3.1" fill="#4A62A8" fill-opacity="0.4" stroke="#4A62A8" stroke-opacity="0.7" stroke-width="1.1"/>
<circle cx="1396.5" cy="1262.5" r="3.1" fill="#4A62A8" fill-opacity="0.4" stroke="#4A62A8" stroke-opacity="0.7" stroke-width="1.1"/>
<circle cx="1402.4" cy="1262.5" r="3.1" fill="#4A62A8" fill-opacity="0.4" stroke="#4A62A8" stroke-opacity="0.7" stroke-width="1.1"/>
<circle cx="1408.8" cy="1248.6" r="3.1" fill="#4A62A8" fill-opacity="0.4" stroke="#4A62A8" stroke-opacity="0.7" stroke-width="1.1"/>
<circle cx="1383.4" cy="1271.3" r="3.1" fill="#4A62A8" fill-opacity="0.4" stroke="#4A62A8" stroke-opacity="0.7" stroke-width="1.1"/>
<circle cx="1416.7" cy="1271.3" r="3.1" fill="#4A62A8" fill-opacity="0.4" stroke="#4A62A8" stroke-opacity="0.7" stroke-width="1.1"/>
<circle cx="1288.8" cy="1193.8" r="3.1" fill="#4A62A8" fill-opacity="0.4" stroke="#4A62A8" stroke-opacity="0.7" stroke-width="1.1"/>
<circle cx="1383.4" cy="1187.9" r="3.1" fill="#4A62A8" fill-opacity="0.4" stroke="#4A62A8" stroke-opacity="0.7" stroke-width="1.1"/>
<line x1="1151.7" y1="1176" x2="1416.5" y2="1187.7" stroke="#D63B2F" stroke-width="3.2"/>
<line x1="1151.7" y1="1135.7" x2="1416.5" y2="1240.2" stroke="#E8922F" stroke-width="3.2"/>
<line x1="1151.7" y1="1130" x2="1416.5" y2="1210.7" stroke="#5BB6E2" stroke-width="3.2"/>
<line x1="1151.7" y1="1107.6" x2="1416.5" y2="1237.5" stroke="#1D3A8C" stroke-width="3.2"/>
<text x="1155.8" y="1273.9" font-size="13.8" text-anchor="start" fill="#CF5D55" textLength="132.7" lengthAdjust="spacingAndGlyphs"><tspan font-style="italic">r</tspan> = –0.088, <tspan font-style="italic">P</tspan> = 0.53</text>
<text x="1155.8" y="1291.7" font-size="13.8" text-anchor="start" fill="#E6A460" textLength="132.1" lengthAdjust="spacingAndGlyphs"><tspan font-style="italic">r</tspan> = –0.58, <tspan font-style="italic">P</tspan> &lt; 0.001</text>
<text x="1155.8" y="1310.0" font-size="13.8" text-anchor="start" fill="#6DBCE4" textLength="132.2" lengthAdjust="spacingAndGlyphs"><tspan font-style="italic">r</tspan> = –0.48, <tspan font-style="italic">P</tspan> &lt; 0.001</text>
<text x="1155.8" y="1327.8" font-size="13.8" text-anchor="start" fill="#42568E" textLength="132.2" lengthAdjust="spacingAndGlyphs"><tspan font-style="italic">r</tspan> = –0.66, <tspan font-style="italic">P</tspan> &lt; 0.001</text>
<rect x="1138.3" y="1038.6" width="291.9" height="27.9" fill="#fff" stroke="#555" stroke-width="1.2"/>
<text x="1284.2" y="1057.9" font-size="18" text-anchor="middle" fill="#1a1a1a">Park</text>
<line x1="1138.3" y1="1066.5" x2="1138.3" y2="1345" stroke="#555" stroke-width="1.3"/>
<line x1="1137.7" y1="1345" x2="1430.2" y2="1345" stroke="#555" stroke-width="1.3"/>
<line x1="1132.8" y1="1104.3" x2="1138.3" y2="1104.3" stroke="#555" stroke-width="1.2"/>
<text x="1123.8" y="1109.6" font-size="15" text-anchor="end" fill="#1a1a1a">2</text>
<line x1="1132.8" y1="1156" x2="1138.3" y2="1156" stroke="#555" stroke-width="1.2"/>
<text x="1123.8" y="1161.3" font-size="15" text-anchor="end" fill="#1a1a1a">1</text>
<line x1="1132.8" y1="1207.4" x2="1138.3" y2="1207.4" stroke="#555" stroke-width="1.2"/>
<text x="1123.8" y="1212.7" font-size="15" text-anchor="end" fill="#1a1a1a">0</text>
<line x1="1132.8" y1="1258.9" x2="1138.3" y2="1258.9" stroke="#555" stroke-width="1.2"/>
<text x="1123.8" y="1264.2" font-size="15" text-anchor="end" fill="#1a1a1a">–1</text>
<line x1="1132.8" y1="1310.6" x2="1138.3" y2="1310.6" stroke="#555" stroke-width="1.2"/>
<text x="1123.8" y="1315.9" font-size="15" text-anchor="end" fill="#1a1a1a">–2</text>
<line x1="1197.6" y1="1345" x2="1197.6" y2="1350.5" stroke="#555" stroke-width="1.2"/>
<text x="1197.6" y="1372.5" font-size="15" text-anchor="middle" fill="#1a1a1a" textLength="22.5" lengthAdjust="spacingAndGlyphs">7.0</text>
<line x1="1270.2" y1="1345" x2="1270.2" y2="1350.5" stroke="#555" stroke-width="1.2"/>
<text x="1270.2" y="1372.5" font-size="15" text-anchor="middle" fill="#1a1a1a" textLength="22.5" lengthAdjust="spacingAndGlyphs">7.5</text>
<line x1="1342.7" y1="1345" x2="1342.7" y2="1350.5" stroke="#555" stroke-width="1.2"/>
<text x="1342.7" y="1372.5" font-size="15" text-anchor="middle" fill="#1a1a1a" textLength="22.5" lengthAdjust="spacingAndGlyphs">8.0</text>
<line x1="1415.7" y1="1345" x2="1415.7" y2="1350.5" stroke="#555" stroke-width="1.2"/>
<text x="1415.7" y="1372.5" font-size="15" text-anchor="middle" fill="#1a1a1a" textLength="22.5" lengthAdjust="spacingAndGlyphs">8.5</text>
<text x="141.0" y="647.0" font-size="25" text-anchor="start" fill="#000" font-weight="bold">b</text>
<text x="141.5" y="1027.3" font-size="25" text-anchor="start" fill="#000" font-weight="bold">c</text>
<text x="767.7" y="1003.7" font-size="17" text-anchor="start" fill="#1a1a1a" textLength="36.5" lengthAdjust="spacingAndGlyphs">MAP</text>
<text x="774.2" y="1400.2" font-size="17" text-anchor="start" fill="#1a1a1a" textLength="22.2" lengthAdjust="spacingAndGlyphs">pH</text>
<text x="0" y="0" font-size="18.5" text-anchor="middle" fill="#1a1a1a" transform="translate(98.7 825.9) rotate(-90)" textLength="185" lengthAdjust="spacingAndGlyphs">Standardized richness</text>
<text x="0" y="0" font-size="18.5" text-anchor="middle" fill="#1a1a1a" transform="translate(99.1 1206.5) rotate(-90)" textLength="185" lengthAdjust="spacingAndGlyphs">Standardized richness</text>
</svg></body></html>
